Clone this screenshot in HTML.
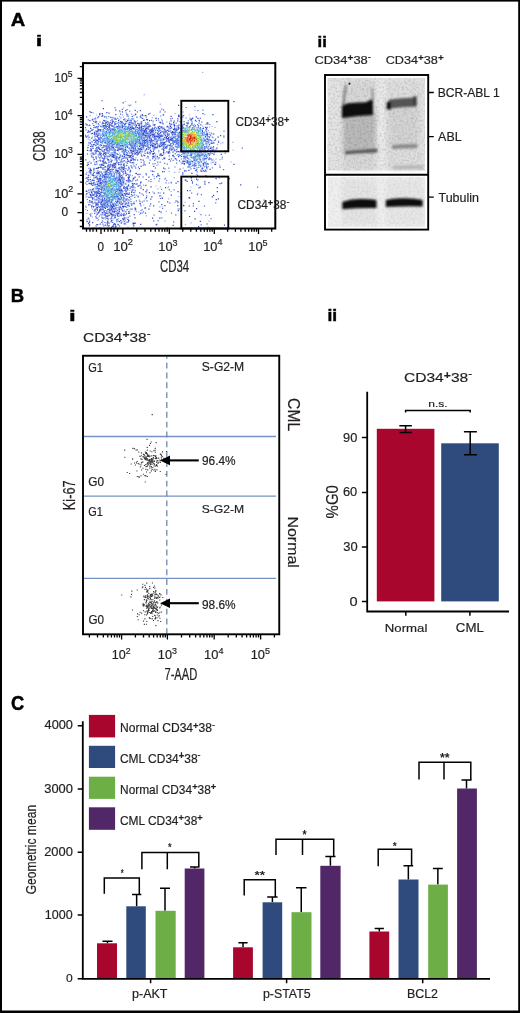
<!DOCTYPE html>
<html><head><meta charset="utf-8"><style>
html,body{margin:0;padding:0;background:#fff;overflow:hidden;}
svg{display:block;}
svg text{font-family:"Liberation Sans",sans-serif;}
</style></head><body>
<svg style="will-change:transform" width="520" height="1013" viewBox="0 0 520 1013">
<rect x="0" y="0" width="520" height="1.6" fill="#000" /><rect x="0" y="0" width="2" height="1013" fill="#000" /><rect x="518.2" y="0" width="1.8" height="1013" fill="#000" /><rect x="0" y="1010.5" width="520" height="2.5" fill="#000" /><g transform="translate(10.75,26.30) scale(0.10037,0.09130)" fill="#000" font-weight="bold" stroke="#000" stroke-width="4.70" ><text x="0.00" y="0.00" font-size="200">A</text></g><g transform="translate(35.85,46.30) scale(0.11786,0.07379)" fill="#000" font-weight="bold" stroke="#000" stroke-width="4.83" ><text x="0.00" y="0.00" font-size="200">i</text></g><g transform="translate(10.70,301.50) scale(0.09262,0.09130)" fill="#000" font-weight="bold" stroke="#000" stroke-width="4.89" ><text x="0.00" y="0.00" font-size="200">B</text></g><g transform="translate(69.10,320.50) scale(0.12143,0.07448)" fill="#000" font-weight="bold" stroke="#000" stroke-width="4.73" ><text x="0.00" y="0.00" font-size="200">i</text></g><g transform="translate(327.48,320.90) scale(0.08690,0.08000)" fill="#000" font-weight="bold" stroke="#000" stroke-width="5.40" ><text x="0.00" y="0.00" font-size="200">ii</text></g><g transform="translate(317.53,46.70) scale(0.08333,0.07724)" fill="#000" font-weight="bold" stroke="#000" stroke-width="5.61" ><text x="0.00" y="0.00" font-size="200">ii</text></g><g transform="translate(11.07,709.61) scale(0.09160,0.09718)" fill="#000" font-weight="bold" stroke="#000" stroke-width="4.77" ><text x="0.00" y="0.00" font-size="200">C</text></g><path d="M77.5 78.3H83M79.8 66.7H83M77.5 115.7H83M79.8 104.1H83M79.8 97.3H83M79.8 92.5H83M79.8 88.8H83M79.8 85.7H83M79.8 83.2H83M79.8 80.9H83M79.8 79.0H83M77.5 154.3H83M79.8 142.7H83M79.8 135.9H83M79.8 131.1H83M79.8 127.4H83M79.8 124.3H83M79.8 121.8H83M79.8 119.5H83M79.8 117.6H83M77.5 193.8H83M79.8 182.2H83M79.8 175.4H83M79.8 170.6H83M79.8 166.9H83M79.8 163.8H83M79.8 161.3H83M79.8 159.0H83M79.8 157.1H83M77.5 212.6H83M79.8 202.5H83M79.8 220.5H83M79.8 226.5H83M122.8 228.5V234.0M136.8 228.5V231.8M145.0 228.5V231.8M150.8 228.5V231.8M155.3 228.5V231.8M159.0 228.5V231.8M162.1 228.5V231.8M164.8 228.5V231.8M167.2 228.5V231.8M169.3 228.5V234.0M182.8 228.5V231.8M190.8 228.5V231.8M196.4 228.5V231.8M200.8 228.5V231.8M204.3 228.5V231.8M207.3 228.5V231.8M209.9 228.5V231.8M212.2 228.5V231.8M214.3 228.5V234.0M227.6 228.5V231.8M235.4 228.5V231.8M240.9 228.5V231.8M245.2 228.5V231.8M248.7 228.5V231.8M251.7 228.5V231.8M254.2 228.5V231.8M256.5 228.5V231.8M258.5 228.5V234.0M271.7 228.5V231.8M101 228.5V234.0M86.5 228.5V231.8M90 228.5V231.8M93 228.5V231.8M96.5 228.5V231.8M104.5 228.5V231.8M108 228.5V231.8M111 228.5V231.8M114 228.5V231.8M117.5 228.5V231.8" stroke="#000" stroke-width="1.3" fill="none" /><defs><filter id="bl" x="-10%" y="-10%" width="120%" height="120%"><feGaussianBlur stdDeviation="0.8"/></filter></defs><g><path fill="#98acf0" d="M202.1 71.7h1.2v1.2h-1.2zM143.6 94.1h1.2v1.2h-1.2zM124.6 101.0h1.2v1.2h-1.2zM159.6 103.5h1.2v1.2h-1.2zM127.7 104.6h1.2v1.2h-1.2zM130.3 104.2h1.2v1.2h-1.2zM122.7 107.5h1.2v1.2h-1.2zM194.4 109.9h1.2v1.2h-1.2zM119.4 111.1h1.2v1.2h-1.2zM159.5 111.7h1.2v1.2h-1.2zM92.6 112.6h1.2v1.2h-1.2zM125.6 112.2h1.2v1.2h-1.2zM149.6 112.6h1.2v1.2h-1.2zM130.8 113.6h1.2v1.2h-1.2zM149.0 112.9h1.2v1.2h-1.2zM174.4 113.1h1.2v1.2h-1.2zM95.9 114.4h1.2v1.2h-1.2zM122.0 114.3h1.2v1.2h-1.2zM132.5 114.4h1.2v1.2h-1.2zM153.2 114.7h1.2v1.2h-1.2zM163.0 114.3h1.2v1.2h-1.2zM182.7 114.7h1.2v1.2h-1.2zM189.0 114.4h1.2v1.2h-1.2zM204.2 114.0h1.2v1.2h-1.2zM89.5 115.1h1.2v1.2h-1.2zM126.3 115.3h1.2v1.2h-1.2zM133.5 115.1h1.2v1.2h-1.2zM119.0 115.9h1.2v1.2h-1.2zM122.8 116.6h1.2v1.2h-1.2zM97.0 117.3h1.2v1.2h-1.2zM145.8 117.1h1.2v1.2h-1.2zM151.7 117.0h1.2v1.2h-1.2zM155.7 117.0h1.2v1.2h-1.2zM189.2 117.2h1.2v1.2h-1.2zM106.2 117.9h1.2v1.2h-1.2zM111.2 118.5h1.2v1.2h-1.2zM112.7 118.0h1.2v1.2h-1.2zM133.1 118.3h1.2v1.2h-1.2zM161.0 118.5h1.2v1.2h-1.2zM190.0 118.6h1.2v1.2h-1.2zM118.5 119.0h1.2v1.2h-1.2zM126.5 119.2h1.2v1.2h-1.2zM129.6 119.3h1.2v1.2h-1.2zM130.7 119.7h1.2v1.2h-1.2zM190.0 119.5h1.2v1.2h-1.2zM109.8 120.4h1.2v1.2h-1.2zM110.1 120.0h1.2v1.2h-1.2zM135.2 120.7h1.2v1.2h-1.2zM137.0 120.0h1.2v1.2h-1.2zM158.2 120.1h1.2v1.2h-1.2zM187.7 119.9h1.2v1.2h-1.2zM133.5 121.3h1.2v1.2h-1.2zM141.3 121.5h1.2v1.2h-1.2zM160.0 121.5h1.2v1.2h-1.2zM166.3 121.3h1.2v1.2h-1.2zM169.0 121.5h1.2v1.2h-1.2zM187.4 121.6h1.2v1.2h-1.2zM105.9 122.5h1.2v1.2h-1.2zM137.4 122.6h1.2v1.2h-1.2zM139.5 122.4h1.2v1.2h-1.2zM152.4 122.6h1.2v1.2h-1.2zM95.7 123.0h1.2v1.2h-1.2zM111.3 122.9h1.2v1.2h-1.2zM120.3 123.0h1.2v1.2h-1.2zM148.3 123.5h1.2v1.2h-1.2zM180.5 123.8h1.2v1.2h-1.2zM194.0 123.8h1.2v1.2h-1.2zM205.1 123.8h1.2v1.2h-1.2zM207.2 123.8h1.2v1.2h-1.2zM85.8 124.5h1.2v1.2h-1.2zM108.7 124.0h1.2v1.2h-1.2zM120.5 124.2h1.2v1.2h-1.2zM133.5 124.5h1.2v1.2h-1.2zM139.2 124.4h1.2v1.2h-1.2zM183.3 124.0h1.2v1.2h-1.2zM87.6 125.1h1.2v1.2h-1.2zM100.1 125.2h1.2v1.2h-1.2zM107.8 125.1h1.2v1.2h-1.2zM113.7 125.6h1.2v1.2h-1.2zM120.6 125.7h1.2v1.2h-1.2zM125.3 125.8h1.2v1.2h-1.2zM129.2 125.2h1.2v1.2h-1.2zM135.4 125.7h1.2v1.2h-1.2zM140.3 125.6h1.2v1.2h-1.2zM143.5 125.0h1.2v1.2h-1.2zM150.1 125.2h1.2v1.2h-1.2zM154.5 125.4h1.2v1.2h-1.2zM174.5 125.0h1.2v1.2h-1.2zM202.2 125.7h1.2v1.2h-1.2zM108.0 126.6h1.2v1.2h-1.2zM121.4 126.5h1.2v1.2h-1.2zM160.6 126.3h1.2v1.2h-1.2zM209.0 126.4h1.2v1.2h-1.2zM211.5 125.9h1.2v1.2h-1.2zM214.5 126.7h1.2v1.2h-1.2zM134.7 127.0h1.2v1.2h-1.2zM168.3 127.6h1.2v1.2h-1.2zM171.3 127.5h1.2v1.2h-1.2zM176.0 127.5h1.2v1.2h-1.2zM191.7 127.2h1.2v1.2h-1.2zM96.9 128.7h1.2v1.2h-1.2zM103.6 127.9h1.2v1.2h-1.2zM126.9 128.7h1.2v1.2h-1.2zM128.5 128.1h1.2v1.2h-1.2zM147.6 128.3h1.2v1.2h-1.2zM150.6 128.4h1.2v1.2h-1.2zM160.4 128.3h1.2v1.2h-1.2zM168.3 128.3h1.2v1.2h-1.2zM172.6 128.4h1.2v1.2h-1.2zM116.4 129.7h1.2v1.2h-1.2zM121.1 129.6h1.2v1.2h-1.2zM134.7 129.6h1.2v1.2h-1.2zM157.2 129.5h1.2v1.2h-1.2zM164.3 129.2h1.2v1.2h-1.2zM166.4 129.5h1.2v1.2h-1.2zM167.7 129.0h1.2v1.2h-1.2zM175.7 129.6h1.2v1.2h-1.2zM91.7 129.9h1.2v1.2h-1.2zM98.0 130.5h1.2v1.2h-1.2zM111.6 130.6h1.2v1.2h-1.2zM123.5 130.7h1.2v1.2h-1.2zM134.7 130.3h1.2v1.2h-1.2zM137.2 130.5h1.2v1.2h-1.2zM153.6 130.3h1.2v1.2h-1.2zM166.3 130.2h1.2v1.2h-1.2zM176.3 130.0h1.2v1.2h-1.2zM205.3 130.0h1.2v1.2h-1.2zM207.8 130.1h1.2v1.2h-1.2zM101.2 130.9h1.2v1.2h-1.2zM102.5 131.3h1.2v1.2h-1.2zM104.7 131.1h1.2v1.2h-1.2zM139.0 131.8h1.2v1.2h-1.2zM150.2 131.2h1.2v1.2h-1.2zM161.5 131.7h1.2v1.2h-1.2zM204.1 131.3h1.2v1.2h-1.2zM99.3 132.5h1.2v1.2h-1.2zM146.7 132.5h1.2v1.2h-1.2zM154.7 132.2h1.2v1.2h-1.2zM166.8 132.0h1.2v1.2h-1.2zM167.4 132.7h1.2v1.2h-1.2zM174.4 132.2h1.2v1.2h-1.2zM202.0 132.2h1.2v1.2h-1.2zM208.7 132.1h1.2v1.2h-1.2zM95.8 133.1h1.2v1.2h-1.2zM99.0 133.4h1.2v1.2h-1.2zM101.5 133.0h1.2v1.2h-1.2zM103.5 133.6h1.2v1.2h-1.2zM156.5 133.6h1.2v1.2h-1.2zM160.9 133.7h1.2v1.2h-1.2zM165.0 133.3h1.2v1.2h-1.2zM167.1 133.7h1.2v1.2h-1.2zM84.9 134.6h1.2v1.2h-1.2zM87.8 134.5h1.2v1.2h-1.2zM94.4 134.3h1.2v1.2h-1.2zM149.6 134.1h1.2v1.2h-1.2zM151.4 134.8h1.2v1.2h-1.2zM154.0 134.7h1.2v1.2h-1.2zM160.3 134.7h1.2v1.2h-1.2zM161.5 134.7h1.2v1.2h-1.2zM174.3 134.2h1.2v1.2h-1.2zM105.7 135.0h1.2v1.2h-1.2zM141.7 135.2h1.2v1.2h-1.2zM142.7 135.0h1.2v1.2h-1.2zM163.6 135.4h1.2v1.2h-1.2zM171.7 135.4h1.2v1.2h-1.2zM174.5 135.6h1.2v1.2h-1.2zM176.4 135.0h1.2v1.2h-1.2zM92.0 136.5h1.2v1.2h-1.2zM152.5 136.7h1.2v1.2h-1.2zM152.9 136.6h1.2v1.2h-1.2zM154.8 136.6h1.2v1.2h-1.2zM166.0 136.0h1.2v1.2h-1.2zM169.1 136.2h1.2v1.2h-1.2zM170.7 136.0h1.2v1.2h-1.2zM172.6 136.5h1.2v1.2h-1.2zM90.7 137.4h1.2v1.2h-1.2zM97.0 137.1h1.2v1.2h-1.2zM145.1 137.2h1.2v1.2h-1.2zM149.2 137.2h1.2v1.2h-1.2zM155.2 137.6h1.2v1.2h-1.2zM165.3 137.7h1.2v1.2h-1.2zM169.8 137.2h1.2v1.2h-1.2zM212.6 137.0h1.2v1.2h-1.2zM223.3 137.0h1.2v1.2h-1.2zM87.7 138.2h1.2v1.2h-1.2zM100.3 138.2h1.2v1.2h-1.2zM105.3 138.1h1.2v1.2h-1.2zM143.2 138.1h1.2v1.2h-1.2zM149.2 138.5h1.2v1.2h-1.2zM153.8 138.3h1.2v1.2h-1.2zM154.2 138.6h1.2v1.2h-1.2zM92.7 139.5h1.2v1.2h-1.2zM141.9 139.4h1.2v1.2h-1.2zM148.0 139.7h1.2v1.2h-1.2zM156.3 139.3h1.2v1.2h-1.2zM157.2 139.3h1.2v1.2h-1.2zM162.8 139.3h1.2v1.2h-1.2zM171.6 139.2h1.2v1.2h-1.2zM173.3 139.7h1.2v1.2h-1.2zM210.2 139.6h1.2v1.2h-1.2zM105.4 140.0h1.2v1.2h-1.2zM153.5 140.8h1.2v1.2h-1.2zM212.6 140.4h1.2v1.2h-1.2zM218.0 140.6h1.2v1.2h-1.2zM90.9 141.1h1.2v1.2h-1.2zM105.1 141.6h1.2v1.2h-1.2zM164.7 141.0h1.2v1.2h-1.2zM211.3 141.6h1.2v1.2h-1.2zM232.5 141.7h1.2v1.2h-1.2zM90.0 142.8h1.2v1.2h-1.2zM95.4 142.2h1.2v1.2h-1.2zM102.0 142.7h1.2v1.2h-1.2zM134.7 142.4h1.2v1.2h-1.2zM141.8 142.1h1.2v1.2h-1.2zM145.3 142.5h1.2v1.2h-1.2zM156.6 142.0h1.2v1.2h-1.2zM159.9 142.5h1.2v1.2h-1.2zM171.6 142.4h1.2v1.2h-1.2zM202.3 142.6h1.2v1.2h-1.2zM222.3 142.1h1.2v1.2h-1.2zM101.7 143.0h1.2v1.2h-1.2zM111.6 142.9h1.2v1.2h-1.2zM113.7 143.5h1.2v1.2h-1.2zM127.0 142.9h1.2v1.2h-1.2zM134.4 143.1h1.2v1.2h-1.2zM142.5 143.2h1.2v1.2h-1.2zM147.6 143.6h1.2v1.2h-1.2zM148.5 143.7h1.2v1.2h-1.2zM149.6 143.6h1.2v1.2h-1.2zM150.1 143.5h1.2v1.2h-1.2zM152.5 143.4h1.2v1.2h-1.2zM157.4 143.5h1.2v1.2h-1.2zM160.2 143.2h1.2v1.2h-1.2zM161.2 143.5h1.2v1.2h-1.2zM176.7 143.3h1.2v1.2h-1.2zM179.3 142.9h1.2v1.2h-1.2zM210.6 142.9h1.2v1.2h-1.2zM216.9 143.7h1.2v1.2h-1.2zM220.5 143.0h1.2v1.2h-1.2zM99.2 144.2h1.2v1.2h-1.2zM106.5 144.8h1.2v1.2h-1.2zM107.0 144.8h1.2v1.2h-1.2zM108.5 144.5h1.2v1.2h-1.2zM121.6 144.8h1.2v1.2h-1.2zM125.1 144.0h1.2v1.2h-1.2zM126.3 144.3h1.2v1.2h-1.2zM145.6 144.3h1.2v1.2h-1.2zM146.8 144.3h1.2v1.2h-1.2zM147.4 144.5h1.2v1.2h-1.2zM153.7 144.1h1.2v1.2h-1.2zM157.0 144.0h1.2v1.2h-1.2zM164.4 144.1h1.2v1.2h-1.2zM167.0 144.4h1.2v1.2h-1.2zM172.1 144.6h1.2v1.2h-1.2zM176.5 144.1h1.2v1.2h-1.2zM97.7 145.7h1.2v1.2h-1.2zM103.3 145.2h1.2v1.2h-1.2zM106.1 145.4h1.2v1.2h-1.2zM111.2 145.6h1.2v1.2h-1.2zM136.7 145.7h1.2v1.2h-1.2zM142.2 145.1h1.2v1.2h-1.2zM146.6 145.6h1.2v1.2h-1.2zM167.0 145.6h1.2v1.2h-1.2zM171.2 145.5h1.2v1.2h-1.2zM91.6 146.2h1.2v1.2h-1.2zM102.8 145.9h1.2v1.2h-1.2zM108.9 146.6h1.2v1.2h-1.2zM113.7 146.0h1.2v1.2h-1.2zM121.2 146.3h1.2v1.2h-1.2zM130.5 146.0h1.2v1.2h-1.2zM133.5 145.9h1.2v1.2h-1.2zM146.1 145.9h1.2v1.2h-1.2zM162.6 146.0h1.2v1.2h-1.2zM162.9 146.2h1.2v1.2h-1.2zM176.3 146.1h1.2v1.2h-1.2zM178.2 146.7h1.2v1.2h-1.2zM178.9 146.2h1.2v1.2h-1.2zM118.4 147.2h1.2v1.2h-1.2zM135.1 147.1h1.2v1.2h-1.2zM141.5 146.9h1.2v1.2h-1.2zM165.8 147.4h1.2v1.2h-1.2zM202.2 147.1h1.2v1.2h-1.2zM207.9 147.2h1.2v1.2h-1.2zM106.2 148.3h1.2v1.2h-1.2zM143.3 148.6h1.2v1.2h-1.2zM152.2 147.9h1.2v1.2h-1.2zM154.2 148.4h1.2v1.2h-1.2zM207.6 148.7h1.2v1.2h-1.2zM105.4 149.4h1.2v1.2h-1.2zM124.4 149.4h1.2v1.2h-1.2zM127.2 149.7h1.2v1.2h-1.2zM132.8 149.1h1.2v1.2h-1.2zM137.5 149.6h1.2v1.2h-1.2zM202.5 149.5h1.2v1.2h-1.2zM214.4 149.0h1.2v1.2h-1.2zM232.5 149.4h1.2v1.2h-1.2zM88.6 150.0h1.2v1.2h-1.2zM117.7 150.2h1.2v1.2h-1.2zM121.6 150.4h1.2v1.2h-1.2zM124.8 150.4h1.2v1.2h-1.2zM134.3 150.4h1.2v1.2h-1.2zM138.5 150.5h1.2v1.2h-1.2zM144.9 150.0h1.2v1.2h-1.2zM158.3 150.0h1.2v1.2h-1.2zM173.2 150.3h1.2v1.2h-1.2zM174.7 150.2h1.2v1.2h-1.2zM200.6 150.5h1.2v1.2h-1.2zM203.0 149.9h1.2v1.2h-1.2zM100.2 151.3h1.2v1.2h-1.2zM143.5 151.2h1.2v1.2h-1.2zM148.8 151.8h1.2v1.2h-1.2zM158.1 151.3h1.2v1.2h-1.2zM189.5 151.6h1.2v1.2h-1.2zM99.4 152.2h1.2v1.2h-1.2zM110.6 152.3h1.2v1.2h-1.2zM119.1 152.4h1.2v1.2h-1.2zM128.6 152.5h1.2v1.2h-1.2zM129.1 152.0h1.2v1.2h-1.2zM141.2 151.9h1.2v1.2h-1.2zM150.0 152.3h1.2v1.2h-1.2zM164.4 152.3h1.2v1.2h-1.2zM183.6 152.5h1.2v1.2h-1.2zM89.9 153.4h1.2v1.2h-1.2zM113.6 153.5h1.2v1.2h-1.2zM114.7 153.6h1.2v1.2h-1.2zM118.0 153.5h1.2v1.2h-1.2zM129.4 153.0h1.2v1.2h-1.2zM132.5 153.1h1.2v1.2h-1.2zM140.2 152.9h1.2v1.2h-1.2zM155.2 153.5h1.2v1.2h-1.2zM185.1 153.4h1.2v1.2h-1.2zM91.2 154.6h1.2v1.2h-1.2zM92.3 154.0h1.2v1.2h-1.2zM93.7 153.9h1.2v1.2h-1.2zM99.0 154.3h1.2v1.2h-1.2zM120.2 154.4h1.2v1.2h-1.2zM137.1 154.1h1.2v1.2h-1.2zM176.4 154.7h1.2v1.2h-1.2zM183.5 154.4h1.2v1.2h-1.2zM213.1 154.0h1.2v1.2h-1.2zM106.0 155.3h1.2v1.2h-1.2zM207.5 155.4h1.2v1.2h-1.2zM90.7 156.2h1.2v1.2h-1.2zM100.4 156.6h1.2v1.2h-1.2zM107.0 155.9h1.2v1.2h-1.2zM111.3 156.4h1.2v1.2h-1.2zM115.2 156.5h1.2v1.2h-1.2zM116.2 156.6h1.2v1.2h-1.2zM120.4 156.0h1.2v1.2h-1.2zM196.4 156.7h1.2v1.2h-1.2zM198.2 156.5h1.2v1.2h-1.2zM101.2 157.3h1.2v1.2h-1.2zM105.4 157.4h1.2v1.2h-1.2zM107.1 157.1h1.2v1.2h-1.2zM135.4 157.0h1.2v1.2h-1.2zM145.7 157.3h1.2v1.2h-1.2zM155.1 157.5h1.2v1.2h-1.2zM157.0 157.1h1.2v1.2h-1.2zM208.1 157.8h1.2v1.2h-1.2zM118.0 158.0h1.2v1.2h-1.2zM131.3 158.5h1.2v1.2h-1.2zM135.1 158.8h1.2v1.2h-1.2zM157.7 158.5h1.2v1.2h-1.2zM162.0 158.7h1.2v1.2h-1.2zM184.4 158.5h1.2v1.2h-1.2zM185.2 158.7h1.2v1.2h-1.2zM215.4 158.5h1.2v1.2h-1.2zM99.5 158.9h1.2v1.2h-1.2zM114.1 159.3h1.2v1.2h-1.2zM118.4 159.0h1.2v1.2h-1.2zM119.2 159.4h1.2v1.2h-1.2zM121.4 159.3h1.2v1.2h-1.2zM203.1 159.3h1.2v1.2h-1.2zM212.4 159.1h1.2v1.2h-1.2zM219.3 159.1h1.2v1.2h-1.2zM93.1 160.3h1.2v1.2h-1.2zM97.5 160.1h1.2v1.2h-1.2zM99.1 160.0h1.2v1.2h-1.2zM107.2 160.3h1.2v1.2h-1.2zM132.9 160.3h1.2v1.2h-1.2zM184.9 160.5h1.2v1.2h-1.2zM188.0 160.4h1.2v1.2h-1.2zM205.8 160.7h1.2v1.2h-1.2zM213.6 160.4h1.2v1.2h-1.2zM88.6 161.1h1.2v1.2h-1.2zM109.5 161.2h1.2v1.2h-1.2zM120.2 161.3h1.2v1.2h-1.2zM180.2 161.7h1.2v1.2h-1.2zM184.7 161.3h1.2v1.2h-1.2zM204.3 161.5h1.2v1.2h-1.2zM230.5 161.4h1.2v1.2h-1.2zM114.7 162.7h1.2v1.2h-1.2zM118.0 162.5h1.2v1.2h-1.2zM121.4 162.0h1.2v1.2h-1.2zM143.3 162.2h1.2v1.2h-1.2zM181.8 162.6h1.2v1.2h-1.2zM199.3 162.3h1.2v1.2h-1.2zM210.6 162.3h1.2v1.2h-1.2zM108.0 163.6h1.2v1.2h-1.2zM110.3 163.5h1.2v1.2h-1.2zM112.5 163.6h1.2v1.2h-1.2zM115.6 163.5h1.2v1.2h-1.2zM157.5 163.5h1.2v1.2h-1.2zM180.8 163.3h1.2v1.2h-1.2zM189.7 163.3h1.2v1.2h-1.2zM196.0 163.2h1.2v1.2h-1.2zM107.5 164.6h1.2v1.2h-1.2zM132.7 164.2h1.2v1.2h-1.2zM156.3 164.7h1.2v1.2h-1.2zM219.0 164.6h1.2v1.2h-1.2zM124.0 165.8h1.2v1.2h-1.2zM125.7 165.2h1.2v1.2h-1.2zM191.1 165.8h1.2v1.2h-1.2zM200.5 165.0h1.2v1.2h-1.2zM111.5 166.4h1.2v1.2h-1.2zM113.3 166.7h1.2v1.2h-1.2zM119.3 166.5h1.2v1.2h-1.2zM134.6 166.2h1.2v1.2h-1.2zM193.4 166.1h1.2v1.2h-1.2zM201.7 166.8h1.2v1.2h-1.2zM204.6 165.9h1.2v1.2h-1.2zM207.8 166.1h1.2v1.2h-1.2zM88.0 167.7h1.2v1.2h-1.2zM89.6 167.5h1.2v1.2h-1.2zM102.4 167.6h1.2v1.2h-1.2zM106.9 166.9h1.2v1.2h-1.2zM117.5 167.8h1.2v1.2h-1.2zM182.7 167.5h1.2v1.2h-1.2zM118.7 168.1h1.2v1.2h-1.2zM194.3 168.0h1.2v1.2h-1.2zM206.6 168.5h1.2v1.2h-1.2zM120.3 169.5h1.2v1.2h-1.2zM196.4 169.0h1.2v1.2h-1.2zM93.2 170.6h1.2v1.2h-1.2zM110.9 170.7h1.2v1.2h-1.2zM117.2 170.5h1.2v1.2h-1.2zM168.6 170.7h1.2v1.2h-1.2zM86.4 171.7h1.2v1.2h-1.2zM99.6 171.3h1.2v1.2h-1.2zM101.1 171.7h1.2v1.2h-1.2zM174.1 171.8h1.2v1.2h-1.2zM178.6 171.5h1.2v1.2h-1.2zM205.7 171.1h1.2v1.2h-1.2zM105.9 172.5h1.2v1.2h-1.2zM99.2 173.5h1.2v1.2h-1.2zM102.1 173.4h1.2v1.2h-1.2zM137.6 173.4h1.2v1.2h-1.2zM196.1 173.7h1.2v1.2h-1.2zM90.5 174.2h1.2v1.2h-1.2zM107.6 174.0h1.2v1.2h-1.2zM96.6 175.0h1.2v1.2h-1.2zM97.2 175.0h1.2v1.2h-1.2zM101.7 175.3h1.2v1.2h-1.2zM106.0 175.7h1.2v1.2h-1.2zM109.7 175.4h1.2v1.2h-1.2zM117.7 175.4h1.2v1.2h-1.2zM125.4 175.1h1.2v1.2h-1.2zM131.8 175.0h1.2v1.2h-1.2zM153.4 175.7h1.2v1.2h-1.2zM89.8 176.6h1.2v1.2h-1.2zM98.9 176.0h1.2v1.2h-1.2zM100.2 176.2h1.2v1.2h-1.2zM114.1 176.6h1.2v1.2h-1.2zM120.4 176.5h1.2v1.2h-1.2zM127.1 176.7h1.2v1.2h-1.2zM186.2 176.6h1.2v1.2h-1.2zM210.3 176.3h1.2v1.2h-1.2zM98.3 177.8h1.2v1.2h-1.2zM112.8 177.4h1.2v1.2h-1.2zM123.7 177.5h1.2v1.2h-1.2zM164.9 177.7h1.2v1.2h-1.2zM173.6 177.1h1.2v1.2h-1.2zM196.0 177.5h1.2v1.2h-1.2zM96.3 178.7h1.2v1.2h-1.2zM121.3 178.0h1.2v1.2h-1.2zM123.6 178.0h1.2v1.2h-1.2zM190.5 178.1h1.2v1.2h-1.2zM123.8 179.2h1.2v1.2h-1.2zM197.7 179.1h1.2v1.2h-1.2zM91.3 180.1h1.2v1.2h-1.2zM97.8 180.7h1.2v1.2h-1.2zM104.5 180.7h1.2v1.2h-1.2zM107.4 180.3h1.2v1.2h-1.2zM131.7 180.8h1.2v1.2h-1.2zM197.1 180.1h1.2v1.2h-1.2zM97.2 181.2h1.2v1.2h-1.2zM91.5 182.6h1.2v1.2h-1.2zM122.0 182.0h1.2v1.2h-1.2zM125.2 182.5h1.2v1.2h-1.2zM168.2 182.6h1.2v1.2h-1.2zM90.0 182.9h1.2v1.2h-1.2zM123.7 183.2h1.2v1.2h-1.2zM132.5 183.2h1.2v1.2h-1.2zM99.1 184.4h1.2v1.2h-1.2zM133.2 184.4h1.2v1.2h-1.2zM197.3 184.7h1.2v1.2h-1.2zM121.0 185.4h1.2v1.2h-1.2zM140.7 185.8h1.2v1.2h-1.2zM155.5 185.4h1.2v1.2h-1.2zM102.2 186.4h1.2v1.2h-1.2zM126.0 186.4h1.2v1.2h-1.2zM159.7 186.2h1.2v1.2h-1.2zM168.2 186.3h1.2v1.2h-1.2zM190.3 186.4h1.2v1.2h-1.2zM94.3 187.6h1.2v1.2h-1.2zM131.9 187.0h1.2v1.2h-1.2zM133.5 187.3h1.2v1.2h-1.2zM134.7 187.0h1.2v1.2h-1.2zM167.4 187.0h1.2v1.2h-1.2zM95.6 188.0h1.2v1.2h-1.2zM102.3 188.5h1.2v1.2h-1.2zM103.7 188.5h1.2v1.2h-1.2zM113.9 188.1h1.2v1.2h-1.2zM120.5 188.4h1.2v1.2h-1.2zM124.6 188.5h1.2v1.2h-1.2zM157.3 188.3h1.2v1.2h-1.2zM95.5 189.0h1.2v1.2h-1.2zM129.1 189.8h1.2v1.2h-1.2zM91.7 190.5h1.2v1.2h-1.2zM114.4 190.5h1.2v1.2h-1.2zM87.0 191.2h1.2v1.2h-1.2zM98.1 191.4h1.2v1.2h-1.2zM102.0 191.8h1.2v1.2h-1.2zM111.3 191.3h1.2v1.2h-1.2zM121.2 191.3h1.2v1.2h-1.2zM134.6 191.2h1.2v1.2h-1.2zM152.2 191.2h1.2v1.2h-1.2zM170.4 190.9h1.2v1.2h-1.2zM96.2 192.0h1.2v1.2h-1.2zM99.3 192.5h1.2v1.2h-1.2zM101.3 192.1h1.2v1.2h-1.2zM112.0 192.6h1.2v1.2h-1.2zM146.0 192.4h1.2v1.2h-1.2zM180.0 192.3h1.2v1.2h-1.2zM197.3 192.7h1.2v1.2h-1.2zM97.1 193.0h1.2v1.2h-1.2zM120.2 193.4h1.2v1.2h-1.2zM123.3 193.1h1.2v1.2h-1.2zM126.9 193.0h1.2v1.2h-1.2zM180.3 193.5h1.2v1.2h-1.2zM136.0 194.7h1.2v1.2h-1.2zM94.3 195.5h1.2v1.2h-1.2zM118.6 195.0h1.2v1.2h-1.2zM120.1 195.2h1.2v1.2h-1.2zM124.7 195.4h1.2v1.2h-1.2zM137.6 195.6h1.2v1.2h-1.2zM160.4 195.1h1.2v1.2h-1.2zM87.2 195.9h1.2v1.2h-1.2zM89.7 196.4h1.2v1.2h-1.2zM129.7 196.0h1.2v1.2h-1.2zM178.1 195.9h1.2v1.2h-1.2zM117.0 197.3h1.2v1.2h-1.2zM119.1 197.4h1.2v1.2h-1.2zM123.9 197.4h1.2v1.2h-1.2zM128.4 197.0h1.2v1.2h-1.2zM160.7 197.5h1.2v1.2h-1.2zM95.6 198.5h1.2v1.2h-1.2zM96.6 198.6h1.2v1.2h-1.2zM99.3 198.0h1.2v1.2h-1.2zM121.3 198.4h1.2v1.2h-1.2zM144.7 198.3h1.2v1.2h-1.2zM168.1 198.2h1.2v1.2h-1.2zM97.1 199.2h1.2v1.2h-1.2zM98.1 199.7h1.2v1.2h-1.2zM105.7 199.3h1.2v1.2h-1.2zM108.0 199.3h1.2v1.2h-1.2zM122.3 199.0h1.2v1.2h-1.2zM138.7 199.6h1.2v1.2h-1.2zM97.6 200.2h1.2v1.2h-1.2zM116.6 200.0h1.2v1.2h-1.2zM119.7 200.6h1.2v1.2h-1.2zM122.4 199.9h1.2v1.2h-1.2zM127.5 200.4h1.2v1.2h-1.2zM129.3 200.3h1.2v1.2h-1.2zM87.4 201.5h1.2v1.2h-1.2zM94.5 201.3h1.2v1.2h-1.2zM127.3 201.1h1.2v1.2h-1.2zM174.5 201.7h1.2v1.2h-1.2zM184.5 201.7h1.2v1.2h-1.2zM99.7 202.7h1.2v1.2h-1.2zM114.2 202.5h1.2v1.2h-1.2zM125.4 203.7h1.2v1.2h-1.2zM126.3 203.0h1.2v1.2h-1.2zM129.6 203.2h1.2v1.2h-1.2zM117.7 204.6h1.2v1.2h-1.2zM121.9 204.0h1.2v1.2h-1.2zM143.2 204.4h1.2v1.2h-1.2zM85.0 205.5h1.2v1.2h-1.2zM92.1 205.6h1.2v1.2h-1.2zM100.4 205.2h1.2v1.2h-1.2zM105.2 205.3h1.2v1.2h-1.2zM117.4 205.1h1.2v1.2h-1.2zM127.1 206.4h1.2v1.2h-1.2zM159.3 206.3h1.2v1.2h-1.2zM162.0 206.4h1.2v1.2h-1.2zM91.0 207.4h1.2v1.2h-1.2zM111.2 207.0h1.2v1.2h-1.2zM115.0 207.2h1.2v1.2h-1.2zM116.7 206.9h1.2v1.2h-1.2zM120.3 207.5h1.2v1.2h-1.2zM92.0 208.7h1.2v1.2h-1.2zM95.4 207.9h1.2v1.2h-1.2zM108.9 208.5h1.2v1.2h-1.2zM113.7 208.2h1.2v1.2h-1.2zM128.4 208.5h1.2v1.2h-1.2zM135.5 208.5h1.2v1.2h-1.2zM177.3 208.3h1.2v1.2h-1.2zM85.1 208.9h1.2v1.2h-1.2zM124.0 209.5h1.2v1.2h-1.2zM100.4 210.5h1.2v1.2h-1.2zM115.0 210.8h1.2v1.2h-1.2zM116.4 210.4h1.2v1.2h-1.2zM129.3 210.4h1.2v1.2h-1.2zM136.0 210.8h1.2v1.2h-1.2zM165.6 210.7h1.2v1.2h-1.2zM109.2 211.8h1.2v1.2h-1.2zM112.1 211.6h1.2v1.2h-1.2zM138.2 211.6h1.2v1.2h-1.2zM86.3 212.7h1.2v1.2h-1.2zM119.4 212.1h1.2v1.2h-1.2zM160.7 212.2h1.2v1.2h-1.2zM91.4 213.1h1.2v1.2h-1.2zM100.1 213.8h1.2v1.2h-1.2zM105.2 213.3h1.2v1.2h-1.2zM107.8 213.0h1.2v1.2h-1.2zM139.2 213.7h1.2v1.2h-1.2zM117.3 214.0h1.2v1.2h-1.2zM119.5 214.5h1.2v1.2h-1.2zM205.0 214.7h1.2v1.2h-1.2zM98.7 215.7h1.2v1.2h-1.2zM99.1 215.1h1.2v1.2h-1.2zM108.4 215.0h1.2v1.2h-1.2zM113.5 215.0h1.2v1.2h-1.2zM121.1 215.0h1.2v1.2h-1.2zM145.8 215.3h1.2v1.2h-1.2zM91.8 216.5h1.2v1.2h-1.2zM106.5 216.6h1.2v1.2h-1.2zM107.3 216.1h1.2v1.2h-1.2zM117.2 215.9h1.2v1.2h-1.2zM95.4 217.3h1.2v1.2h-1.2zM104.8 218.6h1.2v1.2h-1.2zM108.2 218.3h1.2v1.2h-1.2zM112.5 217.9h1.2v1.2h-1.2zM118.1 218.1h1.2v1.2h-1.2zM98.0 219.1h1.2v1.2h-1.2zM110.3 218.9h1.2v1.2h-1.2zM112.2 219.6h1.2v1.2h-1.2zM97.2 219.9h1.2v1.2h-1.2zM101.8 220.1h1.2v1.2h-1.2zM102.3 220.7h1.2v1.2h-1.2zM164.5 220.5h1.2v1.2h-1.2zM208.4 220.5h1.2v1.2h-1.2zM127.7 221.7h1.2v1.2h-1.2zM113.2 222.5h1.2v1.2h-1.2zM190.5 222.3h1.2v1.2h-1.2zM125.2 223.8h1.2v1.2h-1.2zM117.7 224.6h1.2v1.2h-1.2zM184.9 224.1h1.2v1.2h-1.2zM106.5 226.4h1.2v1.2h-1.2zM127.4 226.4h1.2v1.2h-1.2zM132.5 226.7h1.2v1.2h-1.2zM207.5 226.3h1.2v1.2h-1.2zM93.5 227.5h1.2v1.2h-1.2zM109.1 227.1h1.2v1.2h-1.2z"/><path fill="#5672de" d="M101.4 100.1h1.2v1.2h-1.2zM129.2 105.0h1.2v1.2h-1.2zM194.3 106.0h1.2v1.2h-1.2zM114.4 107.0h1.2v1.2h-1.2zM185.5 106.9h1.2v1.2h-1.2zM161.3 108.6h1.2v1.2h-1.2zM126.5 109.1h1.2v1.2h-1.2zM202.3 109.5h1.2v1.2h-1.2zM119.1 110.3h1.2v1.2h-1.2zM159.7 110.4h1.2v1.2h-1.2zM89.2 111.0h1.2v1.2h-1.2zM136.8 111.3h1.2v1.2h-1.2zM164.4 111.2h1.2v1.2h-1.2zM182.5 111.4h1.2v1.2h-1.2zM91.1 111.9h1.2v1.2h-1.2zM120.0 113.6h1.2v1.2h-1.2zM126.0 113.6h1.2v1.2h-1.2zM127.1 114.3h1.2v1.2h-1.2zM134.8 114.1h1.2v1.2h-1.2zM127.5 115.8h1.2v1.2h-1.2zM140.3 114.9h1.2v1.2h-1.2zM145.7 115.2h1.2v1.2h-1.2zM160.1 115.4h1.2v1.2h-1.2zM183.1 114.9h1.2v1.2h-1.2zM268.3 115.1h1.2v1.2h-1.2zM97.3 116.7h1.2v1.2h-1.2zM98.0 116.0h1.2v1.2h-1.2zM105.9 116.4h1.2v1.2h-1.2zM108.2 116.0h1.2v1.2h-1.2zM95.0 117.6h1.2v1.2h-1.2zM114.5 117.6h1.2v1.2h-1.2zM117.2 117.7h1.2v1.2h-1.2zM120.2 117.4h1.2v1.2h-1.2zM141.3 117.4h1.2v1.2h-1.2zM171.8 117.7h1.2v1.2h-1.2zM180.4 117.2h1.2v1.2h-1.2zM185.4 117.4h1.2v1.2h-1.2zM199.7 117.8h1.2v1.2h-1.2zM92.1 118.8h1.2v1.2h-1.2zM115.6 118.8h1.2v1.2h-1.2zM131.3 118.3h1.2v1.2h-1.2zM157.8 118.3h1.2v1.2h-1.2zM170.1 118.3h1.2v1.2h-1.2zM87.7 119.3h1.2v1.2h-1.2zM95.2 119.4h1.2v1.2h-1.2zM103.4 119.7h1.2v1.2h-1.2zM143.9 119.6h1.2v1.2h-1.2zM150.9 119.7h1.2v1.2h-1.2zM155.8 119.7h1.2v1.2h-1.2zM93.0 120.7h1.2v1.2h-1.2zM104.0 120.6h1.2v1.2h-1.2zM105.3 120.3h1.2v1.2h-1.2zM112.7 120.8h1.2v1.2h-1.2zM120.0 120.8h1.2v1.2h-1.2zM129.3 120.2h1.2v1.2h-1.2zM130.7 119.9h1.2v1.2h-1.2zM152.5 120.5h1.2v1.2h-1.2zM161.7 120.3h1.2v1.2h-1.2zM195.6 120.8h1.2v1.2h-1.2zM96.1 121.0h1.2v1.2h-1.2zM99.4 121.6h1.2v1.2h-1.2zM102.3 121.4h1.2v1.2h-1.2zM113.4 121.4h1.2v1.2h-1.2zM135.1 121.3h1.2v1.2h-1.2zM140.7 121.1h1.2v1.2h-1.2zM159.2 121.7h1.2v1.2h-1.2zM183.5 121.1h1.2v1.2h-1.2zM191.5 121.6h1.2v1.2h-1.2zM201.2 121.6h1.2v1.2h-1.2zM105.1 122.3h1.2v1.2h-1.2zM107.5 122.3h1.2v1.2h-1.2zM108.7 122.8h1.2v1.2h-1.2zM114.0 122.5h1.2v1.2h-1.2zM117.5 122.2h1.2v1.2h-1.2zM119.4 122.5h1.2v1.2h-1.2zM123.0 122.7h1.2v1.2h-1.2zM127.7 122.4h1.2v1.2h-1.2zM134.6 122.6h1.2v1.2h-1.2zM144.9 122.3h1.2v1.2h-1.2zM147.3 122.0h1.2v1.2h-1.2zM161.3 122.5h1.2v1.2h-1.2zM162.1 122.6h1.2v1.2h-1.2zM85.2 123.3h1.2v1.2h-1.2zM101.7 123.2h1.2v1.2h-1.2zM104.6 123.0h1.2v1.2h-1.2zM105.2 123.1h1.2v1.2h-1.2zM106.8 123.7h1.2v1.2h-1.2zM108.5 123.5h1.2v1.2h-1.2zM125.0 123.3h1.2v1.2h-1.2zM131.7 123.1h1.2v1.2h-1.2zM138.3 123.3h1.2v1.2h-1.2zM139.4 123.6h1.2v1.2h-1.2zM141.1 123.1h1.2v1.2h-1.2zM162.7 123.4h1.2v1.2h-1.2zM171.0 123.5h1.2v1.2h-1.2zM206.3 123.2h1.2v1.2h-1.2zM98.5 124.4h1.2v1.2h-1.2zM117.9 124.3h1.2v1.2h-1.2zM138.1 124.7h1.2v1.2h-1.2zM141.1 124.4h1.2v1.2h-1.2zM145.2 124.2h1.2v1.2h-1.2zM148.4 124.6h1.2v1.2h-1.2zM192.5 124.7h1.2v1.2h-1.2zM197.0 124.0h1.2v1.2h-1.2zM209.2 123.9h1.2v1.2h-1.2zM105.8 125.6h1.2v1.2h-1.2zM109.1 124.9h1.2v1.2h-1.2zM118.3 125.5h1.2v1.2h-1.2zM128.2 125.3h1.2v1.2h-1.2zM130.3 125.3h1.2v1.2h-1.2zM148.5 125.1h1.2v1.2h-1.2zM176.4 125.3h1.2v1.2h-1.2zM186.9 125.4h1.2v1.2h-1.2zM197.9 125.1h1.2v1.2h-1.2zM94.2 126.4h1.2v1.2h-1.2zM97.8 126.1h1.2v1.2h-1.2zM102.5 126.5h1.2v1.2h-1.2zM115.4 126.5h1.2v1.2h-1.2zM127.2 126.6h1.2v1.2h-1.2zM142.7 125.9h1.2v1.2h-1.2zM144.5 126.2h1.2v1.2h-1.2zM157.5 126.6h1.2v1.2h-1.2zM168.3 126.6h1.2v1.2h-1.2zM194.4 126.0h1.2v1.2h-1.2zM198.0 126.5h1.2v1.2h-1.2zM206.7 126.7h1.2v1.2h-1.2zM84.9 127.0h1.2v1.2h-1.2zM93.3 127.0h1.2v1.2h-1.2zM104.5 127.6h1.2v1.2h-1.2zM105.7 126.9h1.2v1.2h-1.2zM109.1 127.1h1.2v1.2h-1.2zM121.9 127.4h1.2v1.2h-1.2zM127.4 127.3h1.2v1.2h-1.2zM131.3 127.3h1.2v1.2h-1.2zM132.4 126.9h1.2v1.2h-1.2zM137.6 127.6h1.2v1.2h-1.2zM147.1 127.3h1.2v1.2h-1.2zM157.9 127.3h1.2v1.2h-1.2zM162.3 127.5h1.2v1.2h-1.2zM163.5 127.5h1.2v1.2h-1.2zM170.8 126.9h1.2v1.2h-1.2zM178.2 127.2h1.2v1.2h-1.2zM191.9 127.3h1.2v1.2h-1.2zM97.9 128.7h1.2v1.2h-1.2zM105.3 128.5h1.2v1.2h-1.2zM112.6 128.5h1.2v1.2h-1.2zM124.7 128.6h1.2v1.2h-1.2zM126.4 128.6h1.2v1.2h-1.2zM129.0 128.1h1.2v1.2h-1.2zM138.6 128.3h1.2v1.2h-1.2zM140.4 128.7h1.2v1.2h-1.2zM141.0 128.3h1.2v1.2h-1.2zM146.7 128.1h1.2v1.2h-1.2zM148.1 128.5h1.2v1.2h-1.2zM154.0 128.3h1.2v1.2h-1.2zM169.6 128.1h1.2v1.2h-1.2zM170.2 127.9h1.2v1.2h-1.2zM173.2 128.8h1.2v1.2h-1.2zM175.3 128.4h1.2v1.2h-1.2zM176.2 128.6h1.2v1.2h-1.2zM180.5 128.1h1.2v1.2h-1.2zM92.3 129.0h1.2v1.2h-1.2zM100.2 129.0h1.2v1.2h-1.2zM102.7 129.0h1.2v1.2h-1.2zM106.6 129.2h1.2v1.2h-1.2zM130.1 129.0h1.2v1.2h-1.2zM141.4 129.2h1.2v1.2h-1.2zM143.0 129.4h1.2v1.2h-1.2zM152.2 129.2h1.2v1.2h-1.2zM180.1 129.5h1.2v1.2h-1.2zM89.8 130.8h1.2v1.2h-1.2zM94.7 130.4h1.2v1.2h-1.2zM97.8 129.9h1.2v1.2h-1.2zM105.8 130.7h1.2v1.2h-1.2zM107.6 130.1h1.2v1.2h-1.2zM109.7 130.0h1.2v1.2h-1.2zM125.5 130.7h1.2v1.2h-1.2zM135.0 130.5h1.2v1.2h-1.2zM139.6 130.1h1.2v1.2h-1.2zM140.4 130.4h1.2v1.2h-1.2zM140.9 130.1h1.2v1.2h-1.2zM142.0 130.2h1.2v1.2h-1.2zM146.0 130.1h1.2v1.2h-1.2zM169.2 130.4h1.2v1.2h-1.2zM174.6 130.3h1.2v1.2h-1.2zM223.4 130.6h1.2v1.2h-1.2zM89.1 131.2h1.2v1.2h-1.2zM132.0 131.5h1.2v1.2h-1.2zM134.4 131.3h1.2v1.2h-1.2zM138.6 131.6h1.2v1.2h-1.2zM140.7 131.0h1.2v1.2h-1.2zM143.4 131.6h1.2v1.2h-1.2zM146.4 131.7h1.2v1.2h-1.2zM148.5 131.1h1.2v1.2h-1.2zM155.1 131.7h1.2v1.2h-1.2zM157.5 131.6h1.2v1.2h-1.2zM158.2 130.9h1.2v1.2h-1.2zM164.3 131.6h1.2v1.2h-1.2zM165.3 131.7h1.2v1.2h-1.2zM179.1 131.2h1.2v1.2h-1.2zM181.3 131.6h1.2v1.2h-1.2zM206.0 131.2h1.2v1.2h-1.2zM87.0 131.9h1.2v1.2h-1.2zM93.8 132.3h1.2v1.2h-1.2zM111.6 132.1h1.2v1.2h-1.2zM139.4 132.5h1.2v1.2h-1.2zM141.7 132.4h1.2v1.2h-1.2zM142.5 132.7h1.2v1.2h-1.2zM143.0 132.0h1.2v1.2h-1.2zM144.5 132.2h1.2v1.2h-1.2zM210.7 132.6h1.2v1.2h-1.2zM90.7 133.1h1.2v1.2h-1.2zM94.5 133.6h1.2v1.2h-1.2zM97.2 133.4h1.2v1.2h-1.2zM135.0 132.9h1.2v1.2h-1.2zM137.8 133.2h1.2v1.2h-1.2zM139.5 133.7h1.2v1.2h-1.2zM141.6 133.5h1.2v1.2h-1.2zM146.3 133.0h1.2v1.2h-1.2zM149.6 133.1h1.2v1.2h-1.2zM152.2 133.6h1.2v1.2h-1.2zM154.1 133.2h1.2v1.2h-1.2zM158.2 133.5h1.2v1.2h-1.2zM159.3 133.2h1.2v1.2h-1.2zM164.1 133.6h1.2v1.2h-1.2zM168.5 133.6h1.2v1.2h-1.2zM173.4 133.5h1.2v1.2h-1.2zM175.0 133.5h1.2v1.2h-1.2zM93.7 134.0h1.2v1.2h-1.2zM97.8 134.6h1.2v1.2h-1.2zM105.3 134.6h1.2v1.2h-1.2zM138.5 134.7h1.2v1.2h-1.2zM142.3 134.6h1.2v1.2h-1.2zM146.0 134.7h1.2v1.2h-1.2zM158.7 134.8h1.2v1.2h-1.2zM206.5 134.6h1.2v1.2h-1.2zM210.1 134.5h1.2v1.2h-1.2zM95.2 135.5h1.2v1.2h-1.2zM106.1 135.5h1.2v1.2h-1.2zM109.3 135.5h1.2v1.2h-1.2zM145.0 135.3h1.2v1.2h-1.2zM147.7 135.1h1.2v1.2h-1.2zM152.6 135.0h1.2v1.2h-1.2zM153.3 135.4h1.2v1.2h-1.2zM157.3 135.6h1.2v1.2h-1.2zM158.2 135.7h1.2v1.2h-1.2zM160.0 135.6h1.2v1.2h-1.2zM161.2 135.0h1.2v1.2h-1.2zM162.4 135.4h1.2v1.2h-1.2zM167.1 135.3h1.2v1.2h-1.2zM177.8 135.4h1.2v1.2h-1.2zM94.0 136.4h1.2v1.2h-1.2zM97.4 136.7h1.2v1.2h-1.2zM137.9 136.6h1.2v1.2h-1.2zM142.9 136.7h1.2v1.2h-1.2zM145.5 136.4h1.2v1.2h-1.2zM147.2 136.2h1.2v1.2h-1.2zM148.5 136.3h1.2v1.2h-1.2zM151.7 136.3h1.2v1.2h-1.2zM159.9 136.0h1.2v1.2h-1.2zM174.7 136.2h1.2v1.2h-1.2zM175.3 136.2h1.2v1.2h-1.2zM177.4 136.1h1.2v1.2h-1.2zM207.4 136.0h1.2v1.2h-1.2zM208.7 136.4h1.2v1.2h-1.2zM211.7 136.6h1.2v1.2h-1.2zM91.2 137.6h1.2v1.2h-1.2zM98.6 137.5h1.2v1.2h-1.2zM100.3 137.2h1.2v1.2h-1.2zM101.1 137.6h1.2v1.2h-1.2zM139.2 137.6h1.2v1.2h-1.2zM144.0 137.2h1.2v1.2h-1.2zM153.6 137.1h1.2v1.2h-1.2zM154.2 137.7h1.2v1.2h-1.2zM166.0 137.7h1.2v1.2h-1.2zM136.9 138.7h1.2v1.2h-1.2zM155.6 138.3h1.2v1.2h-1.2zM158.2 138.0h1.2v1.2h-1.2zM159.8 138.4h1.2v1.2h-1.2zM160.5 138.5h1.2v1.2h-1.2zM163.3 138.7h1.2v1.2h-1.2zM165.5 138.5h1.2v1.2h-1.2zM171.4 138.3h1.2v1.2h-1.2zM206.9 138.6h1.2v1.2h-1.2zM215.0 138.6h1.2v1.2h-1.2zM89.4 139.4h1.2v1.2h-1.2zM94.0 139.6h1.2v1.2h-1.2zM102.7 139.6h1.2v1.2h-1.2zM141.6 139.5h1.2v1.2h-1.2zM145.8 139.0h1.2v1.2h-1.2zM146.2 139.6h1.2v1.2h-1.2zM147.2 139.2h1.2v1.2h-1.2zM150.5 138.9h1.2v1.2h-1.2zM152.7 139.8h1.2v1.2h-1.2zM155.3 139.1h1.2v1.2h-1.2zM172.7 139.6h1.2v1.2h-1.2zM97.4 140.3h1.2v1.2h-1.2zM109.7 140.3h1.2v1.2h-1.2zM138.6 140.2h1.2v1.2h-1.2zM143.7 140.6h1.2v1.2h-1.2zM149.8 140.6h1.2v1.2h-1.2zM150.6 140.1h1.2v1.2h-1.2zM157.0 140.3h1.2v1.2h-1.2zM166.1 140.0h1.2v1.2h-1.2zM168.2 140.1h1.2v1.2h-1.2zM170.4 139.9h1.2v1.2h-1.2zM171.5 140.0h1.2v1.2h-1.2zM173.8 140.7h1.2v1.2h-1.2zM204.9 140.1h1.2v1.2h-1.2zM208.1 139.9h1.2v1.2h-1.2zM210.9 140.0h1.2v1.2h-1.2zM91.9 141.4h1.2v1.2h-1.2zM101.5 141.2h1.2v1.2h-1.2zM124.9 141.7h1.2v1.2h-1.2zM134.7 141.0h1.2v1.2h-1.2zM137.4 141.0h1.2v1.2h-1.2zM139.9 141.6h1.2v1.2h-1.2zM141.6 141.4h1.2v1.2h-1.2zM146.6 141.3h1.2v1.2h-1.2zM149.4 141.7h1.2v1.2h-1.2zM150.0 141.7h1.2v1.2h-1.2zM151.3 141.3h1.2v1.2h-1.2zM155.4 141.2h1.2v1.2h-1.2zM159.9 141.5h1.2v1.2h-1.2zM163.4 141.8h1.2v1.2h-1.2zM165.5 141.0h1.2v1.2h-1.2zM167.6 140.9h1.2v1.2h-1.2zM168.5 141.5h1.2v1.2h-1.2zM172.3 141.0h1.2v1.2h-1.2zM205.3 141.4h1.2v1.2h-1.2zM208.2 141.3h1.2v1.2h-1.2zM88.2 142.3h1.2v1.2h-1.2zM94.1 142.1h1.2v1.2h-1.2zM97.6 142.3h1.2v1.2h-1.2zM100.3 142.0h1.2v1.2h-1.2zM131.6 142.2h1.2v1.2h-1.2zM137.6 142.4h1.2v1.2h-1.2zM147.2 142.1h1.2v1.2h-1.2zM149.5 142.0h1.2v1.2h-1.2zM150.2 142.5h1.2v1.2h-1.2zM152.2 142.7h1.2v1.2h-1.2zM162.7 141.9h1.2v1.2h-1.2zM176.0 142.7h1.2v1.2h-1.2zM177.2 142.2h1.2v1.2h-1.2zM208.2 142.4h1.2v1.2h-1.2zM212.8 142.0h1.2v1.2h-1.2zM213.4 142.5h1.2v1.2h-1.2zM96.0 143.3h1.2v1.2h-1.2zM97.0 143.6h1.2v1.2h-1.2zM114.4 143.1h1.2v1.2h-1.2zM115.6 143.4h1.2v1.2h-1.2zM117.2 142.9h1.2v1.2h-1.2zM140.5 143.1h1.2v1.2h-1.2zM146.7 143.3h1.2v1.2h-1.2zM155.0 143.5h1.2v1.2h-1.2zM165.1 143.8h1.2v1.2h-1.2zM177.6 142.9h1.2v1.2h-1.2zM205.2 143.3h1.2v1.2h-1.2zM206.4 143.3h1.2v1.2h-1.2zM94.2 144.0h1.2v1.2h-1.2zM97.4 143.9h1.2v1.2h-1.2zM100.2 144.0h1.2v1.2h-1.2zM132.1 144.6h1.2v1.2h-1.2zM139.3 144.2h1.2v1.2h-1.2zM140.7 144.4h1.2v1.2h-1.2zM144.2 144.5h1.2v1.2h-1.2zM154.4 144.1h1.2v1.2h-1.2zM161.7 144.1h1.2v1.2h-1.2zM162.7 144.3h1.2v1.2h-1.2zM163.8 144.4h1.2v1.2h-1.2zM169.2 144.7h1.2v1.2h-1.2zM90.4 145.7h1.2v1.2h-1.2zM110.5 145.7h1.2v1.2h-1.2zM119.6 145.6h1.2v1.2h-1.2zM120.7 145.0h1.2v1.2h-1.2zM126.0 145.5h1.2v1.2h-1.2zM130.4 145.0h1.2v1.2h-1.2zM132.1 145.5h1.2v1.2h-1.2zM135.4 145.7h1.2v1.2h-1.2zM143.3 145.3h1.2v1.2h-1.2zM153.1 145.2h1.2v1.2h-1.2zM163.4 145.8h1.2v1.2h-1.2zM165.6 145.5h1.2v1.2h-1.2zM166.6 145.5h1.2v1.2h-1.2zM170.5 145.1h1.2v1.2h-1.2zM174.6 145.6h1.2v1.2h-1.2zM206.2 145.3h1.2v1.2h-1.2zM103.3 146.4h1.2v1.2h-1.2zM104.6 146.3h1.2v1.2h-1.2zM105.3 146.4h1.2v1.2h-1.2zM106.5 146.0h1.2v1.2h-1.2zM119.3 146.3h1.2v1.2h-1.2zM126.8 146.7h1.2v1.2h-1.2zM143.0 146.3h1.2v1.2h-1.2zM152.5 146.2h1.2v1.2h-1.2zM156.3 146.6h1.2v1.2h-1.2zM158.7 146.0h1.2v1.2h-1.2zM166.3 146.6h1.2v1.2h-1.2zM171.5 146.2h1.2v1.2h-1.2zM175.5 146.2h1.2v1.2h-1.2zM203.8 146.0h1.2v1.2h-1.2zM213.0 146.1h1.2v1.2h-1.2zM96.0 147.1h1.2v1.2h-1.2zM106.4 147.3h1.2v1.2h-1.2zM120.6 147.7h1.2v1.2h-1.2zM124.9 146.9h1.2v1.2h-1.2zM128.3 147.5h1.2v1.2h-1.2zM128.9 147.6h1.2v1.2h-1.2zM131.7 147.0h1.2v1.2h-1.2zM132.6 147.0h1.2v1.2h-1.2zM148.7 147.2h1.2v1.2h-1.2zM154.5 147.3h1.2v1.2h-1.2zM157.0 147.1h1.2v1.2h-1.2zM162.8 147.1h1.2v1.2h-1.2zM163.5 147.5h1.2v1.2h-1.2zM164.5 147.7h1.2v1.2h-1.2zM166.0 147.5h1.2v1.2h-1.2zM169.1 147.7h1.2v1.2h-1.2zM176.6 147.2h1.2v1.2h-1.2zM180.6 147.5h1.2v1.2h-1.2zM210.4 147.7h1.2v1.2h-1.2zM241.7 147.6h1.2v1.2h-1.2zM95.2 148.2h1.2v1.2h-1.2zM97.9 147.9h1.2v1.2h-1.2zM105.5 148.1h1.2v1.2h-1.2zM107.1 147.9h1.2v1.2h-1.2zM108.6 148.6h1.2v1.2h-1.2zM109.0 148.2h1.2v1.2h-1.2zM110.6 148.3h1.2v1.2h-1.2zM121.2 148.6h1.2v1.2h-1.2zM125.1 148.5h1.2v1.2h-1.2zM132.5 148.3h1.2v1.2h-1.2zM137.7 148.3h1.2v1.2h-1.2zM142.1 148.4h1.2v1.2h-1.2zM145.8 148.4h1.2v1.2h-1.2zM149.6 148.5h1.2v1.2h-1.2zM170.6 148.2h1.2v1.2h-1.2zM173.4 148.4h1.2v1.2h-1.2zM184.3 148.3h1.2v1.2h-1.2zM209.7 147.9h1.2v1.2h-1.2zM95.7 149.7h1.2v1.2h-1.2zM100.3 149.0h1.2v1.2h-1.2zM109.5 149.6h1.2v1.2h-1.2zM111.4 149.6h1.2v1.2h-1.2zM112.3 149.4h1.2v1.2h-1.2zM115.0 149.6h1.2v1.2h-1.2zM117.2 149.5h1.2v1.2h-1.2zM122.4 149.1h1.2v1.2h-1.2zM125.3 149.7h1.2v1.2h-1.2zM133.5 149.4h1.2v1.2h-1.2zM134.5 149.4h1.2v1.2h-1.2zM145.3 149.4h1.2v1.2h-1.2zM168.7 149.1h1.2v1.2h-1.2zM176.1 149.0h1.2v1.2h-1.2zM188.0 149.5h1.2v1.2h-1.2zM194.1 149.8h1.2v1.2h-1.2zM211.3 149.4h1.2v1.2h-1.2zM89.6 150.0h1.2v1.2h-1.2zM90.9 150.1h1.2v1.2h-1.2zM101.8 150.3h1.2v1.2h-1.2zM102.5 150.8h1.2v1.2h-1.2zM107.6 150.2h1.2v1.2h-1.2zM113.6 150.3h1.2v1.2h-1.2zM131.6 150.6h1.2v1.2h-1.2zM132.3 150.8h1.2v1.2h-1.2zM133.2 150.0h1.2v1.2h-1.2zM139.7 150.8h1.2v1.2h-1.2zM144.4 150.4h1.2v1.2h-1.2zM177.3 150.8h1.2v1.2h-1.2zM182.6 150.5h1.2v1.2h-1.2zM202.3 150.7h1.2v1.2h-1.2zM204.7 150.8h1.2v1.2h-1.2zM94.6 151.4h1.2v1.2h-1.2zM95.7 151.0h1.2v1.2h-1.2zM103.7 151.3h1.2v1.2h-1.2zM108.6 151.3h1.2v1.2h-1.2zM121.5 151.2h1.2v1.2h-1.2zM122.7 151.2h1.2v1.2h-1.2zM126.1 151.8h1.2v1.2h-1.2zM128.0 151.0h1.2v1.2h-1.2zM147.1 151.5h1.2v1.2h-1.2zM167.9 151.6h1.2v1.2h-1.2zM198.4 151.5h1.2v1.2h-1.2zM199.6 151.5h1.2v1.2h-1.2zM206.5 151.4h1.2v1.2h-1.2zM91.3 152.5h1.2v1.2h-1.2zM95.4 152.4h1.2v1.2h-1.2zM103.2 152.5h1.2v1.2h-1.2zM105.0 152.1h1.2v1.2h-1.2zM106.2 152.5h1.2v1.2h-1.2zM113.7 152.1h1.2v1.2h-1.2zM114.5 152.4h1.2v1.2h-1.2zM123.7 152.2h1.2v1.2h-1.2zM144.5 152.7h1.2v1.2h-1.2zM146.5 152.4h1.2v1.2h-1.2zM186.7 152.3h1.2v1.2h-1.2zM193.2 152.4h1.2v1.2h-1.2zM224.6 152.6h1.2v1.2h-1.2zM95.3 153.2h1.2v1.2h-1.2zM98.7 153.1h1.2v1.2h-1.2zM100.2 153.6h1.2v1.2h-1.2zM112.2 153.8h1.2v1.2h-1.2zM123.2 153.1h1.2v1.2h-1.2zM124.3 153.5h1.2v1.2h-1.2zM126.0 153.8h1.2v1.2h-1.2zM126.9 153.3h1.2v1.2h-1.2zM131.4 153.3h1.2v1.2h-1.2zM135.0 153.3h1.2v1.2h-1.2zM159.6 153.6h1.2v1.2h-1.2zM163.1 153.2h1.2v1.2h-1.2zM174.7 153.1h1.2v1.2h-1.2zM183.2 153.0h1.2v1.2h-1.2zM184.1 153.1h1.2v1.2h-1.2zM202.2 153.4h1.2v1.2h-1.2zM208.0 153.1h1.2v1.2h-1.2zM109.3 154.0h1.2v1.2h-1.2zM113.2 154.2h1.2v1.2h-1.2zM119.7 154.6h1.2v1.2h-1.2zM124.4 154.8h1.2v1.2h-1.2zM131.6 154.0h1.2v1.2h-1.2zM136.6 154.5h1.2v1.2h-1.2zM140.9 154.3h1.2v1.2h-1.2zM143.1 154.5h1.2v1.2h-1.2zM152.7 154.0h1.2v1.2h-1.2zM159.3 154.7h1.2v1.2h-1.2zM172.5 154.6h1.2v1.2h-1.2zM178.5 154.0h1.2v1.2h-1.2zM187.1 154.5h1.2v1.2h-1.2zM201.6 154.6h1.2v1.2h-1.2zM203.8 154.8h1.2v1.2h-1.2zM208.9 154.7h1.2v1.2h-1.2zM91.0 155.5h1.2v1.2h-1.2zM103.4 155.0h1.2v1.2h-1.2zM107.5 155.4h1.2v1.2h-1.2zM109.5 155.2h1.2v1.2h-1.2zM110.5 155.3h1.2v1.2h-1.2zM114.4 155.5h1.2v1.2h-1.2zM115.7 155.7h1.2v1.2h-1.2zM119.3 155.5h1.2v1.2h-1.2zM132.5 155.3h1.2v1.2h-1.2zM154.6 155.5h1.2v1.2h-1.2zM172.9 155.4h1.2v1.2h-1.2zM183.5 155.7h1.2v1.2h-1.2zM199.4 155.0h1.2v1.2h-1.2zM97.9 156.4h1.2v1.2h-1.2zM108.6 156.0h1.2v1.2h-1.2zM121.9 156.0h1.2v1.2h-1.2zM173.7 156.2h1.2v1.2h-1.2zM186.6 156.7h1.2v1.2h-1.2zM92.7 157.1h1.2v1.2h-1.2zM95.6 157.6h1.2v1.2h-1.2zM101.9 157.5h1.2v1.2h-1.2zM114.7 157.7h1.2v1.2h-1.2zM123.2 157.5h1.2v1.2h-1.2zM126.4 157.2h1.2v1.2h-1.2zM147.6 157.3h1.2v1.2h-1.2zM164.3 157.5h1.2v1.2h-1.2zM186.7 157.5h1.2v1.2h-1.2zM190.9 157.1h1.2v1.2h-1.2zM192.6 157.7h1.2v1.2h-1.2zM95.7 158.3h1.2v1.2h-1.2zM102.7 158.0h1.2v1.2h-1.2zM104.0 158.1h1.2v1.2h-1.2zM106.6 158.2h1.2v1.2h-1.2zM115.5 158.3h1.2v1.2h-1.2zM120.9 158.5h1.2v1.2h-1.2zM122.3 157.9h1.2v1.2h-1.2zM126.8 158.4h1.2v1.2h-1.2zM130.4 158.2h1.2v1.2h-1.2zM133.0 158.6h1.2v1.2h-1.2zM152.1 158.0h1.2v1.2h-1.2zM155.2 158.3h1.2v1.2h-1.2zM168.8 158.7h1.2v1.2h-1.2zM170.7 158.3h1.2v1.2h-1.2zM180.7 158.4h1.2v1.2h-1.2zM188.1 158.4h1.2v1.2h-1.2zM197.1 158.5h1.2v1.2h-1.2zM199.3 158.0h1.2v1.2h-1.2zM202.3 158.1h1.2v1.2h-1.2zM221.5 158.4h1.2v1.2h-1.2zM107.1 159.1h1.2v1.2h-1.2zM111.5 159.8h1.2v1.2h-1.2zM115.6 159.4h1.2v1.2h-1.2zM134.6 159.6h1.2v1.2h-1.2zM137.0 159.5h1.2v1.2h-1.2zM149.6 159.5h1.2v1.2h-1.2zM154.0 159.7h1.2v1.2h-1.2zM168.3 158.9h1.2v1.2h-1.2zM172.5 159.8h1.2v1.2h-1.2zM176.1 159.5h1.2v1.2h-1.2zM195.8 159.2h1.2v1.2h-1.2zM199.6 159.6h1.2v1.2h-1.2zM208.2 159.1h1.2v1.2h-1.2zM211.3 159.5h1.2v1.2h-1.2zM101.7 160.3h1.2v1.2h-1.2zM102.1 160.7h1.2v1.2h-1.2zM103.0 160.3h1.2v1.2h-1.2zM108.3 160.2h1.2v1.2h-1.2zM129.8 160.3h1.2v1.2h-1.2zM184.0 160.7h1.2v1.2h-1.2zM96.2 161.1h1.2v1.2h-1.2zM116.1 161.7h1.2v1.2h-1.2zM119.4 161.7h1.2v1.2h-1.2zM122.3 161.0h1.2v1.2h-1.2zM125.3 161.3h1.2v1.2h-1.2zM143.5 161.3h1.2v1.2h-1.2zM157.2 161.5h1.2v1.2h-1.2zM159.6 161.5h1.2v1.2h-1.2zM186.6 161.3h1.2v1.2h-1.2zM198.6 161.5h1.2v1.2h-1.2zM212.4 161.8h1.2v1.2h-1.2zM215.2 161.8h1.2v1.2h-1.2zM87.3 162.1h1.2v1.2h-1.2zM105.5 162.2h1.2v1.2h-1.2zM113.2 162.7h1.2v1.2h-1.2zM131.3 162.2h1.2v1.2h-1.2zM133.4 162.4h1.2v1.2h-1.2zM164.1 162.7h1.2v1.2h-1.2zM176.1 162.6h1.2v1.2h-1.2zM187.7 162.8h1.2v1.2h-1.2zM194.1 162.2h1.2v1.2h-1.2zM204.6 162.3h1.2v1.2h-1.2zM212.3 161.9h1.2v1.2h-1.2zM96.2 163.6h1.2v1.2h-1.2zM106.0 162.9h1.2v1.2h-1.2zM118.3 163.7h1.2v1.2h-1.2zM120.3 163.6h1.2v1.2h-1.2zM143.5 163.5h1.2v1.2h-1.2zM154.4 163.1h1.2v1.2h-1.2zM166.7 163.5h1.2v1.2h-1.2zM214.1 163.8h1.2v1.2h-1.2zM103.3 164.5h1.2v1.2h-1.2zM108.6 164.3h1.2v1.2h-1.2zM115.1 164.4h1.2v1.2h-1.2zM122.8 163.9h1.2v1.2h-1.2zM123.4 164.6h1.2v1.2h-1.2zM126.2 164.8h1.2v1.2h-1.2zM142.5 164.7h1.2v1.2h-1.2zM183.6 163.9h1.2v1.2h-1.2zM189.0 164.0h1.2v1.2h-1.2zM108.0 165.2h1.2v1.2h-1.2zM109.8 165.5h1.2v1.2h-1.2zM112.7 165.7h1.2v1.2h-1.2zM113.7 165.1h1.2v1.2h-1.2zM130.4 165.2h1.2v1.2h-1.2zM133.5 165.6h1.2v1.2h-1.2zM188.4 165.5h1.2v1.2h-1.2zM194.2 165.6h1.2v1.2h-1.2zM104.5 166.1h1.2v1.2h-1.2zM112.0 166.5h1.2v1.2h-1.2zM114.4 166.3h1.2v1.2h-1.2zM121.6 166.6h1.2v1.2h-1.2zM123.7 166.6h1.2v1.2h-1.2zM128.0 166.6h1.2v1.2h-1.2zM131.0 166.5h1.2v1.2h-1.2zM137.9 166.5h1.2v1.2h-1.2zM174.4 166.4h1.2v1.2h-1.2zM187.3 166.5h1.2v1.2h-1.2zM189.5 166.6h1.2v1.2h-1.2zM203.6 166.3h1.2v1.2h-1.2zM93.3 167.7h1.2v1.2h-1.2zM103.4 167.1h1.2v1.2h-1.2zM119.1 167.3h1.2v1.2h-1.2zM121.7 167.6h1.2v1.2h-1.2zM128.6 167.5h1.2v1.2h-1.2zM131.7 167.4h1.2v1.2h-1.2zM168.2 167.6h1.2v1.2h-1.2zM196.3 167.3h1.2v1.2h-1.2zM211.7 167.3h1.2v1.2h-1.2zM89.3 168.4h1.2v1.2h-1.2zM93.5 168.4h1.2v1.2h-1.2zM106.8 168.8h1.2v1.2h-1.2zM111.2 168.6h1.2v1.2h-1.2zM112.4 168.8h1.2v1.2h-1.2zM113.0 168.7h1.2v1.2h-1.2zM119.4 168.7h1.2v1.2h-1.2zM120.8 168.4h1.2v1.2h-1.2zM125.4 168.1h1.2v1.2h-1.2zM128.3 168.3h1.2v1.2h-1.2zM164.4 168.2h1.2v1.2h-1.2zM190.3 168.2h1.2v1.2h-1.2zM201.4 168.1h1.2v1.2h-1.2zM90.5 169.7h1.2v1.2h-1.2zM104.7 169.2h1.2v1.2h-1.2zM109.3 169.6h1.2v1.2h-1.2zM110.1 169.1h1.2v1.2h-1.2zM117.0 169.7h1.2v1.2h-1.2zM122.0 169.4h1.2v1.2h-1.2zM123.1 169.1h1.2v1.2h-1.2zM127.2 169.6h1.2v1.2h-1.2zM129.7 169.7h1.2v1.2h-1.2zM200.4 169.5h1.2v1.2h-1.2zM204.7 169.5h1.2v1.2h-1.2zM223.0 169.1h1.2v1.2h-1.2zM89.1 170.6h1.2v1.2h-1.2zM97.1 170.2h1.2v1.2h-1.2zM106.7 170.3h1.2v1.2h-1.2zM109.1 170.3h1.2v1.2h-1.2zM111.9 170.4h1.2v1.2h-1.2zM130.1 170.2h1.2v1.2h-1.2zM150.3 170.4h1.2v1.2h-1.2zM195.2 170.0h1.2v1.2h-1.2zM200.5 170.7h1.2v1.2h-1.2zM201.2 170.7h1.2v1.2h-1.2zM202.7 170.1h1.2v1.2h-1.2zM203.7 170.7h1.2v1.2h-1.2zM88.5 171.4h1.2v1.2h-1.2zM96.3 171.7h1.2v1.2h-1.2zM103.4 171.4h1.2v1.2h-1.2zM105.7 171.6h1.2v1.2h-1.2zM109.5 171.7h1.2v1.2h-1.2zM110.1 171.0h1.2v1.2h-1.2zM113.2 171.5h1.2v1.2h-1.2zM119.2 171.6h1.2v1.2h-1.2zM121.8 171.4h1.2v1.2h-1.2zM125.0 171.2h1.2v1.2h-1.2zM153.3 171.0h1.2v1.2h-1.2zM163.7 171.0h1.2v1.2h-1.2zM196.6 171.3h1.2v1.2h-1.2zM89.7 172.5h1.2v1.2h-1.2zM90.6 172.4h1.2v1.2h-1.2zM93.0 172.6h1.2v1.2h-1.2zM96.3 172.4h1.2v1.2h-1.2zM104.7 172.5h1.2v1.2h-1.2zM107.7 172.1h1.2v1.2h-1.2zM125.4 172.7h1.2v1.2h-1.2zM96.1 173.0h1.2v1.2h-1.2zM97.6 173.3h1.2v1.2h-1.2zM108.6 173.7h1.2v1.2h-1.2zM110.2 173.1h1.2v1.2h-1.2zM117.6 173.1h1.2v1.2h-1.2zM127.0 173.7h1.2v1.2h-1.2zM135.4 173.0h1.2v1.2h-1.2zM145.5 173.1h1.2v1.2h-1.2zM182.1 173.7h1.2v1.2h-1.2zM88.2 174.6h1.2v1.2h-1.2zM122.2 174.4h1.2v1.2h-1.2zM128.0 174.2h1.2v1.2h-1.2zM145.7 174.2h1.2v1.2h-1.2zM157.1 174.7h1.2v1.2h-1.2zM197.0 174.7h1.2v1.2h-1.2zM87.8 175.1h1.2v1.2h-1.2zM94.7 175.4h1.2v1.2h-1.2zM99.2 175.6h1.2v1.2h-1.2zM103.4 175.4h1.2v1.2h-1.2zM113.4 175.1h1.2v1.2h-1.2zM128.4 175.7h1.2v1.2h-1.2zM158.9 175.4h1.2v1.2h-1.2zM182.2 175.7h1.2v1.2h-1.2zM103.6 176.4h1.2v1.2h-1.2zM116.2 176.3h1.2v1.2h-1.2zM138.7 176.2h1.2v1.2h-1.2zM183.2 175.9h1.2v1.2h-1.2zM190.0 176.1h1.2v1.2h-1.2zM85.5 177.5h1.2v1.2h-1.2zM93.2 177.2h1.2v1.2h-1.2zM100.4 177.7h1.2v1.2h-1.2zM102.1 176.9h1.2v1.2h-1.2zM104.5 177.2h1.2v1.2h-1.2zM115.4 177.8h1.2v1.2h-1.2zM120.8 177.0h1.2v1.2h-1.2zM122.7 177.6h1.2v1.2h-1.2zM133.5 177.6h1.2v1.2h-1.2zM87.4 178.7h1.2v1.2h-1.2zM99.5 178.3h1.2v1.2h-1.2zM108.1 178.4h1.2v1.2h-1.2zM115.7 178.3h1.2v1.2h-1.2zM120.5 178.4h1.2v1.2h-1.2zM127.7 178.7h1.2v1.2h-1.2zM159.0 178.1h1.2v1.2h-1.2zM164.4 178.3h1.2v1.2h-1.2zM88.2 179.0h1.2v1.2h-1.2zM98.8 179.2h1.2v1.2h-1.2zM104.1 179.3h1.2v1.2h-1.2zM119.0 179.6h1.2v1.2h-1.2zM132.1 179.6h1.2v1.2h-1.2zM136.8 179.2h1.2v1.2h-1.2zM150.5 178.9h1.2v1.2h-1.2zM185.3 179.6h1.2v1.2h-1.2zM88.0 180.4h1.2v1.2h-1.2zM93.4 180.0h1.2v1.2h-1.2zM99.3 180.7h1.2v1.2h-1.2zM101.7 179.9h1.2v1.2h-1.2zM115.4 180.3h1.2v1.2h-1.2zM127.5 180.1h1.2v1.2h-1.2zM129.7 180.1h1.2v1.2h-1.2zM135.2 180.0h1.2v1.2h-1.2zM148.2 180.2h1.2v1.2h-1.2zM166.1 179.9h1.2v1.2h-1.2zM204.3 180.7h1.2v1.2h-1.2zM90.3 181.3h1.2v1.2h-1.2zM96.2 181.3h1.2v1.2h-1.2zM99.7 181.7h1.2v1.2h-1.2zM121.1 181.2h1.2v1.2h-1.2zM123.2 181.1h1.2v1.2h-1.2zM127.5 181.3h1.2v1.2h-1.2zM128.6 181.2h1.2v1.2h-1.2zM130.4 181.0h1.2v1.2h-1.2zM150.3 181.1h1.2v1.2h-1.2zM170.5 181.7h1.2v1.2h-1.2zM191.9 181.2h1.2v1.2h-1.2zM85.2 182.5h1.2v1.2h-1.2zM94.1 182.4h1.2v1.2h-1.2zM100.5 182.7h1.2v1.2h-1.2zM103.2 182.3h1.2v1.2h-1.2zM119.4 182.1h1.2v1.2h-1.2zM165.4 182.3h1.2v1.2h-1.2zM170.9 182.4h1.2v1.2h-1.2zM191.9 182.5h1.2v1.2h-1.2zM88.7 183.1h1.2v1.2h-1.2zM89.5 183.0h1.2v1.2h-1.2zM91.2 182.9h1.2v1.2h-1.2zM92.7 183.1h1.2v1.2h-1.2zM95.2 183.7h1.2v1.2h-1.2zM118.5 183.4h1.2v1.2h-1.2zM119.4 183.4h1.2v1.2h-1.2zM120.4 183.0h1.2v1.2h-1.2zM125.1 183.6h1.2v1.2h-1.2zM136.6 183.2h1.2v1.2h-1.2zM195.9 183.7h1.2v1.2h-1.2zM204.4 183.7h1.2v1.2h-1.2zM86.3 183.9h1.2v1.2h-1.2zM90.8 184.1h1.2v1.2h-1.2zM93.6 184.2h1.2v1.2h-1.2zM94.6 184.2h1.2v1.2h-1.2zM98.7 184.7h1.2v1.2h-1.2zM103.1 184.3h1.2v1.2h-1.2zM120.4 184.4h1.2v1.2h-1.2zM122.3 184.5h1.2v1.2h-1.2zM139.6 184.6h1.2v1.2h-1.2zM98.8 185.6h1.2v1.2h-1.2zM101.5 185.4h1.2v1.2h-1.2zM119.8 185.8h1.2v1.2h-1.2zM126.7 185.7h1.2v1.2h-1.2zM131.4 185.8h1.2v1.2h-1.2zM138.4 185.2h1.2v1.2h-1.2zM116.0 185.9h1.2v1.2h-1.2zM125.3 186.7h1.2v1.2h-1.2zM129.7 186.6h1.2v1.2h-1.2zM133.0 186.2h1.2v1.2h-1.2zM257.0 186.5h1.2v1.2h-1.2zM95.6 187.5h1.2v1.2h-1.2zM103.3 187.6h1.2v1.2h-1.2zM124.8 187.2h1.2v1.2h-1.2zM97.6 188.3h1.2v1.2h-1.2zM98.5 188.1h1.2v1.2h-1.2zM119.3 187.9h1.2v1.2h-1.2zM121.0 188.7h1.2v1.2h-1.2zM129.6 187.9h1.2v1.2h-1.2zM161.0 188.7h1.2v1.2h-1.2zM119.1 189.5h1.2v1.2h-1.2zM124.9 189.2h1.2v1.2h-1.2zM127.0 189.6h1.2v1.2h-1.2zM131.6 189.6h1.2v1.2h-1.2zM134.5 189.7h1.2v1.2h-1.2zM168.7 189.0h1.2v1.2h-1.2zM173.5 189.2h1.2v1.2h-1.2zM86.1 190.4h1.2v1.2h-1.2zM95.5 190.8h1.2v1.2h-1.2zM97.8 190.5h1.2v1.2h-1.2zM99.0 190.7h1.2v1.2h-1.2zM118.6 190.0h1.2v1.2h-1.2zM120.5 190.3h1.2v1.2h-1.2zM122.2 190.4h1.2v1.2h-1.2zM131.3 190.7h1.2v1.2h-1.2zM189.5 190.1h1.2v1.2h-1.2zM88.4 191.7h1.2v1.2h-1.2zM125.2 191.2h1.2v1.2h-1.2zM91.4 192.5h1.2v1.2h-1.2zM94.3 192.0h1.2v1.2h-1.2zM95.6 192.3h1.2v1.2h-1.2zM98.5 192.7h1.2v1.2h-1.2zM103.4 192.6h1.2v1.2h-1.2zM128.7 192.2h1.2v1.2h-1.2zM157.6 192.2h1.2v1.2h-1.2zM159.5 192.4h1.2v1.2h-1.2zM191.1 192.6h1.2v1.2h-1.2zM89.1 193.4h1.2v1.2h-1.2zM91.5 193.6h1.2v1.2h-1.2zM93.8 193.5h1.2v1.2h-1.2zM95.4 193.3h1.2v1.2h-1.2zM96.3 193.7h1.2v1.2h-1.2zM124.9 193.6h1.2v1.2h-1.2zM128.4 193.3h1.2v1.2h-1.2zM130.8 193.7h1.2v1.2h-1.2zM141.5 193.3h1.2v1.2h-1.2zM85.6 194.1h1.2v1.2h-1.2zM96.1 194.6h1.2v1.2h-1.2zM106.5 194.6h1.2v1.2h-1.2zM117.4 194.0h1.2v1.2h-1.2zM118.4 194.2h1.2v1.2h-1.2zM132.3 194.7h1.2v1.2h-1.2zM142.9 194.5h1.2v1.2h-1.2zM196.7 194.0h1.2v1.2h-1.2zM200.8 194.1h1.2v1.2h-1.2zM90.0 195.0h1.2v1.2h-1.2zM98.7 195.5h1.2v1.2h-1.2zM100.5 195.1h1.2v1.2h-1.2zM119.5 194.9h1.2v1.2h-1.2zM121.3 195.0h1.2v1.2h-1.2zM123.0 195.3h1.2v1.2h-1.2zM131.3 195.5h1.2v1.2h-1.2zM85.4 196.4h1.2v1.2h-1.2zM96.0 196.4h1.2v1.2h-1.2zM97.3 196.8h1.2v1.2h-1.2zM99.6 196.4h1.2v1.2h-1.2zM111.0 195.9h1.2v1.2h-1.2zM116.4 196.5h1.2v1.2h-1.2zM123.0 196.7h1.2v1.2h-1.2zM134.2 196.7h1.2v1.2h-1.2zM91.7 197.6h1.2v1.2h-1.2zM93.6 197.4h1.2v1.2h-1.2zM97.5 197.0h1.2v1.2h-1.2zM101.8 197.2h1.2v1.2h-1.2zM108.2 197.7h1.2v1.2h-1.2zM112.2 197.3h1.2v1.2h-1.2zM113.1 197.3h1.2v1.2h-1.2zM123.3 197.1h1.2v1.2h-1.2zM101.5 198.4h1.2v1.2h-1.2zM123.3 198.3h1.2v1.2h-1.2zM125.3 198.4h1.2v1.2h-1.2zM159.8 197.9h1.2v1.2h-1.2zM94.2 199.2h1.2v1.2h-1.2zM99.5 199.3h1.2v1.2h-1.2zM100.1 199.2h1.2v1.2h-1.2zM104.3 199.5h1.2v1.2h-1.2zM109.3 199.2h1.2v1.2h-1.2zM111.0 199.0h1.2v1.2h-1.2zM112.1 199.0h1.2v1.2h-1.2zM117.4 199.3h1.2v1.2h-1.2zM118.7 199.2h1.2v1.2h-1.2zM119.6 199.1h1.2v1.2h-1.2zM126.1 199.6h1.2v1.2h-1.2zM128.2 199.3h1.2v1.2h-1.2zM263.5 199.6h1.2v1.2h-1.2zM91.2 200.5h1.2v1.2h-1.2zM98.1 200.8h1.2v1.2h-1.2zM108.9 200.3h1.2v1.2h-1.2zM115.0 200.7h1.2v1.2h-1.2zM124.9 200.4h1.2v1.2h-1.2zM135.8 200.3h1.2v1.2h-1.2zM139.3 200.7h1.2v1.2h-1.2zM143.5 200.2h1.2v1.2h-1.2zM146.3 200.2h1.2v1.2h-1.2zM175.4 200.3h1.2v1.2h-1.2zM176.8 200.7h1.2v1.2h-1.2zM180.8 200.2h1.2v1.2h-1.2zM97.9 201.8h1.2v1.2h-1.2zM99.2 201.6h1.2v1.2h-1.2zM106.1 201.7h1.2v1.2h-1.2zM117.5 201.0h1.2v1.2h-1.2zM124.1 201.4h1.2v1.2h-1.2zM130.5 201.1h1.2v1.2h-1.2zM133.4 201.4h1.2v1.2h-1.2zM158.4 201.2h1.2v1.2h-1.2zM177.1 200.9h1.2v1.2h-1.2zM90.8 201.9h1.2v1.2h-1.2zM92.3 202.4h1.2v1.2h-1.2zM97.3 202.4h1.2v1.2h-1.2zM102.7 202.4h1.2v1.2h-1.2zM108.4 202.5h1.2v1.2h-1.2zM116.1 202.3h1.2v1.2h-1.2zM119.1 202.7h1.2v1.2h-1.2zM122.7 202.4h1.2v1.2h-1.2zM169.2 202.5h1.2v1.2h-1.2zM177.5 202.1h1.2v1.2h-1.2zM215.1 202.2h1.2v1.2h-1.2zM92.4 203.0h1.2v1.2h-1.2zM95.4 203.3h1.2v1.2h-1.2zM96.3 203.7h1.2v1.2h-1.2zM101.6 203.8h1.2v1.2h-1.2zM102.3 203.5h1.2v1.2h-1.2zM109.9 203.2h1.2v1.2h-1.2zM113.0 203.7h1.2v1.2h-1.2zM114.7 203.5h1.2v1.2h-1.2zM117.4 203.4h1.2v1.2h-1.2zM119.8 203.4h1.2v1.2h-1.2zM131.0 203.3h1.2v1.2h-1.2zM132.5 203.0h1.2v1.2h-1.2zM133.8 203.1h1.2v1.2h-1.2zM139.7 203.6h1.2v1.2h-1.2zM192.8 203.1h1.2v1.2h-1.2zM89.3 204.1h1.2v1.2h-1.2zM96.7 204.2h1.2v1.2h-1.2zM100.8 204.3h1.2v1.2h-1.2zM103.0 204.1h1.2v1.2h-1.2zM112.3 204.4h1.2v1.2h-1.2zM114.5 204.5h1.2v1.2h-1.2zM115.7 204.7h1.2v1.2h-1.2zM120.6 204.1h1.2v1.2h-1.2zM131.1 204.7h1.2v1.2h-1.2zM180.6 204.1h1.2v1.2h-1.2zM91.2 204.9h1.2v1.2h-1.2zM106.4 205.3h1.2v1.2h-1.2zM108.2 205.1h1.2v1.2h-1.2zM111.1 205.5h1.2v1.2h-1.2zM119.5 205.7h1.2v1.2h-1.2zM127.1 204.9h1.2v1.2h-1.2zM140.4 205.3h1.2v1.2h-1.2zM149.3 205.5h1.2v1.2h-1.2zM183.1 205.4h1.2v1.2h-1.2zM203.9 205.5h1.2v1.2h-1.2zM264.3 205.5h1.2v1.2h-1.2zM85.5 206.5h1.2v1.2h-1.2zM91.0 206.1h1.2v1.2h-1.2zM96.6 206.7h1.2v1.2h-1.2zM100.2 205.9h1.2v1.2h-1.2zM101.2 206.4h1.2v1.2h-1.2zM102.5 206.0h1.2v1.2h-1.2zM105.8 206.2h1.2v1.2h-1.2zM106.5 206.1h1.2v1.2h-1.2zM107.0 206.7h1.2v1.2h-1.2zM113.7 206.1h1.2v1.2h-1.2zM115.4 206.5h1.2v1.2h-1.2zM96.0 206.9h1.2v1.2h-1.2zM100.3 207.5h1.2v1.2h-1.2zM102.4 207.5h1.2v1.2h-1.2zM109.4 207.0h1.2v1.2h-1.2zM110.8 207.6h1.2v1.2h-1.2zM113.1 207.8h1.2v1.2h-1.2zM118.5 207.6h1.2v1.2h-1.2zM122.9 207.0h1.2v1.2h-1.2zM102.4 208.5h1.2v1.2h-1.2zM107.5 208.7h1.2v1.2h-1.2zM108.5 208.4h1.2v1.2h-1.2zM110.2 208.7h1.2v1.2h-1.2zM116.0 208.4h1.2v1.2h-1.2zM118.7 208.6h1.2v1.2h-1.2zM130.3 208.5h1.2v1.2h-1.2zM131.6 208.5h1.2v1.2h-1.2zM134.7 208.0h1.2v1.2h-1.2zM162.0 207.9h1.2v1.2h-1.2zM101.1 209.1h1.2v1.2h-1.2zM110.5 209.3h1.2v1.2h-1.2zM113.6 209.4h1.2v1.2h-1.2zM116.8 209.7h1.2v1.2h-1.2zM122.0 209.6h1.2v1.2h-1.2zM141.6 209.2h1.2v1.2h-1.2zM86.8 209.9h1.2v1.2h-1.2zM93.6 210.2h1.2v1.2h-1.2zM94.3 210.0h1.2v1.2h-1.2zM103.5 210.5h1.2v1.2h-1.2zM104.4 210.0h1.2v1.2h-1.2zM108.8 210.4h1.2v1.2h-1.2zM109.6 210.3h1.2v1.2h-1.2zM122.1 210.5h1.2v1.2h-1.2zM123.5 210.4h1.2v1.2h-1.2zM184.3 210.3h1.2v1.2h-1.2zM95.5 211.3h1.2v1.2h-1.2zM113.3 211.5h1.2v1.2h-1.2zM116.1 211.2h1.2v1.2h-1.2zM142.9 211.3h1.2v1.2h-1.2zM160.3 211.3h1.2v1.2h-1.2zM94.0 212.7h1.2v1.2h-1.2zM98.2 212.5h1.2v1.2h-1.2zM102.2 212.6h1.2v1.2h-1.2zM105.3 212.2h1.2v1.2h-1.2zM109.4 212.3h1.2v1.2h-1.2zM118.3 212.6h1.2v1.2h-1.2zM123.4 212.7h1.2v1.2h-1.2zM129.0 212.6h1.2v1.2h-1.2zM141.7 212.4h1.2v1.2h-1.2zM106.6 213.1h1.2v1.2h-1.2zM113.3 213.8h1.2v1.2h-1.2zM115.2 213.2h1.2v1.2h-1.2zM121.0 213.2h1.2v1.2h-1.2zM95.8 214.4h1.2v1.2h-1.2zM111.3 214.3h1.2v1.2h-1.2zM122.5 214.1h1.2v1.2h-1.2zM123.3 214.3h1.2v1.2h-1.2zM200.3 214.0h1.2v1.2h-1.2zM208.7 214.5h1.2v1.2h-1.2zM107.3 215.4h1.2v1.2h-1.2zM111.7 215.6h1.2v1.2h-1.2zM117.4 215.5h1.2v1.2h-1.2zM120.7 215.0h1.2v1.2h-1.2zM129.3 215.5h1.2v1.2h-1.2zM111.0 216.6h1.2v1.2h-1.2zM114.0 216.4h1.2v1.2h-1.2zM114.9 216.6h1.2v1.2h-1.2zM127.6 216.7h1.2v1.2h-1.2zM87.6 217.6h1.2v1.2h-1.2zM96.1 217.5h1.2v1.2h-1.2zM97.1 217.4h1.2v1.2h-1.2zM102.4 217.7h1.2v1.2h-1.2zM103.5 217.4h1.2v1.2h-1.2zM123.7 217.0h1.2v1.2h-1.2zM161.2 217.2h1.2v1.2h-1.2zM107.4 218.6h1.2v1.2h-1.2zM210.5 218.1h1.2v1.2h-1.2zM86.3 219.3h1.2v1.2h-1.2zM124.5 219.5h1.2v1.2h-1.2zM89.1 220.6h1.2v1.2h-1.2zM107.1 220.2h1.2v1.2h-1.2zM111.3 220.0h1.2v1.2h-1.2zM157.5 220.0h1.2v1.2h-1.2zM110.5 221.4h1.2v1.2h-1.2zM116.2 221.0h1.2v1.2h-1.2zM121.2 221.6h1.2v1.2h-1.2zM123.7 221.1h1.2v1.2h-1.2zM173.1 221.2h1.2v1.2h-1.2zM88.7 222.0h1.2v1.2h-1.2zM104.3 221.9h1.2v1.2h-1.2zM111.9 221.9h1.2v1.2h-1.2zM124.6 222.5h1.2v1.2h-1.2zM133.3 222.7h1.2v1.2h-1.2zM102.3 223.6h1.2v1.2h-1.2zM106.8 223.2h1.2v1.2h-1.2zM156.3 223.7h1.2v1.2h-1.2zM104.6 224.4h1.2v1.2h-1.2zM105.0 224.7h1.2v1.2h-1.2zM107.0 224.3h1.2v1.2h-1.2zM133.0 224.6h1.2v1.2h-1.2zM200.5 224.3h1.2v1.2h-1.2zM88.8 225.3h1.2v1.2h-1.2zM95.5 225.5h1.2v1.2h-1.2zM103.2 225.2h1.2v1.2h-1.2zM107.7 225.6h1.2v1.2h-1.2zM108.6 225.0h1.2v1.2h-1.2zM112.6 225.0h1.2v1.2h-1.2zM133.3 225.3h1.2v1.2h-1.2zM113.2 226.2h1.2v1.2h-1.2zM92.2 227.7h1.2v1.2h-1.2zM99.2 227.3h1.2v1.2h-1.2zM166.4 227.2h1.2v1.2h-1.2z"/><path fill="#3246c8" d="M135.1 101.4h1.2v1.2h-1.2zM233.4 101.0h1.2v1.2h-1.2zM122.6 102.3h1.2v1.2h-1.2zM178.0 104.7h1.2v1.2h-1.2zM102.8 108.0h1.2v1.2h-1.2zM115.2 109.5h1.2v1.2h-1.2zM121.6 108.9h1.2v1.2h-1.2zM134.6 109.8h1.2v1.2h-1.2zM163.0 109.4h1.2v1.2h-1.2zM125.1 110.0h1.2v1.2h-1.2zM139.7 110.0h1.2v1.2h-1.2zM90.4 111.8h1.2v1.2h-1.2zM121.8 111.3h1.2v1.2h-1.2zM106.2 112.1h1.2v1.2h-1.2zM108.4 112.5h1.2v1.2h-1.2zM99.0 113.2h1.2v1.2h-1.2zM101.8 113.0h1.2v1.2h-1.2zM135.1 113.6h1.2v1.2h-1.2zM148.1 113.6h1.2v1.2h-1.2zM202.3 113.1h1.2v1.2h-1.2zM99.2 114.4h1.2v1.2h-1.2zM102.1 114.7h1.2v1.2h-1.2zM115.2 114.0h1.2v1.2h-1.2zM141.7 113.9h1.2v1.2h-1.2zM162.7 114.3h1.2v1.2h-1.2zM178.3 114.6h1.2v1.2h-1.2zM212.3 114.1h1.2v1.2h-1.2zM101.4 115.7h1.2v1.2h-1.2zM142.2 115.1h1.2v1.2h-1.2zM144.6 115.0h1.2v1.2h-1.2zM170.5 115.7h1.2v1.2h-1.2zM178.0 115.5h1.2v1.2h-1.2zM86.0 116.2h1.2v1.2h-1.2zM104.3 116.3h1.2v1.2h-1.2zM110.3 116.7h1.2v1.2h-1.2zM131.7 115.9h1.2v1.2h-1.2zM136.4 116.6h1.2v1.2h-1.2zM139.8 116.2h1.2v1.2h-1.2zM178.4 116.0h1.2v1.2h-1.2zM182.3 116.2h1.2v1.2h-1.2zM195.7 116.3h1.2v1.2h-1.2zM192.1 117.6h1.2v1.2h-1.2zM197.3 117.7h1.2v1.2h-1.2zM114.4 118.6h1.2v1.2h-1.2zM124.3 118.4h1.2v1.2h-1.2zM142.1 117.9h1.2v1.2h-1.2zM155.3 117.9h1.2v1.2h-1.2zM177.3 118.3h1.2v1.2h-1.2zM191.3 118.3h1.2v1.2h-1.2zM91.7 119.3h1.2v1.2h-1.2zM111.6 119.6h1.2v1.2h-1.2zM123.2 119.0h1.2v1.2h-1.2zM142.9 119.7h1.2v1.2h-1.2zM146.1 119.1h1.2v1.2h-1.2zM147.0 119.2h1.2v1.2h-1.2zM190.9 119.6h1.2v1.2h-1.2zM194.9 119.7h1.2v1.2h-1.2zM198.6 119.7h1.2v1.2h-1.2zM89.3 120.1h1.2v1.2h-1.2zM103.3 119.9h1.2v1.2h-1.2zM118.0 120.0h1.2v1.2h-1.2zM124.6 120.4h1.2v1.2h-1.2zM127.0 120.0h1.2v1.2h-1.2zM149.0 120.0h1.2v1.2h-1.2zM170.5 120.2h1.2v1.2h-1.2zM173.7 120.4h1.2v1.2h-1.2zM177.1 120.2h1.2v1.2h-1.2zM198.7 120.3h1.2v1.2h-1.2zM94.5 121.2h1.2v1.2h-1.2zM95.2 121.7h1.2v1.2h-1.2zM105.6 121.7h1.2v1.2h-1.2zM107.2 121.0h1.2v1.2h-1.2zM111.8 121.3h1.2v1.2h-1.2zM120.4 121.2h1.2v1.2h-1.2zM121.7 121.5h1.2v1.2h-1.2zM126.2 120.9h1.2v1.2h-1.2zM130.7 121.6h1.2v1.2h-1.2zM173.1 121.7h1.2v1.2h-1.2zM179.5 121.0h1.2v1.2h-1.2zM216.3 121.0h1.2v1.2h-1.2zM102.2 122.2h1.2v1.2h-1.2zM109.5 121.9h1.2v1.2h-1.2zM111.5 122.5h1.2v1.2h-1.2zM121.2 122.4h1.2v1.2h-1.2zM125.4 122.5h1.2v1.2h-1.2zM129.2 122.0h1.2v1.2h-1.2zM132.2 122.5h1.2v1.2h-1.2zM140.7 122.4h1.2v1.2h-1.2zM159.8 122.0h1.2v1.2h-1.2zM175.6 122.4h1.2v1.2h-1.2zM186.1 122.4h1.2v1.2h-1.2zM187.6 122.4h1.2v1.2h-1.2zM198.5 122.4h1.2v1.2h-1.2zM206.7 122.3h1.2v1.2h-1.2zM207.3 122.6h1.2v1.2h-1.2zM97.7 123.2h1.2v1.2h-1.2zM103.2 122.9h1.2v1.2h-1.2zM115.3 123.3h1.2v1.2h-1.2zM124.3 123.6h1.2v1.2h-1.2zM128.3 123.7h1.2v1.2h-1.2zM129.4 123.7h1.2v1.2h-1.2zM133.2 123.4h1.2v1.2h-1.2zM137.2 123.1h1.2v1.2h-1.2zM146.1 123.4h1.2v1.2h-1.2zM147.0 123.6h1.2v1.2h-1.2zM169.2 123.0h1.2v1.2h-1.2zM173.3 123.6h1.2v1.2h-1.2zM183.7 123.5h1.2v1.2h-1.2zM187.2 123.3h1.2v1.2h-1.2zM191.4 123.0h1.2v1.2h-1.2zM86.5 124.1h1.2v1.2h-1.2zM89.2 124.7h1.2v1.2h-1.2zM105.0 124.6h1.2v1.2h-1.2zM109.4 124.1h1.2v1.2h-1.2zM111.1 124.5h1.2v1.2h-1.2zM114.3 124.0h1.2v1.2h-1.2zM124.0 124.3h1.2v1.2h-1.2zM135.5 124.2h1.2v1.2h-1.2zM152.7 124.4h1.2v1.2h-1.2zM153.7 124.6h1.2v1.2h-1.2zM154.3 123.9h1.2v1.2h-1.2zM169.6 124.6h1.2v1.2h-1.2zM173.7 124.3h1.2v1.2h-1.2zM178.3 124.6h1.2v1.2h-1.2zM181.2 124.6h1.2v1.2h-1.2zM200.2 124.3h1.2v1.2h-1.2zM93.2 124.9h1.2v1.2h-1.2zM102.4 125.3h1.2v1.2h-1.2zM102.9 125.1h1.2v1.2h-1.2zM104.2 125.0h1.2v1.2h-1.2zM106.6 125.7h1.2v1.2h-1.2zM108.7 125.8h1.2v1.2h-1.2zM111.4 125.6h1.2v1.2h-1.2zM112.4 125.6h1.2v1.2h-1.2zM119.2 125.7h1.2v1.2h-1.2zM121.6 125.0h1.2v1.2h-1.2zM131.6 125.6h1.2v1.2h-1.2zM136.0 125.0h1.2v1.2h-1.2zM138.7 125.0h1.2v1.2h-1.2zM141.4 125.8h1.2v1.2h-1.2zM149.4 125.5h1.2v1.2h-1.2zM159.2 125.7h1.2v1.2h-1.2zM167.0 125.7h1.2v1.2h-1.2zM173.8 125.6h1.2v1.2h-1.2zM95.0 126.7h1.2v1.2h-1.2zM96.2 126.0h1.2v1.2h-1.2zM100.5 126.0h1.2v1.2h-1.2zM116.2 126.2h1.2v1.2h-1.2zM117.3 126.0h1.2v1.2h-1.2zM119.2 126.4h1.2v1.2h-1.2zM122.1 126.0h1.2v1.2h-1.2zM124.6 126.6h1.2v1.2h-1.2zM138.8 126.8h1.2v1.2h-1.2zM141.0 126.3h1.2v1.2h-1.2zM143.3 126.1h1.2v1.2h-1.2zM147.4 126.2h1.2v1.2h-1.2zM148.3 126.3h1.2v1.2h-1.2zM154.4 126.7h1.2v1.2h-1.2zM157.9 126.5h1.2v1.2h-1.2zM161.3 126.2h1.2v1.2h-1.2zM166.5 126.2h1.2v1.2h-1.2zM170.0 126.0h1.2v1.2h-1.2zM177.7 126.3h1.2v1.2h-1.2zM182.0 126.3h1.2v1.2h-1.2zM189.2 126.1h1.2v1.2h-1.2zM193.1 126.4h1.2v1.2h-1.2zM204.9 126.8h1.2v1.2h-1.2zM90.1 127.7h1.2v1.2h-1.2zM96.9 127.4h1.2v1.2h-1.2zM103.8 127.5h1.2v1.2h-1.2zM108.3 126.9h1.2v1.2h-1.2zM118.3 127.5h1.2v1.2h-1.2zM121.8 126.9h1.2v1.2h-1.2zM127.9 127.4h1.2v1.2h-1.2zM129.8 127.0h1.2v1.2h-1.2zM133.2 127.5h1.2v1.2h-1.2zM136.7 126.9h1.2v1.2h-1.2zM138.7 127.5h1.2v1.2h-1.2zM140.9 127.3h1.2v1.2h-1.2zM145.5 127.4h1.2v1.2h-1.2zM146.1 127.6h1.2v1.2h-1.2zM152.0 127.4h1.2v1.2h-1.2zM160.5 127.1h1.2v1.2h-1.2zM174.1 127.5h1.2v1.2h-1.2zM177.7 127.2h1.2v1.2h-1.2zM183.0 127.4h1.2v1.2h-1.2zM196.4 127.3h1.2v1.2h-1.2zM199.9 127.3h1.2v1.2h-1.2zM202.9 127.8h1.2v1.2h-1.2zM205.7 127.4h1.2v1.2h-1.2zM107.1 128.1h1.2v1.2h-1.2zM111.5 128.3h1.2v1.2h-1.2zM113.3 128.7h1.2v1.2h-1.2zM123.7 128.2h1.2v1.2h-1.2zM130.6 128.7h1.2v1.2h-1.2zM131.6 127.9h1.2v1.2h-1.2zM132.5 127.9h1.2v1.2h-1.2zM133.0 128.3h1.2v1.2h-1.2zM142.6 127.9h1.2v1.2h-1.2zM144.7 128.4h1.2v1.2h-1.2zM145.7 128.2h1.2v1.2h-1.2zM152.3 128.2h1.2v1.2h-1.2zM158.6 128.1h1.2v1.2h-1.2zM159.0 128.4h1.2v1.2h-1.2zM162.4 128.4h1.2v1.2h-1.2zM164.2 128.7h1.2v1.2h-1.2zM174.2 128.2h1.2v1.2h-1.2zM177.6 128.7h1.2v1.2h-1.2zM206.1 128.5h1.2v1.2h-1.2zM91.1 129.6h1.2v1.2h-1.2zM98.3 129.2h1.2v1.2h-1.2zM99.6 129.0h1.2v1.2h-1.2zM111.4 129.5h1.2v1.2h-1.2zM113.8 129.2h1.2v1.2h-1.2zM114.9 129.2h1.2v1.2h-1.2zM125.2 129.0h1.2v1.2h-1.2zM129.0 129.5h1.2v1.2h-1.2zM136.5 129.1h1.2v1.2h-1.2zM144.1 129.8h1.2v1.2h-1.2zM145.0 129.0h1.2v1.2h-1.2zM149.2 129.5h1.2v1.2h-1.2zM150.2 129.2h1.2v1.2h-1.2zM151.3 129.2h1.2v1.2h-1.2zM155.1 129.6h1.2v1.2h-1.2zM173.0 129.1h1.2v1.2h-1.2zM174.4 129.0h1.2v1.2h-1.2zM176.1 129.5h1.2v1.2h-1.2zM197.4 129.5h1.2v1.2h-1.2zM87.7 130.3h1.2v1.2h-1.2zM96.6 130.3h1.2v1.2h-1.2zM99.7 130.3h1.2v1.2h-1.2zM113.4 130.2h1.2v1.2h-1.2zM121.4 130.1h1.2v1.2h-1.2zM143.4 129.9h1.2v1.2h-1.2zM144.2 130.2h1.2v1.2h-1.2zM145.5 130.8h1.2v1.2h-1.2zM149.3 130.2h1.2v1.2h-1.2zM151.1 130.6h1.2v1.2h-1.2zM152.6 130.0h1.2v1.2h-1.2zM157.1 129.9h1.2v1.2h-1.2zM159.4 130.1h1.2v1.2h-1.2zM161.4 130.8h1.2v1.2h-1.2zM164.5 130.4h1.2v1.2h-1.2zM165.5 130.6h1.2v1.2h-1.2zM167.1 129.9h1.2v1.2h-1.2zM168.2 130.7h1.2v1.2h-1.2zM170.3 130.4h1.2v1.2h-1.2zM181.6 130.3h1.2v1.2h-1.2zM185.6 130.2h1.2v1.2h-1.2zM201.6 130.0h1.2v1.2h-1.2zM201.9 130.8h1.2v1.2h-1.2zM88.3 131.4h1.2v1.2h-1.2zM94.1 131.8h1.2v1.2h-1.2zM96.0 131.2h1.2v1.2h-1.2zM97.4 131.4h1.2v1.2h-1.2zM108.8 131.5h1.2v1.2h-1.2zM136.8 131.1h1.2v1.2h-1.2zM144.0 131.3h1.2v1.2h-1.2zM149.7 131.8h1.2v1.2h-1.2zM151.0 131.5h1.2v1.2h-1.2zM152.3 131.2h1.2v1.2h-1.2zM163.2 131.5h1.2v1.2h-1.2zM172.0 131.0h1.2v1.2h-1.2zM173.0 131.7h1.2v1.2h-1.2zM174.4 131.8h1.2v1.2h-1.2zM91.9 132.7h1.2v1.2h-1.2zM94.0 132.5h1.2v1.2h-1.2zM109.4 132.7h1.2v1.2h-1.2zM145.5 132.4h1.2v1.2h-1.2zM147.4 132.6h1.2v1.2h-1.2zM157.1 132.7h1.2v1.2h-1.2zM160.0 132.0h1.2v1.2h-1.2zM170.6 132.0h1.2v1.2h-1.2zM171.4 132.6h1.2v1.2h-1.2zM172.0 132.1h1.2v1.2h-1.2zM178.7 131.9h1.2v1.2h-1.2zM179.3 132.1h1.2v1.2h-1.2zM203.5 132.3h1.2v1.2h-1.2zM206.4 132.7h1.2v1.2h-1.2zM96.1 133.6h1.2v1.2h-1.2zM133.0 133.1h1.2v1.2h-1.2zM142.8 133.1h1.2v1.2h-1.2zM143.1 133.8h1.2v1.2h-1.2zM148.7 133.4h1.2v1.2h-1.2zM151.6 133.7h1.2v1.2h-1.2zM166.7 133.5h1.2v1.2h-1.2zM174.4 133.5h1.2v1.2h-1.2zM178.3 133.0h1.2v1.2h-1.2zM202.0 133.6h1.2v1.2h-1.2zM206.6 133.6h1.2v1.2h-1.2zM207.1 133.7h1.2v1.2h-1.2zM212.6 133.4h1.2v1.2h-1.2zM213.1 133.4h1.2v1.2h-1.2zM100.3 134.6h1.2v1.2h-1.2zM102.3 134.3h1.2v1.2h-1.2zM103.1 134.8h1.2v1.2h-1.2zM135.9 134.6h1.2v1.2h-1.2zM139.4 134.4h1.2v1.2h-1.2zM144.1 134.5h1.2v1.2h-1.2zM145.1 134.7h1.2v1.2h-1.2zM152.5 134.3h1.2v1.2h-1.2zM153.4 134.1h1.2v1.2h-1.2zM157.6 134.0h1.2v1.2h-1.2zM168.2 134.5h1.2v1.2h-1.2zM171.7 134.2h1.2v1.2h-1.2zM205.4 134.3h1.2v1.2h-1.2zM85.0 135.4h1.2v1.2h-1.2zM96.4 135.7h1.2v1.2h-1.2zM97.0 135.3h1.2v1.2h-1.2zM140.7 135.8h1.2v1.2h-1.2zM149.3 135.3h1.2v1.2h-1.2zM150.0 134.9h1.2v1.2h-1.2zM154.0 135.8h1.2v1.2h-1.2zM155.2 135.5h1.2v1.2h-1.2zM156.1 135.4h1.2v1.2h-1.2zM159.6 135.2h1.2v1.2h-1.2zM164.9 135.1h1.2v1.2h-1.2zM166.6 135.8h1.2v1.2h-1.2zM178.4 135.5h1.2v1.2h-1.2zM220.0 135.1h1.2v1.2h-1.2zM223.3 135.5h1.2v1.2h-1.2zM88.4 136.6h1.2v1.2h-1.2zM99.7 136.5h1.2v1.2h-1.2zM149.1 136.5h1.2v1.2h-1.2zM156.3 136.1h1.2v1.2h-1.2zM157.2 136.6h1.2v1.2h-1.2zM158.2 136.3h1.2v1.2h-1.2zM161.3 136.0h1.2v1.2h-1.2zM165.8 136.7h1.2v1.2h-1.2zM173.3 136.5h1.2v1.2h-1.2zM204.7 136.4h1.2v1.2h-1.2zM205.1 136.0h1.2v1.2h-1.2zM209.0 136.4h1.2v1.2h-1.2zM217.5 136.6h1.2v1.2h-1.2zM107.2 137.6h1.2v1.2h-1.2zM146.8 137.6h1.2v1.2h-1.2zM148.6 137.4h1.2v1.2h-1.2zM150.4 137.7h1.2v1.2h-1.2zM159.0 137.1h1.2v1.2h-1.2zM164.1 137.0h1.2v1.2h-1.2zM168.1 137.0h1.2v1.2h-1.2zM170.5 137.5h1.2v1.2h-1.2zM172.3 137.4h1.2v1.2h-1.2zM94.9 138.4h1.2v1.2h-1.2zM98.0 138.2h1.2v1.2h-1.2zM104.3 138.1h1.2v1.2h-1.2zM162.5 138.3h1.2v1.2h-1.2zM166.7 138.0h1.2v1.2h-1.2zM167.9 138.3h1.2v1.2h-1.2zM170.7 138.4h1.2v1.2h-1.2zM172.0 138.1h1.2v1.2h-1.2zM175.4 138.5h1.2v1.2h-1.2zM206.7 138.6h1.2v1.2h-1.2zM93.4 139.7h1.2v1.2h-1.2zM96.0 139.6h1.2v1.2h-1.2zM97.0 139.8h1.2v1.2h-1.2zM98.5 139.1h1.2v1.2h-1.2zM139.0 139.5h1.2v1.2h-1.2zM143.6 139.1h1.2v1.2h-1.2zM144.8 139.8h1.2v1.2h-1.2zM149.1 139.8h1.2v1.2h-1.2zM151.0 139.2h1.2v1.2h-1.2zM163.0 139.0h1.2v1.2h-1.2zM167.6 139.3h1.2v1.2h-1.2zM169.5 139.0h1.2v1.2h-1.2zM170.4 139.3h1.2v1.2h-1.2zM201.3 139.7h1.2v1.2h-1.2zM209.5 139.2h1.2v1.2h-1.2zM214.3 139.7h1.2v1.2h-1.2zM95.1 140.6h1.2v1.2h-1.2zM107.4 139.9h1.2v1.2h-1.2zM111.6 140.6h1.2v1.2h-1.2zM142.5 140.1h1.2v1.2h-1.2zM144.0 140.4h1.2v1.2h-1.2zM145.0 140.1h1.2v1.2h-1.2zM146.3 140.6h1.2v1.2h-1.2zM151.6 140.2h1.2v1.2h-1.2zM174.5 140.0h1.2v1.2h-1.2zM177.7 140.1h1.2v1.2h-1.2zM206.4 140.8h1.2v1.2h-1.2zM95.4 141.3h1.2v1.2h-1.2zM97.8 141.3h1.2v1.2h-1.2zM102.3 141.1h1.2v1.2h-1.2zM107.5 141.6h1.2v1.2h-1.2zM111.4 141.6h1.2v1.2h-1.2zM112.7 141.1h1.2v1.2h-1.2zM124.8 141.2h1.2v1.2h-1.2zM143.5 141.6h1.2v1.2h-1.2zM156.0 141.1h1.2v1.2h-1.2zM161.5 141.4h1.2v1.2h-1.2zM168.9 141.5h1.2v1.2h-1.2zM175.1 141.5h1.2v1.2h-1.2zM176.3 141.3h1.2v1.2h-1.2zM201.1 141.6h1.2v1.2h-1.2zM218.0 141.5h1.2v1.2h-1.2zM89.6 142.3h1.2v1.2h-1.2zM104.1 142.0h1.2v1.2h-1.2zM105.3 142.6h1.2v1.2h-1.2zM108.6 142.5h1.2v1.2h-1.2zM128.6 141.9h1.2v1.2h-1.2zM129.0 142.5h1.2v1.2h-1.2zM132.7 142.3h1.2v1.2h-1.2zM139.2 142.3h1.2v1.2h-1.2zM144.5 142.0h1.2v1.2h-1.2zM153.4 142.7h1.2v1.2h-1.2zM161.2 142.6h1.2v1.2h-1.2zM163.2 142.5h1.2v1.2h-1.2zM164.1 142.0h1.2v1.2h-1.2zM172.3 142.4h1.2v1.2h-1.2zM210.6 142.4h1.2v1.2h-1.2zM106.6 143.5h1.2v1.2h-1.2zM110.6 143.2h1.2v1.2h-1.2zM130.3 143.4h1.2v1.2h-1.2zM135.0 143.0h1.2v1.2h-1.2zM139.6 143.0h1.2v1.2h-1.2zM141.7 143.1h1.2v1.2h-1.2zM144.1 143.1h1.2v1.2h-1.2zM156.3 143.0h1.2v1.2h-1.2zM159.5 143.6h1.2v1.2h-1.2zM162.5 143.6h1.2v1.2h-1.2zM163.4 143.3h1.2v1.2h-1.2zM170.3 142.9h1.2v1.2h-1.2zM173.0 143.5h1.2v1.2h-1.2zM211.5 142.9h1.2v1.2h-1.2zM91.2 144.3h1.2v1.2h-1.2zM93.0 144.1h1.2v1.2h-1.2zM112.0 144.3h1.2v1.2h-1.2zM113.3 144.1h1.2v1.2h-1.2zM129.7 144.7h1.2v1.2h-1.2zM141.4 144.5h1.2v1.2h-1.2zM142.7 144.6h1.2v1.2h-1.2zM143.3 144.5h1.2v1.2h-1.2zM151.2 144.3h1.2v1.2h-1.2zM152.1 144.7h1.2v1.2h-1.2zM154.9 144.1h1.2v1.2h-1.2zM168.4 144.7h1.2v1.2h-1.2zM208.9 144.0h1.2v1.2h-1.2zM92.3 145.7h1.2v1.2h-1.2zM95.3 145.1h1.2v1.2h-1.2zM101.1 144.9h1.2v1.2h-1.2zM121.7 145.1h1.2v1.2h-1.2zM134.0 145.3h1.2v1.2h-1.2zM145.1 145.5h1.2v1.2h-1.2zM147.2 145.4h1.2v1.2h-1.2zM149.9 145.0h1.2v1.2h-1.2zM151.8 145.7h1.2v1.2h-1.2zM152.5 145.2h1.2v1.2h-1.2zM157.1 145.6h1.2v1.2h-1.2zM158.6 144.9h1.2v1.2h-1.2zM160.3 145.5h1.2v1.2h-1.2zM161.3 145.0h1.2v1.2h-1.2zM90.0 145.9h1.2v1.2h-1.2zM108.1 146.5h1.2v1.2h-1.2zM111.2 146.3h1.2v1.2h-1.2zM126.9 146.2h1.2v1.2h-1.2zM139.1 145.9h1.2v1.2h-1.2zM142.3 146.4h1.2v1.2h-1.2zM147.6 146.8h1.2v1.2h-1.2zM149.6 146.8h1.2v1.2h-1.2zM154.4 146.3h1.2v1.2h-1.2zM155.2 146.8h1.2v1.2h-1.2zM159.2 146.0h1.2v1.2h-1.2zM165.1 146.8h1.2v1.2h-1.2zM169.6 146.4h1.2v1.2h-1.2zM205.3 146.3h1.2v1.2h-1.2zM210.4 146.5h1.2v1.2h-1.2zM87.3 147.1h1.2v1.2h-1.2zM92.4 147.8h1.2v1.2h-1.2zM97.3 147.1h1.2v1.2h-1.2zM98.6 147.2h1.2v1.2h-1.2zM102.3 147.0h1.2v1.2h-1.2zM111.8 147.3h1.2v1.2h-1.2zM112.7 147.1h1.2v1.2h-1.2zM113.1 147.5h1.2v1.2h-1.2zM130.7 147.6h1.2v1.2h-1.2zM133.1 147.6h1.2v1.2h-1.2zM137.3 147.4h1.2v1.2h-1.2zM140.3 147.2h1.2v1.2h-1.2zM153.7 147.5h1.2v1.2h-1.2zM155.6 147.3h1.2v1.2h-1.2zM172.6 147.3h1.2v1.2h-1.2zM212.4 147.3h1.2v1.2h-1.2zM216.3 147.6h1.2v1.2h-1.2zM90.3 148.2h1.2v1.2h-1.2zM99.0 148.7h1.2v1.2h-1.2zM117.6 148.4h1.2v1.2h-1.2zM118.7 148.6h1.2v1.2h-1.2zM119.9 148.6h1.2v1.2h-1.2zM122.1 147.9h1.2v1.2h-1.2zM124.6 148.8h1.2v1.2h-1.2zM134.6 147.9h1.2v1.2h-1.2zM138.5 148.6h1.2v1.2h-1.2zM140.0 148.2h1.2v1.2h-1.2zM140.9 148.7h1.2v1.2h-1.2zM146.0 148.2h1.2v1.2h-1.2zM147.6 148.6h1.2v1.2h-1.2zM161.6 148.5h1.2v1.2h-1.2zM163.0 148.8h1.2v1.2h-1.2zM171.6 148.7h1.2v1.2h-1.2zM199.3 148.4h1.2v1.2h-1.2zM201.2 148.0h1.2v1.2h-1.2zM210.0 147.9h1.2v1.2h-1.2zM86.9 149.7h1.2v1.2h-1.2zM90.6 148.9h1.2v1.2h-1.2zM97.0 149.5h1.2v1.2h-1.2zM99.6 148.9h1.2v1.2h-1.2zM103.7 149.5h1.2v1.2h-1.2zM104.3 149.1h1.2v1.2h-1.2zM106.3 149.1h1.2v1.2h-1.2zM114.3 149.3h1.2v1.2h-1.2zM116.8 149.7h1.2v1.2h-1.2zM119.7 148.9h1.2v1.2h-1.2zM131.0 149.8h1.2v1.2h-1.2zM135.2 149.2h1.2v1.2h-1.2zM139.6 149.3h1.2v1.2h-1.2zM153.2 149.2h1.2v1.2h-1.2zM163.2 149.8h1.2v1.2h-1.2zM170.6 149.5h1.2v1.2h-1.2zM174.1 149.6h1.2v1.2h-1.2zM179.9 149.8h1.2v1.2h-1.2zM212.6 149.3h1.2v1.2h-1.2zM90.6 150.2h1.2v1.2h-1.2zM94.5 150.0h1.2v1.2h-1.2zM106.5 150.3h1.2v1.2h-1.2zM123.2 149.9h1.2v1.2h-1.2zM129.9 150.0h1.2v1.2h-1.2zM137.1 150.4h1.2v1.2h-1.2zM141.4 150.6h1.2v1.2h-1.2zM150.1 150.0h1.2v1.2h-1.2zM152.7 150.8h1.2v1.2h-1.2zM168.9 150.7h1.2v1.2h-1.2zM205.0 150.6h1.2v1.2h-1.2zM211.7 150.2h1.2v1.2h-1.2zM224.0 150.5h1.2v1.2h-1.2zM96.5 150.9h1.2v1.2h-1.2zM98.1 151.1h1.2v1.2h-1.2zM114.7 151.6h1.2v1.2h-1.2zM124.4 151.1h1.2v1.2h-1.2zM130.7 151.5h1.2v1.2h-1.2zM132.6 151.0h1.2v1.2h-1.2zM134.3 151.5h1.2v1.2h-1.2zM136.4 151.4h1.2v1.2h-1.2zM139.4 151.4h1.2v1.2h-1.2zM150.7 151.1h1.2v1.2h-1.2zM162.9 151.7h1.2v1.2h-1.2zM166.3 151.3h1.2v1.2h-1.2zM172.4 151.5h1.2v1.2h-1.2zM176.0 151.2h1.2v1.2h-1.2zM177.8 151.1h1.2v1.2h-1.2zM179.3 151.2h1.2v1.2h-1.2zM180.1 150.9h1.2v1.2h-1.2zM185.1 151.5h1.2v1.2h-1.2zM187.8 151.4h1.2v1.2h-1.2zM214.1 151.4h1.2v1.2h-1.2zM92.4 152.4h1.2v1.2h-1.2zM100.4 152.7h1.2v1.2h-1.2zM104.6 152.5h1.2v1.2h-1.2zM107.6 152.5h1.2v1.2h-1.2zM131.6 152.5h1.2v1.2h-1.2zM136.0 151.9h1.2v1.2h-1.2zM137.3 152.4h1.2v1.2h-1.2zM138.7 152.0h1.2v1.2h-1.2zM147.2 152.7h1.2v1.2h-1.2zM153.8 152.6h1.2v1.2h-1.2zM167.7 152.6h1.2v1.2h-1.2zM168.3 152.0h1.2v1.2h-1.2zM181.4 151.9h1.2v1.2h-1.2zM86.9 153.4h1.2v1.2h-1.2zM93.2 153.6h1.2v1.2h-1.2zM99.7 153.8h1.2v1.2h-1.2zM102.7 153.7h1.2v1.2h-1.2zM103.6 153.0h1.2v1.2h-1.2zM116.8 153.6h1.2v1.2h-1.2zM134.5 153.0h1.2v1.2h-1.2zM136.4 153.4h1.2v1.2h-1.2zM137.9 153.4h1.2v1.2h-1.2zM149.5 153.3h1.2v1.2h-1.2zM152.0 153.2h1.2v1.2h-1.2zM153.0 152.9h1.2v1.2h-1.2zM160.5 153.3h1.2v1.2h-1.2zM201.1 153.4h1.2v1.2h-1.2zM207.4 153.2h1.2v1.2h-1.2zM209.3 153.6h1.2v1.2h-1.2zM211.5 152.9h1.2v1.2h-1.2zM213.4 153.5h1.2v1.2h-1.2zM220.7 153.7h1.2v1.2h-1.2zM97.7 154.4h1.2v1.2h-1.2zM105.1 154.1h1.2v1.2h-1.2zM111.5 154.0h1.2v1.2h-1.2zM112.7 154.6h1.2v1.2h-1.2zM123.5 153.9h1.2v1.2h-1.2zM127.6 154.8h1.2v1.2h-1.2zM160.5 154.0h1.2v1.2h-1.2zM162.0 154.8h1.2v1.2h-1.2zM191.0 154.0h1.2v1.2h-1.2zM198.1 154.5h1.2v1.2h-1.2zM199.4 154.6h1.2v1.2h-1.2zM205.2 154.4h1.2v1.2h-1.2zM100.4 155.3h1.2v1.2h-1.2zM104.2 155.8h1.2v1.2h-1.2zM111.7 155.8h1.2v1.2h-1.2zM112.8 155.2h1.2v1.2h-1.2zM122.1 155.6h1.2v1.2h-1.2zM126.3 155.1h1.2v1.2h-1.2zM128.6 155.2h1.2v1.2h-1.2zM129.6 155.3h1.2v1.2h-1.2zM130.5 155.1h1.2v1.2h-1.2zM141.3 155.5h1.2v1.2h-1.2zM144.1 155.0h1.2v1.2h-1.2zM147.3 155.7h1.2v1.2h-1.2zM153.0 155.8h1.2v1.2h-1.2zM156.7 155.8h1.2v1.2h-1.2zM160.6 155.1h1.2v1.2h-1.2zM168.7 155.4h1.2v1.2h-1.2zM172.2 155.0h1.2v1.2h-1.2zM179.5 155.1h1.2v1.2h-1.2zM186.3 155.4h1.2v1.2h-1.2zM190.5 155.2h1.2v1.2h-1.2zM194.8 155.8h1.2v1.2h-1.2zM196.7 155.6h1.2v1.2h-1.2zM95.4 156.2h1.2v1.2h-1.2zM112.5 156.2h1.2v1.2h-1.2zM113.6 156.7h1.2v1.2h-1.2zM123.8 156.1h1.2v1.2h-1.2zM128.5 156.7h1.2v1.2h-1.2zM129.8 156.3h1.2v1.2h-1.2zM132.3 156.0h1.2v1.2h-1.2zM152.1 156.2h1.2v1.2h-1.2zM153.5 156.5h1.2v1.2h-1.2zM178.0 156.0h1.2v1.2h-1.2zM181.1 155.9h1.2v1.2h-1.2zM183.2 156.0h1.2v1.2h-1.2zM185.1 156.5h1.2v1.2h-1.2zM199.3 156.3h1.2v1.2h-1.2zM99.2 157.2h1.2v1.2h-1.2zM103.7 157.3h1.2v1.2h-1.2zM112.7 156.9h1.2v1.2h-1.2zM116.0 157.5h1.2v1.2h-1.2zM118.3 157.6h1.2v1.2h-1.2zM119.1 156.9h1.2v1.2h-1.2zM124.6 157.4h1.2v1.2h-1.2zM132.4 157.7h1.2v1.2h-1.2zM158.5 157.2h1.2v1.2h-1.2zM163.3 157.6h1.2v1.2h-1.2zM184.3 157.2h1.2v1.2h-1.2zM204.2 157.8h1.2v1.2h-1.2zM206.4 157.3h1.2v1.2h-1.2zM93.4 158.8h1.2v1.2h-1.2zM163.8 158.0h1.2v1.2h-1.2zM174.7 158.1h1.2v1.2h-1.2zM175.4 158.4h1.2v1.2h-1.2zM205.3 158.3h1.2v1.2h-1.2zM210.4 158.3h1.2v1.2h-1.2zM85.2 159.3h1.2v1.2h-1.2zM103.3 159.3h1.2v1.2h-1.2zM108.0 159.1h1.2v1.2h-1.2zM116.3 159.6h1.2v1.2h-1.2zM127.0 159.0h1.2v1.2h-1.2zM130.4 159.5h1.2v1.2h-1.2zM130.9 159.7h1.2v1.2h-1.2zM133.4 159.0h1.2v1.2h-1.2zM140.3 159.0h1.2v1.2h-1.2zM142.6 159.5h1.2v1.2h-1.2zM99.9 160.2h1.2v1.2h-1.2zM110.6 160.6h1.2v1.2h-1.2zM120.7 160.6h1.2v1.2h-1.2zM123.6 160.1h1.2v1.2h-1.2zM127.3 160.7h1.2v1.2h-1.2zM128.1 160.6h1.2v1.2h-1.2zM169.9 160.4h1.2v1.2h-1.2zM178.9 160.2h1.2v1.2h-1.2zM182.2 160.6h1.2v1.2h-1.2zM183.3 160.7h1.2v1.2h-1.2zM186.6 160.0h1.2v1.2h-1.2zM191.2 160.7h1.2v1.2h-1.2zM95.6 161.3h1.2v1.2h-1.2zM102.5 161.3h1.2v1.2h-1.2zM104.7 161.5h1.2v1.2h-1.2zM110.7 161.4h1.2v1.2h-1.2zM129.6 161.8h1.2v1.2h-1.2zM187.3 161.2h1.2v1.2h-1.2zM191.9 161.0h1.2v1.2h-1.2zM197.5 161.3h1.2v1.2h-1.2zM90.4 162.5h1.2v1.2h-1.2zM103.2 162.6h1.2v1.2h-1.2zM104.4 162.3h1.2v1.2h-1.2zM114.9 162.7h1.2v1.2h-1.2zM117.6 162.3h1.2v1.2h-1.2zM126.6 162.5h1.2v1.2h-1.2zM132.2 162.1h1.2v1.2h-1.2zM148.8 162.4h1.2v1.2h-1.2zM182.4 162.6h1.2v1.2h-1.2zM186.4 162.2h1.2v1.2h-1.2zM203.5 162.2h1.2v1.2h-1.2zM87.7 163.7h1.2v1.2h-1.2zM101.6 163.4h1.2v1.2h-1.2zM114.3 163.1h1.2v1.2h-1.2zM123.4 163.3h1.2v1.2h-1.2zM183.9 163.1h1.2v1.2h-1.2zM190.0 163.5h1.2v1.2h-1.2zM202.6 163.0h1.2v1.2h-1.2zM205.4 163.5h1.2v1.2h-1.2zM206.8 163.3h1.2v1.2h-1.2zM207.8 163.4h1.2v1.2h-1.2zM215.0 163.7h1.2v1.2h-1.2zM233.4 163.7h1.2v1.2h-1.2zM86.7 164.7h1.2v1.2h-1.2zM94.4 164.1h1.2v1.2h-1.2zM99.3 164.3h1.2v1.2h-1.2zM100.8 163.9h1.2v1.2h-1.2zM101.4 164.7h1.2v1.2h-1.2zM102.8 164.7h1.2v1.2h-1.2zM110.2 164.3h1.2v1.2h-1.2zM111.8 164.6h1.2v1.2h-1.2zM112.8 164.2h1.2v1.2h-1.2zM114.3 164.3h1.2v1.2h-1.2zM118.1 164.0h1.2v1.2h-1.2zM120.5 164.2h1.2v1.2h-1.2zM144.6 164.2h1.2v1.2h-1.2zM188.5 164.0h1.2v1.2h-1.2zM192.2 164.7h1.2v1.2h-1.2zM193.6 164.3h1.2v1.2h-1.2zM194.0 164.0h1.2v1.2h-1.2zM199.3 164.5h1.2v1.2h-1.2zM202.7 164.2h1.2v1.2h-1.2zM203.0 164.5h1.2v1.2h-1.2zM107.1 165.6h1.2v1.2h-1.2zM111.7 165.4h1.2v1.2h-1.2zM123.2 165.0h1.2v1.2h-1.2zM140.5 165.8h1.2v1.2h-1.2zM153.1 165.7h1.2v1.2h-1.2zM195.3 165.1h1.2v1.2h-1.2zM99.6 166.7h1.2v1.2h-1.2zM105.1 166.2h1.2v1.2h-1.2zM109.1 166.5h1.2v1.2h-1.2zM115.1 166.6h1.2v1.2h-1.2zM120.7 166.5h1.2v1.2h-1.2zM206.3 166.5h1.2v1.2h-1.2zM219.4 166.6h1.2v1.2h-1.2zM96.6 167.5h1.2v1.2h-1.2zM97.7 167.6h1.2v1.2h-1.2zM98.1 166.9h1.2v1.2h-1.2zM101.2 167.1h1.2v1.2h-1.2zM108.2 167.6h1.2v1.2h-1.2zM109.1 166.9h1.2v1.2h-1.2zM113.8 167.1h1.2v1.2h-1.2zM118.2 167.4h1.2v1.2h-1.2zM122.6 167.0h1.2v1.2h-1.2zM123.4 167.8h1.2v1.2h-1.2zM135.1 167.4h1.2v1.2h-1.2zM154.8 167.4h1.2v1.2h-1.2zM163.0 167.5h1.2v1.2h-1.2zM193.4 167.8h1.2v1.2h-1.2zM206.1 167.4h1.2v1.2h-1.2zM90.0 168.7h1.2v1.2h-1.2zM95.6 167.9h1.2v1.2h-1.2zM102.1 168.4h1.2v1.2h-1.2zM107.2 168.3h1.2v1.2h-1.2zM108.4 168.6h1.2v1.2h-1.2zM115.4 168.5h1.2v1.2h-1.2zM123.1 168.7h1.2v1.2h-1.2zM138.8 168.0h1.2v1.2h-1.2zM179.5 168.5h1.2v1.2h-1.2zM202.0 168.1h1.2v1.2h-1.2zM209.5 168.7h1.2v1.2h-1.2zM89.8 169.7h1.2v1.2h-1.2zM93.3 169.2h1.2v1.2h-1.2zM107.2 169.6h1.2v1.2h-1.2zM108.1 169.4h1.2v1.2h-1.2zM188.3 169.7h1.2v1.2h-1.2zM195.7 169.5h1.2v1.2h-1.2zM90.7 170.0h1.2v1.2h-1.2zM105.7 170.5h1.2v1.2h-1.2zM115.1 170.2h1.2v1.2h-1.2zM116.3 170.0h1.2v1.2h-1.2zM118.0 170.3h1.2v1.2h-1.2zM124.4 170.2h1.2v1.2h-1.2zM151.9 170.6h1.2v1.2h-1.2zM183.9 170.3h1.2v1.2h-1.2zM185.4 170.3h1.2v1.2h-1.2zM205.2 170.3h1.2v1.2h-1.2zM89.7 171.5h1.2v1.2h-1.2zM98.6 171.3h1.2v1.2h-1.2zM104.6 171.4h1.2v1.2h-1.2zM106.5 171.4h1.2v1.2h-1.2zM116.7 171.2h1.2v1.2h-1.2zM117.0 171.1h1.2v1.2h-1.2zM122.7 171.2h1.2v1.2h-1.2zM129.6 171.2h1.2v1.2h-1.2zM162.0 171.1h1.2v1.2h-1.2zM97.1 172.5h1.2v1.2h-1.2zM98.0 172.0h1.2v1.2h-1.2zM115.3 172.3h1.2v1.2h-1.2zM118.5 172.2h1.2v1.2h-1.2zM124.7 172.5h1.2v1.2h-1.2zM135.7 172.7h1.2v1.2h-1.2zM182.2 172.2h1.2v1.2h-1.2zM191.3 172.8h1.2v1.2h-1.2zM85.6 173.5h1.2v1.2h-1.2zM92.6 173.4h1.2v1.2h-1.2zM98.4 172.9h1.2v1.2h-1.2zM101.5 173.2h1.2v1.2h-1.2zM104.7 173.7h1.2v1.2h-1.2zM105.3 173.6h1.2v1.2h-1.2zM113.6 173.3h1.2v1.2h-1.2zM119.4 173.2h1.2v1.2h-1.2zM139.4 173.7h1.2v1.2h-1.2zM157.4 173.2h1.2v1.2h-1.2zM92.0 174.5h1.2v1.2h-1.2zM100.0 174.5h1.2v1.2h-1.2zM102.6 174.7h1.2v1.2h-1.2zM106.3 174.0h1.2v1.2h-1.2zM118.8 174.5h1.2v1.2h-1.2zM125.7 174.5h1.2v1.2h-1.2zM129.4 174.5h1.2v1.2h-1.2zM137.3 174.0h1.2v1.2h-1.2zM152.1 174.0h1.2v1.2h-1.2zM93.1 175.1h1.2v1.2h-1.2zM104.1 175.4h1.2v1.2h-1.2zM107.7 175.4h1.2v1.2h-1.2zM112.5 175.7h1.2v1.2h-1.2zM119.5 175.8h1.2v1.2h-1.2zM120.6 175.0h1.2v1.2h-1.2zM158.2 175.1h1.2v1.2h-1.2zM205.4 175.1h1.2v1.2h-1.2zM87.7 176.7h1.2v1.2h-1.2zM96.0 176.2h1.2v1.2h-1.2zM102.0 175.9h1.2v1.2h-1.2zM104.3 176.6h1.2v1.2h-1.2zM104.9 176.4h1.2v1.2h-1.2zM118.5 176.6h1.2v1.2h-1.2zM122.0 176.4h1.2v1.2h-1.2zM128.8 176.5h1.2v1.2h-1.2zM134.5 176.6h1.2v1.2h-1.2zM142.5 176.4h1.2v1.2h-1.2zM148.3 176.5h1.2v1.2h-1.2zM156.1 176.1h1.2v1.2h-1.2zM206.7 176.1h1.2v1.2h-1.2zM86.4 177.6h1.2v1.2h-1.2zM94.7 177.0h1.2v1.2h-1.2zM96.6 177.6h1.2v1.2h-1.2zM98.9 177.7h1.2v1.2h-1.2zM107.1 177.0h1.2v1.2h-1.2zM118.5 177.8h1.2v1.2h-1.2zM121.3 177.5h1.2v1.2h-1.2zM128.0 176.9h1.2v1.2h-1.2zM132.8 177.7h1.2v1.2h-1.2zM190.9 177.0h1.2v1.2h-1.2zM97.2 178.5h1.2v1.2h-1.2zM100.0 178.0h1.2v1.2h-1.2zM103.5 178.4h1.2v1.2h-1.2zM105.4 178.6h1.2v1.2h-1.2zM118.3 178.5h1.2v1.2h-1.2zM119.3 178.8h1.2v1.2h-1.2zM128.1 178.0h1.2v1.2h-1.2zM132.9 178.4h1.2v1.2h-1.2zM196.1 178.7h1.2v1.2h-1.2zM215.5 178.0h1.2v1.2h-1.2zM228.7 178.1h1.2v1.2h-1.2zM89.8 179.1h1.2v1.2h-1.2zM91.9 179.6h1.2v1.2h-1.2zM93.3 179.7h1.2v1.2h-1.2zM97.7 179.5h1.2v1.2h-1.2zM99.7 179.4h1.2v1.2h-1.2zM100.1 179.6h1.2v1.2h-1.2zM118.4 179.6h1.2v1.2h-1.2zM120.0 179.5h1.2v1.2h-1.2zM128.6 179.8h1.2v1.2h-1.2zM145.6 178.9h1.2v1.2h-1.2zM184.7 179.5h1.2v1.2h-1.2zM191.0 179.7h1.2v1.2h-1.2zM86.4 180.7h1.2v1.2h-1.2zM102.5 180.7h1.2v1.2h-1.2zM105.1 180.7h1.2v1.2h-1.2zM108.9 180.2h1.2v1.2h-1.2zM117.3 180.2h1.2v1.2h-1.2zM119.8 180.7h1.2v1.2h-1.2zM120.0 180.2h1.2v1.2h-1.2zM122.3 180.3h1.2v1.2h-1.2zM126.1 180.0h1.2v1.2h-1.2zM158.4 180.4h1.2v1.2h-1.2zM186.5 180.8h1.2v1.2h-1.2zM97.9 181.1h1.2v1.2h-1.2zM100.3 181.7h1.2v1.2h-1.2zM101.2 181.8h1.2v1.2h-1.2zM104.7 180.9h1.2v1.2h-1.2zM105.2 181.6h1.2v1.2h-1.2zM118.6 181.7h1.2v1.2h-1.2zM140.4 181.5h1.2v1.2h-1.2zM177.4 181.1h1.2v1.2h-1.2zM88.6 182.7h1.2v1.2h-1.2zM90.7 182.7h1.2v1.2h-1.2zM93.2 182.0h1.2v1.2h-1.2zM99.4 182.6h1.2v1.2h-1.2zM115.6 182.1h1.2v1.2h-1.2zM120.3 182.3h1.2v1.2h-1.2zM122.9 182.3h1.2v1.2h-1.2zM140.0 182.3h1.2v1.2h-1.2zM175.5 182.6h1.2v1.2h-1.2zM204.3 182.4h1.2v1.2h-1.2zM208.3 182.1h1.2v1.2h-1.2zM221.1 182.5h1.2v1.2h-1.2zM97.1 183.3h1.2v1.2h-1.2zM99.7 183.0h1.2v1.2h-1.2zM101.2 183.4h1.2v1.2h-1.2zM105.0 183.5h1.2v1.2h-1.2zM115.6 183.5h1.2v1.2h-1.2zM121.2 183.6h1.2v1.2h-1.2zM131.8 183.0h1.2v1.2h-1.2zM133.6 183.0h1.2v1.2h-1.2zM135.5 183.5h1.2v1.2h-1.2zM219.4 183.1h1.2v1.2h-1.2zM92.1 184.8h1.2v1.2h-1.2zM96.6 184.0h1.2v1.2h-1.2zM97.7 184.8h1.2v1.2h-1.2zM121.2 184.4h1.2v1.2h-1.2zM128.0 184.6h1.2v1.2h-1.2zM132.1 184.8h1.2v1.2h-1.2zM145.2 184.7h1.2v1.2h-1.2zM240.1 184.2h1.2v1.2h-1.2zM103.7 185.3h1.2v1.2h-1.2zM108.2 185.8h1.2v1.2h-1.2zM114.1 185.7h1.2v1.2h-1.2zM118.2 185.0h1.2v1.2h-1.2zM128.0 185.4h1.2v1.2h-1.2zM137.4 185.5h1.2v1.2h-1.2zM101.6 186.5h1.2v1.2h-1.2zM105.5 186.0h1.2v1.2h-1.2zM118.4 186.6h1.2v1.2h-1.2zM120.1 186.4h1.2v1.2h-1.2zM123.6 186.1h1.2v1.2h-1.2zM131.4 186.5h1.2v1.2h-1.2zM150.4 186.2h1.2v1.2h-1.2zM199.7 186.5h1.2v1.2h-1.2zM97.0 187.5h1.2v1.2h-1.2zM123.0 187.3h1.2v1.2h-1.2zM126.7 187.3h1.2v1.2h-1.2zM140.4 187.6h1.2v1.2h-1.2zM165.0 187.0h1.2v1.2h-1.2zM198.4 187.2h1.2v1.2h-1.2zM216.7 187.1h1.2v1.2h-1.2zM92.7 188.2h1.2v1.2h-1.2zM99.2 188.2h1.2v1.2h-1.2zM104.0 188.6h1.2v1.2h-1.2zM123.6 187.9h1.2v1.2h-1.2zM126.2 188.1h1.2v1.2h-1.2zM127.2 188.5h1.2v1.2h-1.2zM88.3 189.6h1.2v1.2h-1.2zM90.2 189.3h1.2v1.2h-1.2zM92.0 189.0h1.2v1.2h-1.2zM97.6 189.7h1.2v1.2h-1.2zM100.5 188.9h1.2v1.2h-1.2zM101.1 189.5h1.2v1.2h-1.2zM116.9 189.3h1.2v1.2h-1.2zM118.8 189.8h1.2v1.2h-1.2zM120.2 189.6h1.2v1.2h-1.2zM121.3 189.7h1.2v1.2h-1.2zM132.5 189.3h1.2v1.2h-1.2zM142.6 189.0h1.2v1.2h-1.2zM146.3 189.5h1.2v1.2h-1.2zM85.7 190.7h1.2v1.2h-1.2zM93.3 190.6h1.2v1.2h-1.2zM119.5 190.5h1.2v1.2h-1.2zM125.7 190.5h1.2v1.2h-1.2zM187.0 190.1h1.2v1.2h-1.2zM90.6 191.2h1.2v1.2h-1.2zM91.0 191.8h1.2v1.2h-1.2zM94.4 191.5h1.2v1.2h-1.2zM96.3 191.3h1.2v1.2h-1.2zM97.3 191.7h1.2v1.2h-1.2zM100.4 191.7h1.2v1.2h-1.2zM101.2 191.5h1.2v1.2h-1.2zM106.7 191.1h1.2v1.2h-1.2zM114.7 191.8h1.2v1.2h-1.2zM145.4 191.1h1.2v1.2h-1.2zM177.5 191.0h1.2v1.2h-1.2zM216.7 191.1h1.2v1.2h-1.2zM97.3 192.8h1.2v1.2h-1.2zM114.6 192.5h1.2v1.2h-1.2zM117.4 192.6h1.2v1.2h-1.2zM118.7 192.4h1.2v1.2h-1.2zM119.5 192.6h1.2v1.2h-1.2zM126.3 192.6h1.2v1.2h-1.2zM131.1 191.9h1.2v1.2h-1.2zM133.3 192.1h1.2v1.2h-1.2zM139.1 192.2h1.2v1.2h-1.2zM148.8 192.1h1.2v1.2h-1.2zM153.6 192.6h1.2v1.2h-1.2zM163.1 192.6h1.2v1.2h-1.2zM86.3 193.0h1.2v1.2h-1.2zM98.7 193.0h1.2v1.2h-1.2zM103.6 193.2h1.2v1.2h-1.2zM104.4 193.2h1.2v1.2h-1.2zM121.7 193.8h1.2v1.2h-1.2zM124.1 193.1h1.2v1.2h-1.2zM126.4 193.7h1.2v1.2h-1.2zM90.0 194.1h1.2v1.2h-1.2zM92.7 194.3h1.2v1.2h-1.2zM93.1 194.5h1.2v1.2h-1.2zM99.7 193.9h1.2v1.2h-1.2zM121.5 194.5h1.2v1.2h-1.2zM122.2 194.6h1.2v1.2h-1.2zM124.8 194.6h1.2v1.2h-1.2zM128.1 193.9h1.2v1.2h-1.2zM170.7 194.6h1.2v1.2h-1.2zM213.0 194.7h1.2v1.2h-1.2zM91.4 195.1h1.2v1.2h-1.2zM95.6 195.6h1.2v1.2h-1.2zM96.5 194.9h1.2v1.2h-1.2zM99.2 195.1h1.2v1.2h-1.2zM103.2 195.3h1.2v1.2h-1.2zM116.9 195.8h1.2v1.2h-1.2zM146.1 195.4h1.2v1.2h-1.2zM159.2 195.2h1.2v1.2h-1.2zM88.4 196.7h1.2v1.2h-1.2zM90.6 196.5h1.2v1.2h-1.2zM95.2 195.9h1.2v1.2h-1.2zM113.3 196.2h1.2v1.2h-1.2zM114.4 196.0h1.2v1.2h-1.2zM120.2 196.3h1.2v1.2h-1.2zM126.3 195.9h1.2v1.2h-1.2zM128.8 196.7h1.2v1.2h-1.2zM137.5 196.2h1.2v1.2h-1.2zM151.3 196.2h1.2v1.2h-1.2zM180.5 196.2h1.2v1.2h-1.2zM211.7 196.3h1.2v1.2h-1.2zM92.2 197.3h1.2v1.2h-1.2zM118.1 197.5h1.2v1.2h-1.2zM120.8 197.5h1.2v1.2h-1.2zM145.9 197.0h1.2v1.2h-1.2zM161.9 197.5h1.2v1.2h-1.2zM188.5 197.1h1.2v1.2h-1.2zM189.1 197.6h1.2v1.2h-1.2zM92.1 198.6h1.2v1.2h-1.2zM98.3 198.0h1.2v1.2h-1.2zM103.9 198.0h1.2v1.2h-1.2zM118.5 198.3h1.2v1.2h-1.2zM126.5 198.3h1.2v1.2h-1.2zM130.2 198.4h1.2v1.2h-1.2zM150.2 198.5h1.2v1.2h-1.2zM217.7 198.3h1.2v1.2h-1.2zM95.7 199.4h1.2v1.2h-1.2zM101.6 199.4h1.2v1.2h-1.2zM101.9 199.3h1.2v1.2h-1.2zM103.3 199.4h1.2v1.2h-1.2zM215.7 199.1h1.2v1.2h-1.2zM89.2 200.1h1.2v1.2h-1.2zM101.7 200.5h1.2v1.2h-1.2zM102.1 200.5h1.2v1.2h-1.2zM106.3 200.2h1.2v1.2h-1.2zM107.4 200.1h1.2v1.2h-1.2zM110.9 200.5h1.2v1.2h-1.2zM116.9 200.8h1.2v1.2h-1.2zM123.2 200.6h1.2v1.2h-1.2zM198.4 200.8h1.2v1.2h-1.2zM89.4 201.5h1.2v1.2h-1.2zM91.7 201.2h1.2v1.2h-1.2zM100.7 201.2h1.2v1.2h-1.2zM101.0 201.8h1.2v1.2h-1.2zM108.5 201.0h1.2v1.2h-1.2zM116.3 201.8h1.2v1.2h-1.2zM118.7 201.5h1.2v1.2h-1.2zM120.7 201.5h1.2v1.2h-1.2zM141.7 201.4h1.2v1.2h-1.2zM167.1 201.3h1.2v1.2h-1.2zM94.5 202.2h1.2v1.2h-1.2zM96.2 202.6h1.2v1.2h-1.2zM100.5 202.1h1.2v1.2h-1.2zM104.7 202.5h1.2v1.2h-1.2zM106.5 201.9h1.2v1.2h-1.2zM110.7 201.9h1.2v1.2h-1.2zM125.6 202.6h1.2v1.2h-1.2zM128.0 202.2h1.2v1.2h-1.2zM139.5 202.7h1.2v1.2h-1.2zM97.4 203.7h1.2v1.2h-1.2zM100.4 203.5h1.2v1.2h-1.2zM104.2 203.2h1.2v1.2h-1.2zM106.5 203.3h1.2v1.2h-1.2zM111.8 203.2h1.2v1.2h-1.2zM112.4 203.5h1.2v1.2h-1.2zM122.0 203.2h1.2v1.2h-1.2zM124.6 203.6h1.2v1.2h-1.2zM150.1 203.2h1.2v1.2h-1.2zM88.1 204.3h1.2v1.2h-1.2zM95.7 204.0h1.2v1.2h-1.2zM104.4 204.6h1.2v1.2h-1.2zM107.2 204.0h1.2v1.2h-1.2zM127.4 204.5h1.2v1.2h-1.2zM161.2 204.0h1.2v1.2h-1.2zM183.1 204.8h1.2v1.2h-1.2zM95.2 205.3h1.2v1.2h-1.2zM97.7 205.6h1.2v1.2h-1.2zM101.6 205.4h1.2v1.2h-1.2zM102.1 205.2h1.2v1.2h-1.2zM104.3 205.3h1.2v1.2h-1.2zM109.5 205.5h1.2v1.2h-1.2zM110.6 205.0h1.2v1.2h-1.2zM112.5 205.8h1.2v1.2h-1.2zM113.1 205.1h1.2v1.2h-1.2zM122.0 205.7h1.2v1.2h-1.2zM123.1 205.8h1.2v1.2h-1.2zM124.5 205.7h1.2v1.2h-1.2zM128.6 205.6h1.2v1.2h-1.2zM153.1 205.2h1.2v1.2h-1.2zM164.3 205.1h1.2v1.2h-1.2zM177.2 205.0h1.2v1.2h-1.2zM188.7 205.4h1.2v1.2h-1.2zM192.7 205.4h1.2v1.2h-1.2zM92.8 206.2h1.2v1.2h-1.2zM93.2 206.1h1.2v1.2h-1.2zM99.0 206.5h1.2v1.2h-1.2zM111.4 206.0h1.2v1.2h-1.2zM119.6 206.7h1.2v1.2h-1.2zM125.6 206.6h1.2v1.2h-1.2zM97.0 207.0h1.2v1.2h-1.2zM103.6 206.9h1.2v1.2h-1.2zM104.1 207.0h1.2v1.2h-1.2zM104.9 207.7h1.2v1.2h-1.2zM111.9 207.0h1.2v1.2h-1.2zM121.3 207.5h1.2v1.2h-1.2zM134.5 207.5h1.2v1.2h-1.2zM144.4 207.6h1.2v1.2h-1.2zM144.9 207.3h1.2v1.2h-1.2zM94.5 208.7h1.2v1.2h-1.2zM96.3 208.6h1.2v1.2h-1.2zM99.6 208.4h1.2v1.2h-1.2zM110.9 208.5h1.2v1.2h-1.2zM112.5 208.5h1.2v1.2h-1.2zM114.7 208.2h1.2v1.2h-1.2zM148.4 208.5h1.2v1.2h-1.2zM178.6 208.4h1.2v1.2h-1.2zM196.0 208.1h1.2v1.2h-1.2zM94.4 209.1h1.2v1.2h-1.2zM97.0 209.6h1.2v1.2h-1.2zM99.2 209.5h1.2v1.2h-1.2zM100.0 209.3h1.2v1.2h-1.2zM102.5 209.2h1.2v1.2h-1.2zM107.3 209.0h1.2v1.2h-1.2zM109.0 209.5h1.2v1.2h-1.2zM118.5 209.2h1.2v1.2h-1.2zM126.5 209.0h1.2v1.2h-1.2zM134.8 209.3h1.2v1.2h-1.2zM99.0 210.6h1.2v1.2h-1.2zM106.2 210.5h1.2v1.2h-1.2zM111.5 210.3h1.2v1.2h-1.2zM112.4 210.7h1.2v1.2h-1.2zM114.2 210.6h1.2v1.2h-1.2zM118.7 210.7h1.2v1.2h-1.2zM158.7 210.8h1.2v1.2h-1.2zM177.7 210.1h1.2v1.2h-1.2zM194.0 210.7h1.2v1.2h-1.2zM98.4 211.3h1.2v1.2h-1.2zM103.5 211.6h1.2v1.2h-1.2zM108.2 211.4h1.2v1.2h-1.2zM113.9 211.6h1.2v1.2h-1.2zM125.3 211.3h1.2v1.2h-1.2zM128.3 211.0h1.2v1.2h-1.2zM97.6 212.0h1.2v1.2h-1.2zM101.7 212.0h1.2v1.2h-1.2zM104.6 212.6h1.2v1.2h-1.2zM106.3 212.6h1.2v1.2h-1.2zM111.1 212.4h1.2v1.2h-1.2zM128.0 212.7h1.2v1.2h-1.2zM140.1 212.5h1.2v1.2h-1.2zM144.9 212.5h1.2v1.2h-1.2zM89.6 213.5h1.2v1.2h-1.2zM96.7 213.6h1.2v1.2h-1.2zM109.9 213.1h1.2v1.2h-1.2zM111.3 213.8h1.2v1.2h-1.2zM116.6 213.0h1.2v1.2h-1.2zM118.0 213.0h1.2v1.2h-1.2zM126.0 213.2h1.2v1.2h-1.2zM101.4 214.2h1.2v1.2h-1.2zM103.6 214.2h1.2v1.2h-1.2zM104.7 214.3h1.2v1.2h-1.2zM108.5 214.7h1.2v1.2h-1.2zM110.6 214.1h1.2v1.2h-1.2zM112.6 214.6h1.2v1.2h-1.2zM116.8 214.6h1.2v1.2h-1.2zM120.1 214.4h1.2v1.2h-1.2zM124.4 214.3h1.2v1.2h-1.2zM133.6 214.0h1.2v1.2h-1.2zM175.2 214.4h1.2v1.2h-1.2zM90.1 215.3h1.2v1.2h-1.2zM105.5 215.6h1.2v1.2h-1.2zM106.7 215.5h1.2v1.2h-1.2zM114.6 215.0h1.2v1.2h-1.2zM123.0 215.0h1.2v1.2h-1.2zM189.0 215.9h1.2v1.2h-1.2zM101.5 217.4h1.2v1.2h-1.2zM106.5 217.7h1.2v1.2h-1.2zM110.5 217.8h1.2v1.2h-1.2zM114.3 217.3h1.2v1.2h-1.2zM125.4 217.4h1.2v1.2h-1.2zM134.4 217.3h1.2v1.2h-1.2zM152.0 217.5h1.2v1.2h-1.2zM159.2 217.6h1.2v1.2h-1.2zM88.3 218.4h1.2v1.2h-1.2zM116.5 218.8h1.2v1.2h-1.2zM122.2 218.0h1.2v1.2h-1.2zM123.7 218.3h1.2v1.2h-1.2zM127.3 218.7h1.2v1.2h-1.2zM194.5 218.3h1.2v1.2h-1.2zM122.7 219.3h1.2v1.2h-1.2zM128.2 219.8h1.2v1.2h-1.2zM110.7 220.2h1.2v1.2h-1.2zM117.5 220.4h1.2v1.2h-1.2zM120.2 219.9h1.2v1.2h-1.2zM128.0 220.5h1.2v1.2h-1.2zM153.0 220.4h1.2v1.2h-1.2zM199.7 220.7h1.2v1.2h-1.2zM86.5 221.0h1.2v1.2h-1.2zM88.8 221.5h1.2v1.2h-1.2zM101.2 221.7h1.2v1.2h-1.2zM107.2 221.3h1.2v1.2h-1.2zM119.1 221.1h1.2v1.2h-1.2zM126.4 221.6h1.2v1.2h-1.2zM92.1 222.1h1.2v1.2h-1.2zM106.6 222.2h1.2v1.2h-1.2zM108.4 222.5h1.2v1.2h-1.2zM120.7 222.6h1.2v1.2h-1.2zM132.7 222.4h1.2v1.2h-1.2zM134.7 222.6h1.2v1.2h-1.2zM87.9 223.0h1.2v1.2h-1.2zM99.6 223.5h1.2v1.2h-1.2zM114.2 223.1h1.2v1.2h-1.2zM117.5 223.7h1.2v1.2h-1.2zM123.6 223.3h1.2v1.2h-1.2zM132.4 223.3h1.2v1.2h-1.2zM133.6 222.9h1.2v1.2h-1.2zM140.1 223.8h1.2v1.2h-1.2zM206.5 223.4h1.2v1.2h-1.2zM89.1 224.2h1.2v1.2h-1.2zM96.4 224.0h1.2v1.2h-1.2zM97.0 224.1h1.2v1.2h-1.2zM113.2 224.1h1.2v1.2h-1.2zM114.8 224.2h1.2v1.2h-1.2zM155.6 224.2h1.2v1.2h-1.2zM172.6 224.8h1.2v1.2h-1.2zM223.9 224.6h1.2v1.2h-1.2zM115.3 225.7h1.2v1.2h-1.2zM119.0 225.4h1.2v1.2h-1.2zM111.0 226.7h1.2v1.2h-1.2zM111.9 225.9h1.2v1.2h-1.2zM198.0 226.0h1.2v1.2h-1.2zM115.0 227.0h1.2v1.2h-1.2z"/><path fill="#4f82e6" d="M129.1 110.5h1.2v1.2h-1.2zM197.3 110.1h1.2v1.2h-1.2zM103.8 116.1h1.2v1.2h-1.2zM112.3 116.7h1.2v1.2h-1.2zM140.4 116.7h1.2v1.2h-1.2zM93.7 118.2h1.2v1.2h-1.2zM132.1 118.3h1.2v1.2h-1.2zM189.6 118.7h1.2v1.2h-1.2zM127.9 119.5h1.2v1.2h-1.2zM133.7 120.0h1.2v1.2h-1.2zM115.2 121.1h1.2v1.2h-1.2zM134.1 121.0h1.2v1.2h-1.2zM92.2 123.0h1.2v1.2h-1.2zM110.7 123.0h1.2v1.2h-1.2zM114.8 123.2h1.2v1.2h-1.2zM122.0 123.5h1.2v1.2h-1.2zM130.7 123.1h1.2v1.2h-1.2zM134.5 124.4h1.2v1.2h-1.2zM171.0 124.1h1.2v1.2h-1.2zM182.5 124.6h1.2v1.2h-1.2zM191.1 124.1h1.2v1.2h-1.2zM110.6 125.1h1.2v1.2h-1.2zM122.3 125.6h1.2v1.2h-1.2zM123.4 125.7h1.2v1.2h-1.2zM144.1 125.1h1.2v1.2h-1.2zM145.7 125.5h1.2v1.2h-1.2zM185.7 125.1h1.2v1.2h-1.2zM186.0 125.3h1.2v1.2h-1.2zM190.1 125.1h1.2v1.2h-1.2zM194.7 125.0h1.2v1.2h-1.2zM103.1 126.0h1.2v1.2h-1.2zM105.0 126.0h1.2v1.2h-1.2zM113.5 126.8h1.2v1.2h-1.2zM128.3 126.3h1.2v1.2h-1.2zM131.1 126.5h1.2v1.2h-1.2zM135.0 126.1h1.2v1.2h-1.2zM139.6 126.8h1.2v1.2h-1.2zM188.6 126.8h1.2v1.2h-1.2zM95.1 127.0h1.2v1.2h-1.2zM126.7 127.5h1.2v1.2h-1.2zM135.5 127.3h1.2v1.2h-1.2zM156.0 127.7h1.2v1.2h-1.2zM179.5 127.7h1.2v1.2h-1.2zM182.4 127.3h1.2v1.2h-1.2zM109.0 128.3h1.2v1.2h-1.2zM110.1 128.2h1.2v1.2h-1.2zM117.0 128.0h1.2v1.2h-1.2zM120.4 128.5h1.2v1.2h-1.2zM133.9 128.3h1.2v1.2h-1.2zM139.7 128.4h1.2v1.2h-1.2zM151.4 128.2h1.2v1.2h-1.2zM153.4 128.0h1.2v1.2h-1.2zM157.8 128.3h1.2v1.2h-1.2zM181.7 128.1h1.2v1.2h-1.2zM184.6 128.1h1.2v1.2h-1.2zM191.1 128.7h1.2v1.2h-1.2zM192.6 128.5h1.2v1.2h-1.2zM193.5 128.7h1.2v1.2h-1.2zM200.2 128.4h1.2v1.2h-1.2zM202.0 128.2h1.2v1.2h-1.2zM85.5 129.3h1.2v1.2h-1.2zM109.3 129.1h1.2v1.2h-1.2zM118.2 129.5h1.2v1.2h-1.2zM119.0 129.5h1.2v1.2h-1.2zM127.1 129.0h1.2v1.2h-1.2zM135.0 129.5h1.2v1.2h-1.2zM138.7 129.1h1.2v1.2h-1.2zM142.0 129.5h1.2v1.2h-1.2zM184.6 129.7h1.2v1.2h-1.2zM185.3 129.4h1.2v1.2h-1.2zM196.4 129.3h1.2v1.2h-1.2zM199.7 129.6h1.2v1.2h-1.2zM205.3 129.3h1.2v1.2h-1.2zM103.3 130.3h1.2v1.2h-1.2zM110.1 130.7h1.2v1.2h-1.2zM117.6 130.7h1.2v1.2h-1.2zM124.1 130.5h1.2v1.2h-1.2zM132.3 130.8h1.2v1.2h-1.2zM138.1 130.0h1.2v1.2h-1.2zM163.4 130.4h1.2v1.2h-1.2zM175.2 130.7h1.2v1.2h-1.2zM183.0 130.1h1.2v1.2h-1.2zM184.5 130.4h1.2v1.2h-1.2zM105.6 131.1h1.2v1.2h-1.2zM110.4 131.2h1.2v1.2h-1.2zM115.1 131.4h1.2v1.2h-1.2zM117.2 131.4h1.2v1.2h-1.2zM118.9 131.0h1.2v1.2h-1.2zM135.1 131.3h1.2v1.2h-1.2zM137.1 131.0h1.2v1.2h-1.2zM142.6 131.3h1.2v1.2h-1.2zM176.4 131.8h1.2v1.2h-1.2zM196.1 131.7h1.2v1.2h-1.2zM105.7 132.0h1.2v1.2h-1.2zM107.0 132.2h1.2v1.2h-1.2zM130.1 132.5h1.2v1.2h-1.2zM132.2 132.2h1.2v1.2h-1.2zM136.8 132.3h1.2v1.2h-1.2zM138.4 132.6h1.2v1.2h-1.2zM140.8 132.2h1.2v1.2h-1.2zM152.6 132.2h1.2v1.2h-1.2zM163.0 132.2h1.2v1.2h-1.2zM173.1 132.6h1.2v1.2h-1.2zM201.4 132.1h1.2v1.2h-1.2zM98.3 133.3h1.2v1.2h-1.2zM102.3 133.2h1.2v1.2h-1.2zM105.0 133.0h1.2v1.2h-1.2zM109.0 133.2h1.2v1.2h-1.2zM113.4 133.6h1.2v1.2h-1.2zM114.2 133.1h1.2v1.2h-1.2zM124.6 132.9h1.2v1.2h-1.2zM130.3 132.9h1.2v1.2h-1.2zM136.3 132.9h1.2v1.2h-1.2zM138.0 133.0h1.2v1.2h-1.2zM145.2 133.3h1.2v1.2h-1.2zM147.5 133.8h1.2v1.2h-1.2zM150.7 133.2h1.2v1.2h-1.2zM163.3 133.6h1.2v1.2h-1.2zM201.8 133.3h1.2v1.2h-1.2zM204.5 133.7h1.2v1.2h-1.2zM106.1 133.9h1.2v1.2h-1.2zM111.9 134.3h1.2v1.2h-1.2zM113.6 134.2h1.2v1.2h-1.2zM135.2 134.7h1.2v1.2h-1.2zM137.8 134.1h1.2v1.2h-1.2zM141.1 134.5h1.2v1.2h-1.2zM147.4 134.7h1.2v1.2h-1.2zM172.2 134.1h1.2v1.2h-1.2zM176.8 134.2h1.2v1.2h-1.2zM178.0 134.5h1.2v1.2h-1.2zM180.4 134.4h1.2v1.2h-1.2zM201.3 134.8h1.2v1.2h-1.2zM209.4 134.0h1.2v1.2h-1.2zM86.7 135.6h1.2v1.2h-1.2zM98.2 134.9h1.2v1.2h-1.2zM103.5 135.2h1.2v1.2h-1.2zM111.7 135.0h1.2v1.2h-1.2zM123.0 135.8h1.2v1.2h-1.2zM128.4 135.3h1.2v1.2h-1.2zM135.3 135.0h1.2v1.2h-1.2zM138.4 135.7h1.2v1.2h-1.2zM143.6 135.0h1.2v1.2h-1.2zM146.1 135.6h1.2v1.2h-1.2zM206.8 135.1h1.2v1.2h-1.2zM85.6 136.7h1.2v1.2h-1.2zM86.2 136.1h1.2v1.2h-1.2zM102.0 136.1h1.2v1.2h-1.2zM106.8 136.7h1.2v1.2h-1.2zM109.6 136.0h1.2v1.2h-1.2zM137.7 136.2h1.2v1.2h-1.2zM139.4 136.2h1.2v1.2h-1.2zM140.4 136.5h1.2v1.2h-1.2zM141.1 136.3h1.2v1.2h-1.2zM144.7 136.2h1.2v1.2h-1.2zM178.8 136.0h1.2v1.2h-1.2zM179.5 136.7h1.2v1.2h-1.2zM180.6 136.4h1.2v1.2h-1.2zM106.5 137.0h1.2v1.2h-1.2zM138.0 137.0h1.2v1.2h-1.2zM141.0 137.5h1.2v1.2h-1.2zM142.3 137.6h1.2v1.2h-1.2zM173.7 137.1h1.2v1.2h-1.2zM174.6 137.5h1.2v1.2h-1.2zM176.9 137.7h1.2v1.2h-1.2zM178.0 137.0h1.2v1.2h-1.2zM202.6 137.5h1.2v1.2h-1.2zM203.0 137.5h1.2v1.2h-1.2zM206.8 137.5h1.2v1.2h-1.2zM99.3 138.0h1.2v1.2h-1.2zM102.2 138.7h1.2v1.2h-1.2zM106.1 138.4h1.2v1.2h-1.2zM107.5 138.1h1.2v1.2h-1.2zM111.2 138.0h1.2v1.2h-1.2zM127.9 138.4h1.2v1.2h-1.2zM139.4 138.4h1.2v1.2h-1.2zM140.6 138.5h1.2v1.2h-1.2zM176.2 138.7h1.2v1.2h-1.2zM177.0 138.3h1.2v1.2h-1.2zM205.6 138.6h1.2v1.2h-1.2zM208.4 138.6h1.2v1.2h-1.2zM100.0 139.6h1.2v1.2h-1.2zM107.6 139.3h1.2v1.2h-1.2zM109.5 139.0h1.2v1.2h-1.2zM114.3 139.1h1.2v1.2h-1.2zM116.2 139.4h1.2v1.2h-1.2zM135.0 138.9h1.2v1.2h-1.2zM136.6 139.3h1.2v1.2h-1.2zM138.2 139.0h1.2v1.2h-1.2zM154.0 139.3h1.2v1.2h-1.2zM158.4 139.6h1.2v1.2h-1.2zM161.3 139.6h1.2v1.2h-1.2zM168.4 138.9h1.2v1.2h-1.2zM175.8 139.6h1.2v1.2h-1.2zM176.2 139.8h1.2v1.2h-1.2zM176.9 139.2h1.2v1.2h-1.2zM178.7 139.6h1.2v1.2h-1.2zM203.5 139.2h1.2v1.2h-1.2zM204.4 139.3h1.2v1.2h-1.2zM207.4 139.3h1.2v1.2h-1.2zM101.7 140.5h1.2v1.2h-1.2zM104.4 140.2h1.2v1.2h-1.2zM108.1 140.3h1.2v1.2h-1.2zM112.1 139.9h1.2v1.2h-1.2zM119.3 139.9h1.2v1.2h-1.2zM132.7 140.2h1.2v1.2h-1.2zM135.5 140.2h1.2v1.2h-1.2zM137.8 140.7h1.2v1.2h-1.2zM141.8 140.6h1.2v1.2h-1.2zM156.4 140.7h1.2v1.2h-1.2zM159.9 139.9h1.2v1.2h-1.2zM169.2 139.9h1.2v1.2h-1.2zM176.8 140.4h1.2v1.2h-1.2zM204.0 140.3h1.2v1.2h-1.2zM99.4 141.0h1.2v1.2h-1.2zM100.2 141.5h1.2v1.2h-1.2zM104.4 141.7h1.2v1.2h-1.2zM106.7 141.3h1.2v1.2h-1.2zM108.8 141.7h1.2v1.2h-1.2zM109.1 141.1h1.2v1.2h-1.2zM114.1 141.6h1.2v1.2h-1.2zM131.1 141.5h1.2v1.2h-1.2zM132.0 141.4h1.2v1.2h-1.2zM135.4 141.4h1.2v1.2h-1.2zM136.7 141.6h1.2v1.2h-1.2zM139.0 141.3h1.2v1.2h-1.2zM144.3 141.8h1.2v1.2h-1.2zM145.4 141.7h1.2v1.2h-1.2zM147.3 141.3h1.2v1.2h-1.2zM173.2 141.3h1.2v1.2h-1.2zM174.0 141.8h1.2v1.2h-1.2zM177.6 141.7h1.2v1.2h-1.2zM178.4 141.6h1.2v1.2h-1.2zM179.8 141.0h1.2v1.2h-1.2zM206.5 141.5h1.2v1.2h-1.2zM109.9 142.7h1.2v1.2h-1.2zM111.2 142.3h1.2v1.2h-1.2zM115.1 142.1h1.2v1.2h-1.2zM118.4 142.6h1.2v1.2h-1.2zM135.6 142.1h1.2v1.2h-1.2zM136.0 142.2h1.2v1.2h-1.2zM138.5 142.7h1.2v1.2h-1.2zM142.6 142.2h1.2v1.2h-1.2zM89.4 143.4h1.2v1.2h-1.2zM107.2 143.3h1.2v1.2h-1.2zM108.6 143.7h1.2v1.2h-1.2zM116.7 143.6h1.2v1.2h-1.2zM118.5 143.7h1.2v1.2h-1.2zM124.4 143.6h1.2v1.2h-1.2zM126.5 143.2h1.2v1.2h-1.2zM128.9 143.6h1.2v1.2h-1.2zM131.1 143.2h1.2v1.2h-1.2zM133.8 143.6h1.2v1.2h-1.2zM175.3 143.7h1.2v1.2h-1.2zM180.6 143.7h1.2v1.2h-1.2zM181.2 143.3h1.2v1.2h-1.2zM201.5 142.9h1.2v1.2h-1.2zM203.1 143.7h1.2v1.2h-1.2zM87.7 144.7h1.2v1.2h-1.2zM103.1 144.7h1.2v1.2h-1.2zM110.5 144.4h1.2v1.2h-1.2zM115.7 144.8h1.2v1.2h-1.2zM116.4 144.2h1.2v1.2h-1.2zM117.0 144.3h1.2v1.2h-1.2zM118.1 144.3h1.2v1.2h-1.2zM119.6 144.7h1.2v1.2h-1.2zM120.3 144.7h1.2v1.2h-1.2zM123.4 144.5h1.2v1.2h-1.2zM124.7 144.1h1.2v1.2h-1.2zM128.5 143.9h1.2v1.2h-1.2zM130.3 144.5h1.2v1.2h-1.2zM134.6 144.3h1.2v1.2h-1.2zM135.0 144.6h1.2v1.2h-1.2zM150.6 144.4h1.2v1.2h-1.2zM170.0 144.1h1.2v1.2h-1.2zM177.6 144.3h1.2v1.2h-1.2zM178.2 144.0h1.2v1.2h-1.2zM180.0 144.7h1.2v1.2h-1.2zM202.9 144.1h1.2v1.2h-1.2zM99.6 145.2h1.2v1.2h-1.2zM104.5 145.1h1.2v1.2h-1.2zM105.7 145.1h1.2v1.2h-1.2zM108.1 145.2h1.2v1.2h-1.2zM109.1 145.2h1.2v1.2h-1.2zM112.3 145.3h1.2v1.2h-1.2zM122.8 145.5h1.2v1.2h-1.2zM123.4 145.4h1.2v1.2h-1.2zM127.1 145.6h1.2v1.2h-1.2zM131.0 145.7h1.2v1.2h-1.2zM133.4 145.3h1.2v1.2h-1.2zM139.5 144.9h1.2v1.2h-1.2zM141.5 145.6h1.2v1.2h-1.2zM177.4 145.1h1.2v1.2h-1.2zM178.0 145.3h1.2v1.2h-1.2zM196.7 145.1h1.2v1.2h-1.2zM201.2 145.5h1.2v1.2h-1.2zM202.4 145.1h1.2v1.2h-1.2zM208.2 145.7h1.2v1.2h-1.2zM107.4 146.3h1.2v1.2h-1.2zM112.2 146.3h1.2v1.2h-1.2zM115.1 146.5h1.2v1.2h-1.2zM116.0 146.3h1.2v1.2h-1.2zM117.4 146.3h1.2v1.2h-1.2zM122.4 145.9h1.2v1.2h-1.2zM131.4 146.6h1.2v1.2h-1.2zM134.8 146.8h1.2v1.2h-1.2zM153.6 146.2h1.2v1.2h-1.2zM177.1 146.6h1.2v1.2h-1.2zM180.3 146.0h1.2v1.2h-1.2zM183.6 145.9h1.2v1.2h-1.2zM195.4 146.5h1.2v1.2h-1.2zM200.8 146.5h1.2v1.2h-1.2zM201.5 146.7h1.2v1.2h-1.2zM204.3 146.2h1.2v1.2h-1.2zM206.1 146.4h1.2v1.2h-1.2zM101.1 147.4h1.2v1.2h-1.2zM108.7 147.0h1.2v1.2h-1.2zM109.5 147.5h1.2v1.2h-1.2zM116.4 146.9h1.2v1.2h-1.2zM117.6 147.0h1.2v1.2h-1.2zM119.2 147.8h1.2v1.2h-1.2zM121.3 147.7h1.2v1.2h-1.2zM138.7 147.8h1.2v1.2h-1.2zM143.0 147.2h1.2v1.2h-1.2zM199.6 147.4h1.2v1.2h-1.2zM203.5 147.6h1.2v1.2h-1.2zM206.7 147.5h1.2v1.2h-1.2zM96.1 148.2h1.2v1.2h-1.2zM113.2 148.2h1.2v1.2h-1.2zM129.4 148.7h1.2v1.2h-1.2zM139.7 148.3h1.2v1.2h-1.2zM182.6 148.4h1.2v1.2h-1.2zM197.0 148.4h1.2v1.2h-1.2zM203.7 148.7h1.2v1.2h-1.2zM204.4 148.0h1.2v1.2h-1.2zM208.4 148.7h1.2v1.2h-1.2zM215.7 148.4h1.2v1.2h-1.2zM101.3 149.5h1.2v1.2h-1.2zM108.7 149.4h1.2v1.2h-1.2zM118.1 149.6h1.2v1.2h-1.2zM123.0 149.4h1.2v1.2h-1.2zM136.2 149.7h1.2v1.2h-1.2zM171.8 149.1h1.2v1.2h-1.2zM189.7 149.7h1.2v1.2h-1.2zM199.2 149.0h1.2v1.2h-1.2zM125.4 150.1h1.2v1.2h-1.2zM163.1 150.8h1.2v1.2h-1.2zM168.4 150.7h1.2v1.2h-1.2zM180.5 150.0h1.2v1.2h-1.2zM181.5 150.3h1.2v1.2h-1.2zM185.7 150.1h1.2v1.2h-1.2zM194.7 150.1h1.2v1.2h-1.2zM195.1 150.8h1.2v1.2h-1.2zM199.3 149.9h1.2v1.2h-1.2zM201.6 150.7h1.2v1.2h-1.2zM207.7 150.4h1.2v1.2h-1.2zM210.2 150.0h1.2v1.2h-1.2zM99.0 151.7h1.2v1.2h-1.2zM113.3 151.6h1.2v1.2h-1.2zM149.3 151.8h1.2v1.2h-1.2zM182.6 151.0h1.2v1.2h-1.2zM183.1 151.7h1.2v1.2h-1.2zM184.2 151.2h1.2v1.2h-1.2zM189.9 151.0h1.2v1.2h-1.2zM195.9 151.6h1.2v1.2h-1.2zM197.4 151.7h1.2v1.2h-1.2zM202.6 151.2h1.2v1.2h-1.2zM111.6 152.2h1.2v1.2h-1.2zM169.2 152.3h1.2v1.2h-1.2zM187.8 152.1h1.2v1.2h-1.2zM188.2 152.5h1.2v1.2h-1.2zM191.0 152.1h1.2v1.2h-1.2zM194.6 152.2h1.2v1.2h-1.2zM200.5 152.0h1.2v1.2h-1.2zM204.5 152.1h1.2v1.2h-1.2zM209.9 152.3h1.2v1.2h-1.2zM115.5 153.0h1.2v1.2h-1.2zM133.8 153.5h1.2v1.2h-1.2zM182.5 153.0h1.2v1.2h-1.2zM190.0 153.2h1.2v1.2h-1.2zM191.5 153.4h1.2v1.2h-1.2zM198.2 153.3h1.2v1.2h-1.2zM205.3 153.7h1.2v1.2h-1.2zM110.2 154.3h1.2v1.2h-1.2zM114.0 154.7h1.2v1.2h-1.2zM117.2 153.9h1.2v1.2h-1.2zM177.5 154.1h1.2v1.2h-1.2zM181.1 154.1h1.2v1.2h-1.2zM189.5 154.7h1.2v1.2h-1.2zM190.5 154.4h1.2v1.2h-1.2zM194.4 154.3h1.2v1.2h-1.2zM196.1 154.7h1.2v1.2h-1.2zM197.0 154.1h1.2v1.2h-1.2zM200.4 154.7h1.2v1.2h-1.2zM202.7 154.2h1.2v1.2h-1.2zM101.0 155.0h1.2v1.2h-1.2zM116.4 155.8h1.2v1.2h-1.2zM121.7 155.6h1.2v1.2h-1.2zM184.5 155.6h1.2v1.2h-1.2zM198.0 155.3h1.2v1.2h-1.2zM204.0 155.7h1.2v1.2h-1.2zM206.3 155.3h1.2v1.2h-1.2zM92.3 156.5h1.2v1.2h-1.2zM105.2 156.2h1.2v1.2h-1.2zM130.7 156.7h1.2v1.2h-1.2zM192.3 156.5h1.2v1.2h-1.2zM193.4 156.2h1.2v1.2h-1.2zM205.7 155.9h1.2v1.2h-1.2zM221.7 156.5h1.2v1.2h-1.2zM117.4 157.1h1.2v1.2h-1.2zM125.6 157.1h1.2v1.2h-1.2zM187.4 157.7h1.2v1.2h-1.2zM194.0 157.1h1.2v1.2h-1.2zM209.0 157.2h1.2v1.2h-1.2zM110.3 158.6h1.2v1.2h-1.2zM132.1 158.5h1.2v1.2h-1.2zM194.0 158.4h1.2v1.2h-1.2zM198.5 158.2h1.2v1.2h-1.2zM203.6 158.8h1.2v1.2h-1.2zM209.1 158.6h1.2v1.2h-1.2zM193.8 159.1h1.2v1.2h-1.2zM194.3 159.4h1.2v1.2h-1.2zM200.0 158.9h1.2v1.2h-1.2zM116.4 160.8h1.2v1.2h-1.2zM193.3 160.1h1.2v1.2h-1.2zM194.6 160.6h1.2v1.2h-1.2zM196.2 160.0h1.2v1.2h-1.2zM200.4 160.7h1.2v1.2h-1.2zM140.6 161.8h1.2v1.2h-1.2zM189.2 161.1h1.2v1.2h-1.2zM201.0 161.5h1.2v1.2h-1.2zM108.3 161.9h1.2v1.2h-1.2zM188.1 162.3h1.2v1.2h-1.2zM189.7 161.9h1.2v1.2h-1.2zM195.1 162.7h1.2v1.2h-1.2zM198.0 162.6h1.2v1.2h-1.2zM152.3 163.3h1.2v1.2h-1.2zM135.7 164.0h1.2v1.2h-1.2zM205.7 165.6h1.2v1.2h-1.2zM100.2 166.0h1.2v1.2h-1.2zM188.4 166.4h1.2v1.2h-1.2zM198.1 166.8h1.2v1.2h-1.2zM200.1 166.0h1.2v1.2h-1.2zM103.3 168.7h1.2v1.2h-1.2zM120.8 170.5h1.2v1.2h-1.2zM94.0 171.7h1.2v1.2h-1.2zM100.6 171.6h1.2v1.2h-1.2zM109.0 172.7h1.2v1.2h-1.2zM111.3 172.4h1.2v1.2h-1.2zM116.4 172.3h1.2v1.2h-1.2zM106.3 173.3h1.2v1.2h-1.2zM109.4 173.4h1.2v1.2h-1.2zM118.7 173.1h1.2v1.2h-1.2zM122.9 173.2h1.2v1.2h-1.2zM103.7 174.2h1.2v1.2h-1.2zM110.8 174.5h1.2v1.2h-1.2zM111.1 173.9h1.2v1.2h-1.2zM113.9 174.2h1.2v1.2h-1.2zM116.1 174.2h1.2v1.2h-1.2zM120.3 174.8h1.2v1.2h-1.2zM105.0 175.5h1.2v1.2h-1.2zM111.4 175.5h1.2v1.2h-1.2zM106.4 176.3h1.2v1.2h-1.2zM106.9 176.2h1.2v1.2h-1.2zM108.6 176.5h1.2v1.2h-1.2zM113.5 175.9h1.2v1.2h-1.2zM105.5 177.5h1.2v1.2h-1.2zM108.7 177.6h1.2v1.2h-1.2zM109.2 177.0h1.2v1.2h-1.2zM110.0 177.3h1.2v1.2h-1.2zM113.4 177.7h1.2v1.2h-1.2zM114.7 177.5h1.2v1.2h-1.2zM116.1 177.2h1.2v1.2h-1.2zM117.2 177.4h1.2v1.2h-1.2zM119.3 177.1h1.2v1.2h-1.2zM218.6 177.3h1.2v1.2h-1.2zM113.2 178.8h1.2v1.2h-1.2zM114.8 178.5h1.2v1.2h-1.2zM117.5 178.7h1.2v1.2h-1.2zM102.6 179.4h1.2v1.2h-1.2zM111.4 179.2h1.2v1.2h-1.2zM113.4 179.5h1.2v1.2h-1.2zM115.1 179.5h1.2v1.2h-1.2zM122.3 179.1h1.2v1.2h-1.2zM128.9 179.3h1.2v1.2h-1.2zM106.2 180.5h1.2v1.2h-1.2zM108.7 180.3h1.2v1.2h-1.2zM112.0 180.4h1.2v1.2h-1.2zM113.7 180.5h1.2v1.2h-1.2zM116.7 180.6h1.2v1.2h-1.2zM103.2 181.2h1.2v1.2h-1.2zM106.2 181.7h1.2v1.2h-1.2zM110.6 181.2h1.2v1.2h-1.2zM98.5 182.7h1.2v1.2h-1.2zM101.1 182.4h1.2v1.2h-1.2zM104.0 182.3h1.2v1.2h-1.2zM110.5 182.0h1.2v1.2h-1.2zM116.0 182.1h1.2v1.2h-1.2zM117.7 182.1h1.2v1.2h-1.2zM106.0 183.3h1.2v1.2h-1.2zM107.5 183.5h1.2v1.2h-1.2zM108.4 183.1h1.2v1.2h-1.2zM109.7 183.4h1.2v1.2h-1.2zM114.0 183.5h1.2v1.2h-1.2zM117.3 183.4h1.2v1.2h-1.2zM100.4 184.1h1.2v1.2h-1.2zM104.5 184.2h1.2v1.2h-1.2zM110.7 184.6h1.2v1.2h-1.2zM113.0 184.6h1.2v1.2h-1.2zM114.7 184.0h1.2v1.2h-1.2zM127.8 184.4h1.2v1.2h-1.2zM100.4 185.0h1.2v1.2h-1.2zM111.2 185.7h1.2v1.2h-1.2zM95.6 186.1h1.2v1.2h-1.2zM97.3 186.0h1.2v1.2h-1.2zM99.6 186.3h1.2v1.2h-1.2zM103.5 186.4h1.2v1.2h-1.2zM106.8 186.7h1.2v1.2h-1.2zM107.0 186.3h1.2v1.2h-1.2zM119.3 186.2h1.2v1.2h-1.2zM100.7 187.1h1.2v1.2h-1.2zM101.3 187.7h1.2v1.2h-1.2zM101.9 187.2h1.2v1.2h-1.2zM105.6 187.6h1.2v1.2h-1.2zM108.3 187.6h1.2v1.2h-1.2zM110.5 187.7h1.2v1.2h-1.2zM112.1 187.4h1.2v1.2h-1.2zM117.6 187.7h1.2v1.2h-1.2zM110.3 188.7h1.2v1.2h-1.2zM111.8 188.7h1.2v1.2h-1.2zM112.1 188.3h1.2v1.2h-1.2zM116.1 187.9h1.2v1.2h-1.2zM117.5 188.8h1.2v1.2h-1.2zM118.4 188.5h1.2v1.2h-1.2zM98.0 189.3h1.2v1.2h-1.2zM102.6 189.5h1.2v1.2h-1.2zM104.3 189.2h1.2v1.2h-1.2zM108.3 189.8h1.2v1.2h-1.2zM110.6 189.2h1.2v1.2h-1.2zM114.3 189.6h1.2v1.2h-1.2zM115.1 189.1h1.2v1.2h-1.2zM116.0 189.0h1.2v1.2h-1.2zM97.9 190.3h1.2v1.2h-1.2zM102.6 190.0h1.2v1.2h-1.2zM104.3 190.0h1.2v1.2h-1.2zM106.5 190.2h1.2v1.2h-1.2zM107.4 190.3h1.2v1.2h-1.2zM109.7 189.9h1.2v1.2h-1.2zM111.1 190.5h1.2v1.2h-1.2zM113.0 190.3h1.2v1.2h-1.2zM116.5 190.1h1.2v1.2h-1.2zM121.7 190.6h1.2v1.2h-1.2zM124.4 190.1h1.2v1.2h-1.2zM108.0 191.0h1.2v1.2h-1.2zM115.3 191.0h1.2v1.2h-1.2zM116.4 190.9h1.2v1.2h-1.2zM122.4 191.4h1.2v1.2h-1.2zM105.0 192.2h1.2v1.2h-1.2zM120.1 192.1h1.2v1.2h-1.2zM121.2 192.8h1.2v1.2h-1.2zM100.1 193.1h1.2v1.2h-1.2zM106.1 193.5h1.2v1.2h-1.2zM114.1 193.3h1.2v1.2h-1.2zM104.4 194.0h1.2v1.2h-1.2zM110.6 194.1h1.2v1.2h-1.2zM111.7 194.7h1.2v1.2h-1.2zM113.6 194.4h1.2v1.2h-1.2zM114.2 194.3h1.2v1.2h-1.2zM116.0 194.6h1.2v1.2h-1.2zM120.7 194.2h1.2v1.2h-1.2zM134.0 194.2h1.2v1.2h-1.2zM105.7 194.9h1.2v1.2h-1.2zM111.3 195.6h1.2v1.2h-1.2zM112.3 195.5h1.2v1.2h-1.2zM114.6 195.8h1.2v1.2h-1.2zM116.2 195.8h1.2v1.2h-1.2zM98.3 196.1h1.2v1.2h-1.2zM101.2 196.1h1.2v1.2h-1.2zM102.5 196.3h1.2v1.2h-1.2zM105.6 196.0h1.2v1.2h-1.2zM106.0 196.3h1.2v1.2h-1.2zM107.5 196.7h1.2v1.2h-1.2zM108.7 196.8h1.2v1.2h-1.2zM110.1 196.2h1.2v1.2h-1.2zM115.6 196.1h1.2v1.2h-1.2zM104.3 197.4h1.2v1.2h-1.2zM106.9 197.5h1.2v1.2h-1.2zM108.9 196.9h1.2v1.2h-1.2zM110.4 197.1h1.2v1.2h-1.2zM114.2 197.8h1.2v1.2h-1.2zM116.7 197.4h1.2v1.2h-1.2zM121.2 197.0h1.2v1.2h-1.2zM86.7 198.8h1.2v1.2h-1.2zM105.7 198.6h1.2v1.2h-1.2zM108.6 198.1h1.2v1.2h-1.2zM109.0 198.5h1.2v1.2h-1.2zM115.1 198.5h1.2v1.2h-1.2zM120.1 198.7h1.2v1.2h-1.2zM106.2 198.9h1.2v1.2h-1.2zM116.7 199.4h1.2v1.2h-1.2zM123.1 199.4h1.2v1.2h-1.2zM125.5 199.1h1.2v1.2h-1.2zM103.5 200.6h1.2v1.2h-1.2zM104.1 200.6h1.2v1.2h-1.2zM105.0 200.0h1.2v1.2h-1.2zM108.4 200.5h1.2v1.2h-1.2zM112.2 200.1h1.2v1.2h-1.2zM105.4 201.5h1.2v1.2h-1.2zM107.0 201.2h1.2v1.2h-1.2zM110.1 201.5h1.2v1.2h-1.2zM111.0 201.1h1.2v1.2h-1.2zM103.7 202.3h1.2v1.2h-1.2zM120.8 202.1h1.2v1.2h-1.2zM127.7 202.2h1.2v1.2h-1.2zM121.5 203.1h1.2v1.2h-1.2zM110.1 204.1h1.2v1.2h-1.2zM116.0 204.8h1.2v1.2h-1.2zM103.2 205.6h1.2v1.2h-1.2zM107.6 205.2h1.2v1.2h-1.2zM104.5 206.7h1.2v1.2h-1.2zM101.5 207.3h1.2v1.2h-1.2zM120.6 209.1h1.2v1.2h-1.2zM140.4 209.9h1.2v1.2h-1.2zM117.5 212.0h1.2v1.2h-1.2zM170.9 212.6h1.2v1.2h-1.2zM153.5 214.6h1.2v1.2h-1.2zM118.6 215.6h1.2v1.2h-1.2zM95.2 216.0h1.2v1.2h-1.2zM101.2 216.4h1.2v1.2h-1.2zM105.0 216.6h1.2v1.2h-1.2z"/><path fill="#5cb0ec" d="M100.2 113.0h1.2v1.2h-1.2zM128.2 117.8h1.2v1.2h-1.2zM191.0 120.2h1.2v1.2h-1.2zM118.2 121.8h1.2v1.2h-1.2zM116.5 122.7h1.2v1.2h-1.2zM103.9 126.3h1.2v1.2h-1.2zM114.5 126.5h1.2v1.2h-1.2zM126.2 126.0h1.2v1.2h-1.2zM116.8 127.1h1.2v1.2h-1.2zM119.6 127.1h1.2v1.2h-1.2zM120.6 126.9h1.2v1.2h-1.2zM125.0 127.5h1.2v1.2h-1.2zM185.5 127.6h1.2v1.2h-1.2zM187.7 127.4h1.2v1.2h-1.2zM189.2 127.0h1.2v1.2h-1.2zM114.1 128.0h1.2v1.2h-1.2zM119.2 128.7h1.2v1.2h-1.2zM122.7 128.3h1.2v1.2h-1.2zM183.5 128.4h1.2v1.2h-1.2zM198.5 128.1h1.2v1.2h-1.2zM199.7 128.7h1.2v1.2h-1.2zM101.6 129.6h1.2v1.2h-1.2zM107.9 128.9h1.2v1.2h-1.2zM114.4 129.1h1.2v1.2h-1.2zM120.4 129.6h1.2v1.2h-1.2zM122.6 129.2h1.2v1.2h-1.2zM124.5 129.4h1.2v1.2h-1.2zM128.4 129.8h1.2v1.2h-1.2zM133.5 128.9h1.2v1.2h-1.2zM182.2 129.6h1.2v1.2h-1.2zM187.0 129.2h1.2v1.2h-1.2zM102.7 130.5h1.2v1.2h-1.2zM119.5 130.3h1.2v1.2h-1.2zM122.1 129.9h1.2v1.2h-1.2zM127.1 130.4h1.2v1.2h-1.2zM196.6 130.0h1.2v1.2h-1.2zM198.4 130.0h1.2v1.2h-1.2zM107.7 131.4h1.2v1.2h-1.2zM112.2 131.6h1.2v1.2h-1.2zM112.9 131.8h1.2v1.2h-1.2zM118.5 131.5h1.2v1.2h-1.2zM119.9 131.6h1.2v1.2h-1.2zM121.1 131.5h1.2v1.2h-1.2zM122.0 131.0h1.2v1.2h-1.2zM123.6 131.8h1.2v1.2h-1.2zM124.7 131.7h1.2v1.2h-1.2zM126.3 131.4h1.2v1.2h-1.2zM127.6 131.3h1.2v1.2h-1.2zM128.5 131.2h1.2v1.2h-1.2zM133.4 131.8h1.2v1.2h-1.2zM182.0 131.2h1.2v1.2h-1.2zM184.4 131.0h1.2v1.2h-1.2zM199.0 130.9h1.2v1.2h-1.2zM200.0 131.4h1.2v1.2h-1.2zM101.9 132.1h1.2v1.2h-1.2zM103.3 132.4h1.2v1.2h-1.2zM104.3 132.0h1.2v1.2h-1.2zM108.1 132.1h1.2v1.2h-1.2zM110.5 132.1h1.2v1.2h-1.2zM112.3 132.7h1.2v1.2h-1.2zM113.6 132.5h1.2v1.2h-1.2zM115.0 132.3h1.2v1.2h-1.2zM116.4 132.4h1.2v1.2h-1.2zM122.6 132.5h1.2v1.2h-1.2zM129.0 132.5h1.2v1.2h-1.2zM133.4 132.8h1.2v1.2h-1.2zM134.5 132.0h1.2v1.2h-1.2zM135.0 132.0h1.2v1.2h-1.2zM186.0 132.3h1.2v1.2h-1.2zM197.0 132.4h1.2v1.2h-1.2zM108.6 133.2h1.2v1.2h-1.2zM109.9 133.2h1.2v1.2h-1.2zM120.5 133.6h1.2v1.2h-1.2zM121.3 133.4h1.2v1.2h-1.2zM124.9 133.5h1.2v1.2h-1.2zM134.3 133.7h1.2v1.2h-1.2zM179.4 133.7h1.2v1.2h-1.2zM181.7 133.7h1.2v1.2h-1.2zM200.1 133.1h1.2v1.2h-1.2zM104.4 134.0h1.2v1.2h-1.2zM111.7 134.7h1.2v1.2h-1.2zM114.0 133.9h1.2v1.2h-1.2zM134.1 134.2h1.2v1.2h-1.2zM140.8 134.0h1.2v1.2h-1.2zM181.4 134.6h1.2v1.2h-1.2zM203.2 134.2h1.2v1.2h-1.2zM204.5 134.6h1.2v1.2h-1.2zM104.8 135.0h1.2v1.2h-1.2zM107.6 135.6h1.2v1.2h-1.2zM108.7 135.6h1.2v1.2h-1.2zM110.8 135.2h1.2v1.2h-1.2zM130.5 135.5h1.2v1.2h-1.2zM131.7 135.4h1.2v1.2h-1.2zM132.4 135.6h1.2v1.2h-1.2zM133.0 135.4h1.2v1.2h-1.2zM133.9 135.5h1.2v1.2h-1.2zM139.3 135.2h1.2v1.2h-1.2zM173.4 135.7h1.2v1.2h-1.2zM179.7 135.5h1.2v1.2h-1.2zM180.9 135.6h1.2v1.2h-1.2zM202.6 135.0h1.2v1.2h-1.2zM104.0 136.3h1.2v1.2h-1.2zM117.5 136.0h1.2v1.2h-1.2zM119.6 136.5h1.2v1.2h-1.2zM124.3 136.2h1.2v1.2h-1.2zM128.4 136.1h1.2v1.2h-1.2zM129.5 136.6h1.2v1.2h-1.2zM135.7 136.1h1.2v1.2h-1.2zM142.4 136.7h1.2v1.2h-1.2zM181.3 136.3h1.2v1.2h-1.2zM103.1 137.7h1.2v1.2h-1.2zM105.2 137.5h1.2v1.2h-1.2zM109.3 137.2h1.2v1.2h-1.2zM115.5 137.5h1.2v1.2h-1.2zM122.0 137.5h1.2v1.2h-1.2zM130.1 137.5h1.2v1.2h-1.2zM136.8 137.8h1.2v1.2h-1.2zM140.5 137.1h1.2v1.2h-1.2zM180.6 137.7h1.2v1.2h-1.2zM200.9 137.4h1.2v1.2h-1.2zM103.4 138.5h1.2v1.2h-1.2zM120.2 138.1h1.2v1.2h-1.2zM124.1 138.3h1.2v1.2h-1.2zM129.3 138.5h1.2v1.2h-1.2zM131.2 138.6h1.2v1.2h-1.2zM134.4 138.6h1.2v1.2h-1.2zM135.2 138.0h1.2v1.2h-1.2zM144.0 138.5h1.2v1.2h-1.2zM178.2 138.6h1.2v1.2h-1.2zM200.4 138.7h1.2v1.2h-1.2zM203.8 138.5h1.2v1.2h-1.2zM103.3 139.7h1.2v1.2h-1.2zM104.5 139.8h1.2v1.2h-1.2zM106.2 139.3h1.2v1.2h-1.2zM108.0 139.6h1.2v1.2h-1.2zM110.3 139.3h1.2v1.2h-1.2zM113.5 139.2h1.2v1.2h-1.2zM120.4 139.7h1.2v1.2h-1.2zM124.4 139.8h1.2v1.2h-1.2zM131.4 139.2h1.2v1.2h-1.2zM140.2 139.2h1.2v1.2h-1.2zM102.9 140.5h1.2v1.2h-1.2zM106.3 140.0h1.2v1.2h-1.2zM110.4 140.2h1.2v1.2h-1.2zM113.1 140.3h1.2v1.2h-1.2zM115.4 140.2h1.2v1.2h-1.2zM128.5 140.5h1.2v1.2h-1.2zM134.3 140.0h1.2v1.2h-1.2zM136.7 140.1h1.2v1.2h-1.2zM203.0 140.7h1.2v1.2h-1.2zM97.9 141.4h1.2v1.2h-1.2zM113.1 140.9h1.2v1.2h-1.2zM117.3 141.8h1.2v1.2h-1.2zM118.2 141.5h1.2v1.2h-1.2zM121.7 141.1h1.2v1.2h-1.2zM128.6 141.4h1.2v1.2h-1.2zM129.5 141.1h1.2v1.2h-1.2zM130.5 141.0h1.2v1.2h-1.2zM133.2 141.0h1.2v1.2h-1.2zM138.0 140.9h1.2v1.2h-1.2zM148.4 141.4h1.2v1.2h-1.2zM181.6 141.3h1.2v1.2h-1.2zM182.4 141.3h1.2v1.2h-1.2zM202.4 141.6h1.2v1.2h-1.2zM109.1 141.9h1.2v1.2h-1.2zM113.2 142.3h1.2v1.2h-1.2zM114.1 142.6h1.2v1.2h-1.2zM117.1 142.0h1.2v1.2h-1.2zM119.7 142.1h1.2v1.2h-1.2zM120.6 142.0h1.2v1.2h-1.2zM123.0 142.4h1.2v1.2h-1.2zM125.6 142.0h1.2v1.2h-1.2zM126.4 142.7h1.2v1.2h-1.2zM133.0 142.4h1.2v1.2h-1.2zM121.9 142.9h1.2v1.2h-1.2zM123.8 143.7h1.2v1.2h-1.2zM132.7 143.1h1.2v1.2h-1.2zM136.3 143.8h1.2v1.2h-1.2zM127.8 143.9h1.2v1.2h-1.2zM132.9 144.1h1.2v1.2h-1.2zM137.1 144.4h1.2v1.2h-1.2zM184.4 144.6h1.2v1.2h-1.2zM196.4 144.3h1.2v1.2h-1.2zM199.3 144.8h1.2v1.2h-1.2zM116.8 145.1h1.2v1.2h-1.2zM117.7 144.9h1.2v1.2h-1.2zM125.4 145.8h1.2v1.2h-1.2zM137.4 145.3h1.2v1.2h-1.2zM180.2 145.4h1.2v1.2h-1.2zM181.4 145.5h1.2v1.2h-1.2zM198.3 145.7h1.2v1.2h-1.2zM118.7 146.4h1.2v1.2h-1.2zM140.1 146.8h1.2v1.2h-1.2zM182.1 146.0h1.2v1.2h-1.2zM185.5 146.6h1.2v1.2h-1.2zM197.4 146.5h1.2v1.2h-1.2zM198.5 146.7h1.2v1.2h-1.2zM122.5 147.6h1.2v1.2h-1.2zM123.3 147.4h1.2v1.2h-1.2zM149.4 147.1h1.2v1.2h-1.2zM178.1 147.0h1.2v1.2h-1.2zM183.1 147.1h1.2v1.2h-1.2zM184.0 147.1h1.2v1.2h-1.2zM187.3 147.0h1.2v1.2h-1.2zM188.2 147.1h1.2v1.2h-1.2zM197.3 147.6h1.2v1.2h-1.2zM198.0 147.4h1.2v1.2h-1.2zM200.6 147.1h1.2v1.2h-1.2zM183.3 148.3h1.2v1.2h-1.2zM185.7 148.4h1.2v1.2h-1.2zM186.3 148.0h1.2v1.2h-1.2zM193.3 148.1h1.2v1.2h-1.2zM202.0 148.7h1.2v1.2h-1.2zM121.5 149.5h1.2v1.2h-1.2zM185.7 149.8h1.2v1.2h-1.2zM193.1 149.3h1.2v1.2h-1.2zM200.2 149.2h1.2v1.2h-1.2zM204.3 149.0h1.2v1.2h-1.2zM187.2 150.0h1.2v1.2h-1.2zM206.7 150.1h1.2v1.2h-1.2zM186.4 151.3h1.2v1.2h-1.2zM193.8 150.9h1.2v1.2h-1.2zM195.4 151.6h1.2v1.2h-1.2zM200.5 151.2h1.2v1.2h-1.2zM126.8 152.2h1.2v1.2h-1.2zM190.7 152.0h1.2v1.2h-1.2zM192.2 152.4h1.2v1.2h-1.2zM197.8 152.3h1.2v1.2h-1.2zM203.4 152.6h1.2v1.2h-1.2zM110.0 153.6h1.2v1.2h-1.2zM193.7 153.3h1.2v1.2h-1.2zM194.6 153.2h1.2v1.2h-1.2zM199.4 153.0h1.2v1.2h-1.2zM188.6 155.0h1.2v1.2h-1.2zM204.9 155.3h1.2v1.2h-1.2zM190.3 156.8h1.2v1.2h-1.2zM203.2 156.5h1.2v1.2h-1.2zM183.1 157.8h1.2v1.2h-1.2zM195.0 157.2h1.2v1.2h-1.2zM193.3 158.5h1.2v1.2h-1.2zM195.4 158.4h1.2v1.2h-1.2zM189.5 159.2h1.2v1.2h-1.2zM201.9 159.4h1.2v1.2h-1.2zM190.7 160.5h1.2v1.2h-1.2zM203.3 160.1h1.2v1.2h-1.2zM185.1 161.0h1.2v1.2h-1.2zM190.5 161.4h1.2v1.2h-1.2zM94.0 162.3h1.2v1.2h-1.2zM192.3 162.6h1.2v1.2h-1.2zM206.1 162.4h1.2v1.2h-1.2zM188.6 163.0h1.2v1.2h-1.2zM194.3 163.2h1.2v1.2h-1.2zM206.0 164.4h1.2v1.2h-1.2zM111.1 173.0h1.2v1.2h-1.2zM109.3 174.3h1.2v1.2h-1.2zM110.4 175.7h1.2v1.2h-1.2zM101.4 176.2h1.2v1.2h-1.2zM109.7 176.3h1.2v1.2h-1.2zM106.3 177.3h1.2v1.2h-1.2zM109.6 178.7h1.2v1.2h-1.2zM110.4 178.2h1.2v1.2h-1.2zM112.1 178.5h1.2v1.2h-1.2zM153.8 178.0h1.2v1.2h-1.2zM105.5 179.1h1.2v1.2h-1.2zM109.9 179.7h1.2v1.2h-1.2zM111.6 180.0h1.2v1.2h-1.2zM102.7 181.6h1.2v1.2h-1.2zM107.3 181.2h1.2v1.2h-1.2zM111.7 181.2h1.2v1.2h-1.2zM116.0 181.1h1.2v1.2h-1.2zM119.4 181.5h1.2v1.2h-1.2zM113.0 182.4h1.2v1.2h-1.2zM111.6 183.4h1.2v1.2h-1.2zM105.8 184.4h1.2v1.2h-1.2zM105.9 183.9h1.2v1.2h-1.2zM107.5 184.3h1.2v1.2h-1.2zM112.2 184.7h1.2v1.2h-1.2zM116.0 184.6h1.2v1.2h-1.2zM117.7 183.9h1.2v1.2h-1.2zM143.0 184.5h1.2v1.2h-1.2zM102.6 185.7h1.2v1.2h-1.2zM105.3 185.6h1.2v1.2h-1.2zM107.3 185.1h1.2v1.2h-1.2zM113.4 185.7h1.2v1.2h-1.2zM116.6 185.6h1.2v1.2h-1.2zM109.0 186.6h1.2v1.2h-1.2zM112.7 186.8h1.2v1.2h-1.2zM115.3 186.2h1.2v1.2h-1.2zM104.6 187.3h1.2v1.2h-1.2zM109.0 187.2h1.2v1.2h-1.2zM115.8 187.6h1.2v1.2h-1.2zM118.2 187.5h1.2v1.2h-1.2zM106.2 188.0h1.2v1.2h-1.2zM107.2 188.7h1.2v1.2h-1.2zM113.2 188.4h1.2v1.2h-1.2zM115.2 188.8h1.2v1.2h-1.2zM105.5 189.2h1.2v1.2h-1.2zM109.3 189.4h1.2v1.2h-1.2zM112.5 189.7h1.2v1.2h-1.2zM105.2 190.3h1.2v1.2h-1.2zM108.5 189.9h1.2v1.2h-1.2zM105.4 191.6h1.2v1.2h-1.2zM109.9 191.1h1.2v1.2h-1.2zM118.4 191.1h1.2v1.2h-1.2zM108.7 192.3h1.2v1.2h-1.2zM109.6 192.2h1.2v1.2h-1.2zM110.2 192.4h1.2v1.2h-1.2zM111.1 192.0h1.2v1.2h-1.2zM108.1 193.2h1.2v1.2h-1.2zM109.1 193.4h1.2v1.2h-1.2zM115.7 193.0h1.2v1.2h-1.2zM116.0 193.2h1.2v1.2h-1.2zM119.0 193.5h1.2v1.2h-1.2zM101.2 194.5h1.2v1.2h-1.2zM107.4 194.3h1.2v1.2h-1.2zM112.4 194.3h1.2v1.2h-1.2zM115.7 194.1h1.2v1.2h-1.2zM102.1 195.0h1.2v1.2h-1.2zM106.4 195.3h1.2v1.2h-1.2zM107.1 195.7h1.2v1.2h-1.2zM108.1 195.1h1.2v1.2h-1.2zM103.6 196.5h1.2v1.2h-1.2zM109.7 196.8h1.2v1.2h-1.2zM112.4 196.3h1.2v1.2h-1.2zM117.8 196.1h1.2v1.2h-1.2zM106.5 197.0h1.2v1.2h-1.2zM111.8 197.0h1.2v1.2h-1.2zM115.1 197.3h1.2v1.2h-1.2zM113.2 198.2h1.2v1.2h-1.2zM114.2 198.3h1.2v1.2h-1.2zM107.1 199.8h1.2v1.2h-1.2zM121.5 199.5h1.2v1.2h-1.2zM109.6 201.6h1.2v1.2h-1.2zM111.6 202.3h1.2v1.2h-1.2zM113.5 202.6h1.2v1.2h-1.2zM115.2 203.2h1.2v1.2h-1.2zM105.3 204.3h1.2v1.2h-1.2zM118.2 206.7h1.2v1.2h-1.2zM116.0 220.2h1.2v1.2h-1.2z"/><path fill="#52c4bc" d="M118.7 126.3h1.2v1.2h-1.2zM113.1 127.7h1.2v1.2h-1.2zM186.7 127.3h1.2v1.2h-1.2zM188.7 127.2h1.2v1.2h-1.2zM116.6 128.2h1.2v1.2h-1.2zM125.7 128.2h1.2v1.2h-1.2zM192.3 129.2h1.2v1.2h-1.2zM194.9 129.4h1.2v1.2h-1.2zM115.5 130.7h1.2v1.2h-1.2zM118.3 130.2h1.2v1.2h-1.2zM130.4 130.7h1.2v1.2h-1.2zM131.3 130.1h1.2v1.2h-1.2zM188.6 130.3h1.2v1.2h-1.2zM190.6 129.9h1.2v1.2h-1.2zM194.0 130.5h1.2v1.2h-1.2zM195.4 130.4h1.2v1.2h-1.2zM197.3 130.1h1.2v1.2h-1.2zM114.5 131.4h1.2v1.2h-1.2zM116.4 131.5h1.2v1.2h-1.2zM129.5 131.0h1.2v1.2h-1.2zM130.8 131.2h1.2v1.2h-1.2zM183.3 131.1h1.2v1.2h-1.2zM187.5 131.7h1.2v1.2h-1.2zM192.5 131.8h1.2v1.2h-1.2zM198.0 131.0h1.2v1.2h-1.2zM117.6 132.3h1.2v1.2h-1.2zM119.3 132.7h1.2v1.2h-1.2zM120.6 131.9h1.2v1.2h-1.2zM123.3 132.6h1.2v1.2h-1.2zM177.4 132.2h1.2v1.2h-1.2zM198.1 132.1h1.2v1.2h-1.2zM112.0 133.1h1.2v1.2h-1.2zM116.8 133.4h1.2v1.2h-1.2zM118.2 133.6h1.2v1.2h-1.2zM126.1 133.2h1.2v1.2h-1.2zM128.6 133.7h1.2v1.2h-1.2zM132.4 133.1h1.2v1.2h-1.2zM198.2 133.0h1.2v1.2h-1.2zM108.5 134.1h1.2v1.2h-1.2zM115.6 134.7h1.2v1.2h-1.2zM116.6 134.0h1.2v1.2h-1.2zM123.6 134.0h1.2v1.2h-1.2zM128.2 134.0h1.2v1.2h-1.2zM132.4 134.3h1.2v1.2h-1.2zM133.8 134.7h1.2v1.2h-1.2zM179.2 134.6h1.2v1.2h-1.2zM198.3 134.7h1.2v1.2h-1.2zM116.6 135.2h1.2v1.2h-1.2zM117.1 135.3h1.2v1.2h-1.2zM122.3 135.7h1.2v1.2h-1.2zM129.1 135.2h1.2v1.2h-1.2zM137.8 135.5h1.2v1.2h-1.2zM197.2 135.0h1.2v1.2h-1.2zM199.5 135.1h1.2v1.2h-1.2zM201.2 135.3h1.2v1.2h-1.2zM110.3 136.0h1.2v1.2h-1.2zM112.6 136.3h1.2v1.2h-1.2zM114.6 136.1h1.2v1.2h-1.2zM116.0 136.1h1.2v1.2h-1.2zM123.8 136.3h1.2v1.2h-1.2zM126.4 136.2h1.2v1.2h-1.2zM127.7 136.6h1.2v1.2h-1.2zM132.7 136.6h1.2v1.2h-1.2zM134.6 136.0h1.2v1.2h-1.2zM136.7 136.7h1.2v1.2h-1.2zM182.4 136.0h1.2v1.2h-1.2zM198.2 136.0h1.2v1.2h-1.2zM112.5 137.0h1.2v1.2h-1.2zM113.2 137.8h1.2v1.2h-1.2zM114.2 137.1h1.2v1.2h-1.2zM118.2 137.1h1.2v1.2h-1.2zM131.0 137.4h1.2v1.2h-1.2zM134.2 137.5h1.2v1.2h-1.2zM108.1 138.2h1.2v1.2h-1.2zM109.2 138.6h1.2v1.2h-1.2zM117.7 138.8h1.2v1.2h-1.2zM122.7 138.6h1.2v1.2h-1.2zM125.2 138.2h1.2v1.2h-1.2zM136.1 138.5h1.2v1.2h-1.2zM179.6 138.1h1.2v1.2h-1.2zM180.4 138.4h1.2v1.2h-1.2zM197.2 138.8h1.2v1.2h-1.2zM199.4 138.7h1.2v1.2h-1.2zM111.2 139.1h1.2v1.2h-1.2zM112.4 139.1h1.2v1.2h-1.2zM115.4 139.5h1.2v1.2h-1.2zM117.1 139.4h1.2v1.2h-1.2zM119.7 139.2h1.2v1.2h-1.2zM121.7 139.2h1.2v1.2h-1.2zM122.7 139.1h1.2v1.2h-1.2zM125.0 139.4h1.2v1.2h-1.2zM126.5 139.5h1.2v1.2h-1.2zM130.7 139.4h1.2v1.2h-1.2zM132.4 139.8h1.2v1.2h-1.2zM133.3 139.0h1.2v1.2h-1.2zM134.7 139.2h1.2v1.2h-1.2zM197.1 139.6h1.2v1.2h-1.2zM200.7 139.0h1.2v1.2h-1.2zM202.7 139.4h1.2v1.2h-1.2zM114.6 140.3h1.2v1.2h-1.2zM117.3 140.3h1.2v1.2h-1.2zM118.8 140.2h1.2v1.2h-1.2zM121.0 140.0h1.2v1.2h-1.2zM122.1 140.0h1.2v1.2h-1.2zM123.3 140.0h1.2v1.2h-1.2zM125.1 140.7h1.2v1.2h-1.2zM129.3 140.3h1.2v1.2h-1.2zM131.0 140.4h1.2v1.2h-1.2zM133.2 140.3h1.2v1.2h-1.2zM180.0 140.3h1.2v1.2h-1.2zM183.3 140.5h1.2v1.2h-1.2zM197.9 140.6h1.2v1.2h-1.2zM200.3 140.3h1.2v1.2h-1.2zM110.7 141.0h1.2v1.2h-1.2zM116.6 141.1h1.2v1.2h-1.2zM119.5 141.2h1.2v1.2h-1.2zM120.5 141.2h1.2v1.2h-1.2zM121.9 141.4h1.2v1.2h-1.2zM123.2 140.9h1.2v1.2h-1.2zM125.9 141.7h1.2v1.2h-1.2zM127.1 141.5h1.2v1.2h-1.2zM112.0 141.9h1.2v1.2h-1.2zM121.8 142.3h1.2v1.2h-1.2zM124.2 142.2h1.2v1.2h-1.2zM179.3 142.6h1.2v1.2h-1.2zM181.6 142.4h1.2v1.2h-1.2zM183.5 142.7h1.2v1.2h-1.2zM200.1 142.3h1.2v1.2h-1.2zM200.9 142.0h1.2v1.2h-1.2zM105.4 142.9h1.2v1.2h-1.2zM112.6 143.6h1.2v1.2h-1.2zM119.6 142.9h1.2v1.2h-1.2zM120.5 143.1h1.2v1.2h-1.2zM121.5 143.8h1.2v1.2h-1.2zM181.9 143.4h1.2v1.2h-1.2zM198.2 143.3h1.2v1.2h-1.2zM199.4 143.2h1.2v1.2h-1.2zM179.2 144.4h1.2v1.2h-1.2zM181.3 144.0h1.2v1.2h-1.2zM183.0 144.7h1.2v1.2h-1.2zM185.7 144.0h1.2v1.2h-1.2zM200.7 144.7h1.2v1.2h-1.2zM201.8 144.3h1.2v1.2h-1.2zM124.7 145.4h1.2v1.2h-1.2zM179.4 145.2h1.2v1.2h-1.2zM186.2 145.2h1.2v1.2h-1.2zM200.7 145.5h1.2v1.2h-1.2zM184.2 146.5h1.2v1.2h-1.2zM182.5 147.1h1.2v1.2h-1.2zM185.7 147.5h1.2v1.2h-1.2zM189.4 147.2h1.2v1.2h-1.2zM193.5 146.9h1.2v1.2h-1.2zM196.7 147.7h1.2v1.2h-1.2zM189.3 148.1h1.2v1.2h-1.2zM192.4 148.5h1.2v1.2h-1.2zM194.2 148.4h1.2v1.2h-1.2zM198.4 148.4h1.2v1.2h-1.2zM183.8 149.4h1.2v1.2h-1.2zM184.2 149.2h1.2v1.2h-1.2zM190.0 149.0h1.2v1.2h-1.2zM190.9 149.3h1.2v1.2h-1.2zM192.0 149.5h1.2v1.2h-1.2zM196.7 149.5h1.2v1.2h-1.2zM186.0 150.0h1.2v1.2h-1.2zM188.8 150.6h1.2v1.2h-1.2zM198.2 150.8h1.2v1.2h-1.2zM192.6 151.3h1.2v1.2h-1.2zM186.1 153.2h1.2v1.2h-1.2zM196.9 153.0h1.2v1.2h-1.2zM195.4 156.1h1.2v1.2h-1.2zM201.4 156.2h1.2v1.2h-1.2zM183.0 158.4h1.2v1.2h-1.2zM197.8 164.6h1.2v1.2h-1.2zM111.5 177.7h1.2v1.2h-1.2zM101.1 178.6h1.2v1.2h-1.2zM108.3 179.7h1.2v1.2h-1.2zM112.4 179.5h1.2v1.2h-1.2zM109.9 180.4h1.2v1.2h-1.2zM109.3 181.4h1.2v1.2h-1.2zM107.3 182.0h1.2v1.2h-1.2zM109.7 182.5h1.2v1.2h-1.2zM111.8 182.1h1.2v1.2h-1.2zM112.1 181.9h1.2v1.2h-1.2zM114.4 182.4h1.2v1.2h-1.2zM101.9 182.9h1.2v1.2h-1.2zM113.4 183.7h1.2v1.2h-1.2zM116.5 183.4h1.2v1.2h-1.2zM111.1 184.4h1.2v1.2h-1.2zM112.4 184.9h1.2v1.2h-1.2zM117.6 184.9h1.2v1.2h-1.2zM117.7 186.4h1.2v1.2h-1.2zM106.9 187.0h1.2v1.2h-1.2zM109.4 188.6h1.2v1.2h-1.2zM106.3 189.3h1.2v1.2h-1.2zM107.8 189.1h1.2v1.2h-1.2zM111.5 189.3h1.2v1.2h-1.2zM113.6 189.2h1.2v1.2h-1.2zM110.2 190.2h1.2v1.2h-1.2zM103.2 191.5h1.2v1.2h-1.2zM107.0 191.3h1.2v1.2h-1.2zM109.6 191.2h1.2v1.2h-1.2zM112.4 191.5h1.2v1.2h-1.2zM102.7 192.5h1.2v1.2h-1.2zM104.1 192.0h1.2v1.2h-1.2zM107.1 192.1h1.2v1.2h-1.2zM116.7 192.7h1.2v1.2h-1.2zM107.5 193.6h1.2v1.2h-1.2zM110.6 193.4h1.2v1.2h-1.2zM113.3 193.4h1.2v1.2h-1.2zM117.5 193.5h1.2v1.2h-1.2zM109.7 194.2h1.2v1.2h-1.2zM104.7 195.6h1.2v1.2h-1.2zM107.7 198.1h1.2v1.2h-1.2zM110.3 198.8h1.2v1.2h-1.2zM112.7 197.9h1.2v1.2h-1.2z"/><path fill="#7ccc50" d="M184.5 127.5h1.2v1.2h-1.2zM194.1 128.3h1.2v1.2h-1.2zM131.4 129.4h1.2v1.2h-1.2zM188.0 129.5h1.2v1.2h-1.2zM189.2 129.0h1.2v1.2h-1.2zM114.2 130.5h1.2v1.2h-1.2zM187.2 130.5h1.2v1.2h-1.2zM191.0 129.9h1.2v1.2h-1.2zM125.3 131.3h1.2v1.2h-1.2zM185.0 131.4h1.2v1.2h-1.2zM186.7 131.4h1.2v1.2h-1.2zM191.8 131.1h1.2v1.2h-1.2zM114.7 132.1h1.2v1.2h-1.2zM118.5 132.5h1.2v1.2h-1.2zM125.4 132.0h1.2v1.2h-1.2zM127.7 132.4h1.2v1.2h-1.2zM128.5 132.6h1.2v1.2h-1.2zM182.2 132.1h1.2v1.2h-1.2zM183.7 132.0h1.2v1.2h-1.2zM184.3 132.3h1.2v1.2h-1.2zM185.2 132.0h1.2v1.2h-1.2zM187.1 131.9h1.2v1.2h-1.2zM189.3 132.4h1.2v1.2h-1.2zM193.3 131.9h1.2v1.2h-1.2zM195.9 132.3h1.2v1.2h-1.2zM106.0 133.2h1.2v1.2h-1.2zM117.7 133.3h1.2v1.2h-1.2zM122.4 133.2h1.2v1.2h-1.2zM123.1 132.9h1.2v1.2h-1.2zM127.7 133.3h1.2v1.2h-1.2zM131.4 133.6h1.2v1.2h-1.2zM181.9 133.8h1.2v1.2h-1.2zM186.7 133.8h1.2v1.2h-1.2zM197.4 133.3h1.2v1.2h-1.2zM118.2 134.7h1.2v1.2h-1.2zM119.6 134.3h1.2v1.2h-1.2zM121.0 134.5h1.2v1.2h-1.2zM125.1 134.8h1.2v1.2h-1.2zM126.8 134.2h1.2v1.2h-1.2zM129.4 134.5h1.2v1.2h-1.2zM130.7 134.2h1.2v1.2h-1.2zM131.0 134.4h1.2v1.2h-1.2zM182.3 134.1h1.2v1.2h-1.2zM183.1 133.9h1.2v1.2h-1.2zM185.0 134.1h1.2v1.2h-1.2zM194.3 133.9h1.2v1.2h-1.2zM195.3 134.3h1.2v1.2h-1.2zM196.4 134.6h1.2v1.2h-1.2zM199.2 134.4h1.2v1.2h-1.2zM113.2 135.4h1.2v1.2h-1.2zM114.1 135.4h1.2v1.2h-1.2zM115.2 135.7h1.2v1.2h-1.2zM118.2 135.6h1.2v1.2h-1.2zM119.9 135.4h1.2v1.2h-1.2zM125.2 135.2h1.2v1.2h-1.2zM126.2 135.3h1.2v1.2h-1.2zM127.0 135.5h1.2v1.2h-1.2zM198.4 135.2h1.2v1.2h-1.2zM108.3 136.2h1.2v1.2h-1.2zM111.3 136.4h1.2v1.2h-1.2zM113.5 136.3h1.2v1.2h-1.2zM115.2 136.7h1.2v1.2h-1.2zM118.8 136.7h1.2v1.2h-1.2zM120.1 135.9h1.2v1.2h-1.2zM120.9 136.1h1.2v1.2h-1.2zM125.4 136.5h1.2v1.2h-1.2zM130.3 136.3h1.2v1.2h-1.2zM133.4 136.6h1.2v1.2h-1.2zM199.9 136.2h1.2v1.2h-1.2zM117.1 136.9h1.2v1.2h-1.2zM119.5 137.4h1.2v1.2h-1.2zM120.2 137.1h1.2v1.2h-1.2zM121.4 137.1h1.2v1.2h-1.2zM124.3 136.9h1.2v1.2h-1.2zM125.6 137.8h1.2v1.2h-1.2zM127.0 137.5h1.2v1.2h-1.2zM132.4 137.5h1.2v1.2h-1.2zM181.6 137.7h1.2v1.2h-1.2zM182.7 137.2h1.2v1.2h-1.2zM184.1 136.9h1.2v1.2h-1.2zM199.0 137.3h1.2v1.2h-1.2zM200.0 137.0h1.2v1.2h-1.2zM112.7 138.5h1.2v1.2h-1.2zM113.6 138.5h1.2v1.2h-1.2zM114.0 138.2h1.2v1.2h-1.2zM115.6 138.3h1.2v1.2h-1.2zM116.4 138.2h1.2v1.2h-1.2zM119.6 138.7h1.2v1.2h-1.2zM123.6 138.4h1.2v1.2h-1.2zM126.3 138.3h1.2v1.2h-1.2zM130.7 138.3h1.2v1.2h-1.2zM133.1 138.3h1.2v1.2h-1.2zM181.4 138.7h1.2v1.2h-1.2zM182.2 138.4h1.2v1.2h-1.2zM198.0 137.9h1.2v1.2h-1.2zM123.1 139.1h1.2v1.2h-1.2zM127.4 139.1h1.2v1.2h-1.2zM180.6 139.7h1.2v1.2h-1.2zM180.9 139.6h1.2v1.2h-1.2zM183.2 139.6h1.2v1.2h-1.2zM199.8 139.6h1.2v1.2h-1.2zM116.3 140.1h1.2v1.2h-1.2zM120.4 140.6h1.2v1.2h-1.2zM124.3 140.5h1.2v1.2h-1.2zM130.1 140.8h1.2v1.2h-1.2zM179.0 140.6h1.2v1.2h-1.2zM181.1 140.4h1.2v1.2h-1.2zM197.5 140.3h1.2v1.2h-1.2zM115.3 141.7h1.2v1.2h-1.2zM180.6 141.6h1.2v1.2h-1.2zM183.7 141.5h1.2v1.2h-1.2zM184.7 141.2h1.2v1.2h-1.2zM196.6 141.3h1.2v1.2h-1.2zM197.9 141.6h1.2v1.2h-1.2zM116.3 142.1h1.2v1.2h-1.2zM122.0 142.7h1.2v1.2h-1.2zM182.8 142.5h1.2v1.2h-1.2zM184.7 142.6h1.2v1.2h-1.2zM198.0 142.3h1.2v1.2h-1.2zM183.4 143.7h1.2v1.2h-1.2zM185.6 143.7h1.2v1.2h-1.2zM195.1 143.3h1.2v1.2h-1.2zM197.5 143.4h1.2v1.2h-1.2zM200.6 143.2h1.2v1.2h-1.2zM182.0 143.9h1.2v1.2h-1.2zM186.2 144.2h1.2v1.2h-1.2zM188.7 144.5h1.2v1.2h-1.2zM190.3 144.3h1.2v1.2h-1.2zM193.3 144.7h1.2v1.2h-1.2zM195.7 144.1h1.2v1.2h-1.2zM197.5 144.0h1.2v1.2h-1.2zM198.4 144.3h1.2v1.2h-1.2zM187.1 145.0h1.2v1.2h-1.2zM188.0 145.0h1.2v1.2h-1.2zM192.4 145.5h1.2v1.2h-1.2zM195.0 145.7h1.2v1.2h-1.2zM186.0 146.0h1.2v1.2h-1.2zM187.9 146.0h1.2v1.2h-1.2zM191.8 146.5h1.2v1.2h-1.2zM192.5 146.2h1.2v1.2h-1.2zM194.0 146.0h1.2v1.2h-1.2zM196.7 146.5h1.2v1.2h-1.2zM199.5 146.6h1.2v1.2h-1.2zM189.9 147.4h1.2v1.2h-1.2zM191.7 147.2h1.2v1.2h-1.2zM192.6 146.9h1.2v1.2h-1.2zM194.6 147.0h1.2v1.2h-1.2zM190.4 148.3h1.2v1.2h-1.2zM196.2 148.3h1.2v1.2h-1.2zM195.5 152.6h1.2v1.2h-1.2zM197.2 155.4h1.2v1.2h-1.2zM106.2 185.5h1.2v1.2h-1.2zM109.4 185.1h1.2v1.2h-1.2zM110.3 184.9h1.2v1.2h-1.2zM108.3 186.3h1.2v1.2h-1.2zM110.2 186.0h1.2v1.2h-1.2zM113.3 192.8h1.2v1.2h-1.2zM111.7 193.4h1.2v1.2h-1.2zM112.4 193.6h1.2v1.2h-1.2z"/><path fill="#ccd838" d="M189.1 130.5h1.2v1.2h-1.2zM188.2 130.9h1.2v1.2h-1.2zM193.9 131.3h1.2v1.2h-1.2zM192.3 131.9h1.2v1.2h-1.2zM194.1 132.1h1.2v1.2h-1.2zM115.1 133.8h1.2v1.2h-1.2zM184.4 133.7h1.2v1.2h-1.2zM188.6 133.7h1.2v1.2h-1.2zM189.2 133.3h1.2v1.2h-1.2zM190.7 133.1h1.2v1.2h-1.2zM193.2 133.3h1.2v1.2h-1.2zM195.7 132.9h1.2v1.2h-1.2zM196.2 133.1h1.2v1.2h-1.2zM120.2 133.9h1.2v1.2h-1.2zM122.6 134.3h1.2v1.2h-1.2zM123.9 134.7h1.2v1.2h-1.2zM184.7 134.4h1.2v1.2h-1.2zM186.1 134.7h1.2v1.2h-1.2zM183.0 135.3h1.2v1.2h-1.2zM184.3 134.9h1.2v1.2h-1.2zM191.0 135.6h1.2v1.2h-1.2zM192.4 135.7h1.2v1.2h-1.2zM196.0 135.4h1.2v1.2h-1.2zM121.9 136.0h1.2v1.2h-1.2zM184.7 136.6h1.2v1.2h-1.2zM195.2 136.2h1.2v1.2h-1.2zM196.4 136.7h1.2v1.2h-1.2zM129.8 137.1h1.2v1.2h-1.2zM183.0 137.6h1.2v1.2h-1.2zM195.0 137.3h1.2v1.2h-1.2zM196.9 137.7h1.2v1.2h-1.2zM198.6 137.5h1.2v1.2h-1.2zM118.5 138.5h1.2v1.2h-1.2zM183.3 138.0h1.2v1.2h-1.2zM185.0 138.6h1.2v1.2h-1.2zM196.3 138.5h1.2v1.2h-1.2zM118.0 139.8h1.2v1.2h-1.2zM181.9 139.6h1.2v1.2h-1.2zM196.3 139.1h1.2v1.2h-1.2zM198.6 139.6h1.2v1.2h-1.2zM182.0 140.1h1.2v1.2h-1.2zM184.3 140.0h1.2v1.2h-1.2zM194.4 140.6h1.2v1.2h-1.2zM185.1 141.1h1.2v1.2h-1.2zM186.2 141.5h1.2v1.2h-1.2zM188.6 141.1h1.2v1.2h-1.2zM193.6 141.2h1.2v1.2h-1.2zM195.3 141.0h1.2v1.2h-1.2zM197.2 141.1h1.2v1.2h-1.2zM199.1 141.0h1.2v1.2h-1.2zM185.1 142.2h1.2v1.2h-1.2zM190.7 142.7h1.2v1.2h-1.2zM192.3 142.2h1.2v1.2h-1.2zM193.1 142.3h1.2v1.2h-1.2zM194.8 142.1h1.2v1.2h-1.2zM195.6 141.9h1.2v1.2h-1.2zM184.3 143.8h1.2v1.2h-1.2zM186.1 143.1h1.2v1.2h-1.2zM187.1 143.3h1.2v1.2h-1.2zM188.4 143.7h1.2v1.2h-1.2zM191.5 143.0h1.2v1.2h-1.2zM192.0 143.1h1.2v1.2h-1.2zM193.0 143.1h1.2v1.2h-1.2zM194.2 143.6h1.2v1.2h-1.2zM196.6 143.2h1.2v1.2h-1.2zM187.0 144.7h1.2v1.2h-1.2zM190.1 145.2h1.2v1.2h-1.2zM193.2 145.3h1.2v1.2h-1.2zM194.4 145.2h1.2v1.2h-1.2zM190.0 145.9h1.2v1.2h-1.2zM193.7 146.7h1.2v1.2h-1.2zM108.0 184.0h1.2v1.2h-1.2zM106.1 192.7h1.2v1.2h-1.2z"/><path fill="#f09e28" d="M190.6 132.2h1.2v1.2h-1.2zM191.0 132.4h1.2v1.2h-1.2zM187.8 133.3h1.2v1.2h-1.2zM191.4 133.7h1.2v1.2h-1.2zM192.1 133.6h1.2v1.2h-1.2zM127.8 134.8h1.2v1.2h-1.2zM187.6 134.2h1.2v1.2h-1.2zM188.4 134.2h1.2v1.2h-1.2zM190.9 134.5h1.2v1.2h-1.2zM193.8 134.3h1.2v1.2h-1.2zM189.2 135.4h1.2v1.2h-1.2zM193.4 135.3h1.2v1.2h-1.2zM194.3 135.8h1.2v1.2h-1.2zM183.6 136.5h1.2v1.2h-1.2zM192.4 136.0h1.2v1.2h-1.2zM193.4 135.9h1.2v1.2h-1.2zM194.8 136.0h1.2v1.2h-1.2zM116.1 137.2h1.2v1.2h-1.2zM186.8 137.7h1.2v1.2h-1.2zM196.1 137.1h1.2v1.2h-1.2zM184.7 138.0h1.2v1.2h-1.2zM186.2 138.5h1.2v1.2h-1.2zM187.1 138.1h1.2v1.2h-1.2zM184.1 139.3h1.2v1.2h-1.2zM185.0 139.0h1.2v1.2h-1.2zM190.0 139.4h1.2v1.2h-1.2zM192.2 139.3h1.2v1.2h-1.2zM193.7 139.7h1.2v1.2h-1.2zM185.8 140.2h1.2v1.2h-1.2zM192.8 140.8h1.2v1.2h-1.2zM196.0 140.5h1.2v1.2h-1.2zM187.0 141.6h1.2v1.2h-1.2zM191.4 140.9h1.2v1.2h-1.2zM192.7 141.7h1.2v1.2h-1.2zM194.1 141.0h1.2v1.2h-1.2zM186.5 142.0h1.2v1.2h-1.2zM187.7 142.7h1.2v1.2h-1.2zM191.2 142.6h1.2v1.2h-1.2zM190.7 143.7h1.2v1.2h-1.2zM189.1 144.1h1.2v1.2h-1.2zM191.5 144.0h1.2v1.2h-1.2zM192.1 144.2h1.2v1.2h-1.2zM194.5 144.7h1.2v1.2h-1.2zM189.1 145.3h1.2v1.2h-1.2z"/><path fill="#e25020" d="M188.9 134.0h1.2v1.2h-1.2zM192.2 134.4h1.2v1.2h-1.2zM188.6 135.3h1.2v1.2h-1.2zM190.3 135.0h1.2v1.2h-1.2zM186.5 136.5h1.2v1.2h-1.2zM187.9 136.3h1.2v1.2h-1.2zM191.3 136.7h1.2v1.2h-1.2zM185.4 137.6h1.2v1.2h-1.2zM188.6 137.7h1.2v1.2h-1.2zM191.6 137.5h1.2v1.2h-1.2zM192.7 137.2h1.2v1.2h-1.2zM193.2 136.9h1.2v1.2h-1.2zM188.5 138.4h1.2v1.2h-1.2zM191.4 138.4h1.2v1.2h-1.2zM194.3 138.0h1.2v1.2h-1.2zM186.4 139.6h1.2v1.2h-1.2zM191.5 139.0h1.2v1.2h-1.2zM195.8 139.2h1.2v1.2h-1.2zM186.2 140.0h1.2v1.2h-1.2zM186.9 140.7h1.2v1.2h-1.2zM188.0 140.5h1.2v1.2h-1.2zM189.7 140.2h1.2v1.2h-1.2zM190.4 140.3h1.2v1.2h-1.2zM190.0 141.3h1.2v1.2h-1.2zM188.1 141.9h1.2v1.2h-1.2zM196.6 142.7h1.2v1.2h-1.2zM189.5 143.6h1.2v1.2h-1.2z"/><path fill="#c81e10" d="M190.1 134.4h1.2v1.2h-1.2zM187.4 135.0h1.2v1.2h-1.2zM189.8 136.1h1.2v1.2h-1.2zM190.3 136.2h1.2v1.2h-1.2zM187.2 137.2h1.2v1.2h-1.2zM189.7 137.4h1.2v1.2h-1.2zM190.3 137.3h1.2v1.2h-1.2zM194.1 137.0h1.2v1.2h-1.2zM189.3 138.3h1.2v1.2h-1.2zM190.3 138.1h1.2v1.2h-1.2zM192.2 138.2h1.2v1.2h-1.2zM193.7 138.3h1.2v1.2h-1.2zM195.4 138.4h1.2v1.2h-1.2zM187.3 139.2h1.2v1.2h-1.2zM188.7 139.3h1.2v1.2h-1.2zM189.3 139.6h1.2v1.2h-1.2zM191.4 140.0h1.2v1.2h-1.2zM193.8 140.0h1.2v1.2h-1.2zM189.8 142.2h1.2v1.2h-1.2z"/></g><rect x="181.3" y="100.8" width="47" height="50.5" fill="none" stroke="#000" stroke-width="1.9" /><rect x="181.3" y="176.6" width="47" height="51.9" fill="none" stroke="#000" stroke-width="1.9" /><rect x="83" y="63.1" width="192.3" height="165.4" fill="none" stroke="#000" stroke-width="2" /><g transform="translate(54.29,82.27) scale(0.06083,0.06413)" fill="#231f20" font-weight="normal" stroke="#231f20" stroke-width="3.20" ><text x="0.00" y="0.00" font-size="200">10</text><text x="222.47" y="-86.00" font-size="140">5</text></g><g transform="translate(54.29,119.88) scale(0.06040,0.06114)" fill="#231f20" font-weight="normal" stroke="#231f20" stroke-width="3.29" ><text x="0.00" y="0.00" font-size="200">10</text><text x="222.47" y="-86.00" font-size="140">4</text></g><g transform="translate(54.17,158.08) scale(0.06226,0.06237)" fill="#231f20" font-weight="normal" stroke="#231f20" stroke-width="3.21" ><text x="0.00" y="0.00" font-size="200">10</text><text x="222.47" y="-86.00" font-size="140">3</text></g><g transform="translate(54.15,197.78) scale(0.06356,0.06237)" fill="#231f20" font-weight="normal" stroke="#231f20" stroke-width="3.18" ><text x="0.00" y="0.00" font-size="200">10</text><text x="222.47" y="-86.00" font-size="140">2</text></g><g transform="translate(61.62,216.18) scale(0.05937,0.06197)" fill="#231f20" font-weight="normal" stroke="#231f20" stroke-width="3.30" ><text x="0.00" y="0.00" font-size="200">0</text></g><g transform="translate(45.04,160.98) rotate(-90) scale(0.05801,0.08134)" fill="#231f20" font-weight="normal" stroke="#231f20" stroke-width="2.91" ><text x="0.00" y="0.00" font-size="200">CD38</text></g><g transform="translate(97.43,250.78) scale(0.05833,0.06197)" fill="#231f20" font-weight="normal" stroke="#231f20" stroke-width="3.33" ><text x="0.00" y="0.00" font-size="200">0</text></g><g transform="translate(113.21,250.78) scale(0.06572,0.06183)" fill="#231f20" font-weight="normal" stroke="#231f20" stroke-width="3.14" ><text x="0.00" y="0.00" font-size="200">10</text><text x="222.47" y="-86.00" font-size="140">2</text></g><g transform="translate(158.34,250.78) scale(0.06405,0.06129)" fill="#231f20" font-weight="normal" stroke="#231f20" stroke-width="3.19" ><text x="0.00" y="0.00" font-size="200">10</text><text x="222.47" y="-86.00" font-size="140">3</text></g><g transform="translate(203.24,250.78) scale(0.06395,0.06141)" fill="#231f20" font-weight="normal" stroke="#231f20" stroke-width="3.19" ><text x="0.00" y="0.00" font-size="200">10</text><text x="222.47" y="-86.00" font-size="140">4</text></g><g transform="translate(248.23,250.78) scale(0.06441,0.06141)" fill="#231f20" font-weight="normal" stroke="#231f20" stroke-width="3.18" ><text x="0.00" y="0.00" font-size="200">10</text><text x="222.47" y="-86.00" font-size="140">5</text></g><g transform="translate(159.93,272.34) scale(0.05717,0.08099)" fill="#231f20" font-weight="normal" stroke="#231f20" stroke-width="2.94" ><text x="0.00" y="0.00" font-size="200">CD34</text></g><g transform="translate(235.61,126.47) scale(0.05867,0.06327)" fill="#231f20" font-weight="normal" stroke="#231f20" stroke-width="3.28" ><text x="0.00" y="0.00" font-size="200">CD34</text><text x="511.34" y="-54.00" font-size="156" font-weight="bold">+</text><text x="602.45" y="0.00" font-size="200">38</text><text x="824.92" y="-54.00" font-size="156" font-weight="bold">+</text></g><g transform="translate(237.51,209.38) scale(0.05933,0.05986)" fill="#231f20" font-weight="normal" stroke="#231f20" stroke-width="3.36" ><text x="0.00" y="0.00" font-size="200">CD34</text><text x="511.34" y="-54.00" font-size="156" font-weight="bold">+</text><text x="602.45" y="0.00" font-size="200">38</text><text x="824.92" y="-72.00" font-size="150">-</text></g><defs><filter id="b1" x="-20%" y="-50%" width="140%" height="200%"><feGaussianBlur stdDeviation="1.0"/></filter><filter id="b2" x="-20%" y="-50%" width="140%" height="200%"><feGaussianBlur stdDeviation="2"/></filter><filter id="b05" x="-20%" y="-50%" width="140%" height="200%"><feGaussianBlur stdDeviation="0.7"/></filter><filter id="grain" x="0" y="0" width="100%" height="100%"><feTurbulence type="fractalNoise" baseFrequency="0.45" numOctaves="2" seed="3"/><feColorMatrix type="matrix" values="0 0 0 0 0  0 0 0 0 0  0 0 0 0 0  0.9 0 0 0 -0.38"/><feComposite in2="SourceGraphic" operator="in"/></filter></defs><rect x="327.5" y="78" width="97.5" height="92.5" fill="#e4e4e4" /><rect x="328" y="177" width="97" height="50" fill="#efefef" /><g filter="url(#b2)"><rect x="342" y="80" width="34" height="90" fill="#d8d8d8" /><rect x="387" y="80" width="35" height="90" fill="#dedede" /><rect x="343" y="112" width="33" height="40" fill="#bababa" /><rect x="388" y="106" width="30" height="40" fill="#d4d4d4" /><rect x="377" y="80" width="8" height="90" fill="#ebebeb" /><rect x="342" y="179" width="35" height="46" fill="#e4e4e4" /><rect x="386" y="179" width="37" height="46" fill="#e6e6e6" /></g><rect x="327.5" y="78" width="97.5" height="92.5" fill="#000" opacity="0.35" filter="url(#grain)"/><rect x="328" y="177" width="97" height="50" fill="#000" opacity="0.18" filter="url(#grain)"/><g filter="url(#b1)"><path d="M342 104.5 Q352 102 364 102.5 Q369 102 372.8 97.5 L373 115 Q358 115.5 342 118 Z" stroke="none" stroke-width="1.5" fill="#080808" /><path d="M389 99.5 Q402 98 415 97.5 L416.3 106.5 Q402 107 389 108.5 Z" stroke="none" stroke-width="1.5" fill="#555555" /><path d="M345 151 Q361 149.5 377.4 148.5 L377.4 152.5 Q361 153 345 154.5 Z" stroke="none" stroke-width="1.5" fill="#5a5a5a" /><path d="M392 145 Q404 144 417.3 144 L417.3 148 Q404 148.5 392 149 Z" stroke="none" stroke-width="1.5" fill="#8a8a8a" /><path d="M393 165.5 L423.5 165 L423.5 169 L393 169.3 Z" stroke="none" stroke-width="1.5" fill="#b8b8b8" /><path d="M386.8 102 L391 101.5 L391 109.4 L386.8 109.4 Z" stroke="none" stroke-width="1.5" fill="#101010" /><path d="M413.2 96.5 L416.6 96.2 L416.6 105.5 L413.2 105.7 Z" stroke="none" stroke-width="1.5" fill="#383838" /><path d="M345.8 85.6 L343.2 105.7" stroke="#777" stroke-width="2" fill="none" /><path d="M372 88 L372.6 100" stroke="#888" stroke-width="1.6" fill="none" /></g><g filter="url(#b05)"><circle cx="349.5" cy="83.7" r="1.1" fill="#333"/></g><g filter="url(#b1)"><path d="M342.3 202 Q350 199 359 199 Q368 198.5 376.4 200 L376.5 208 Q359 207.5 342.3 209.2 Z" stroke="none" stroke-width="1.5" fill="#0a0a0a" /><path d="M385.8 200 Q395 197.8 404 198.2 Q414 198 422.6 200 L422.6 206.5 Q404 206 385.8 207 Z" stroke="none" stroke-width="1.5" fill="#0a0a0a" /></g><rect x="325" y="75" width="103.2" height="154.6" fill="none" stroke="#000" stroke-width="1.9" /><line x1="325" y1="174.7" x2="428.2" y2="174.7" stroke="#000" stroke-width="2" /><path d="M428.2 92.5H433.8M428.2 136.6H433.8M428.2 197.2H433.8" stroke="#000" stroke-width="1.3" fill="none" /><g transform="translate(314.45,64.18) scale(0.06469,0.05918)" fill="#231f20" font-weight="normal" stroke="#231f20" stroke-width="3.23" ><text x="0.00" y="0.00" font-size="200">CD34</text><text x="511.34" y="-54.00" font-size="156" font-weight="bold">+</text><text x="602.45" y="0.00" font-size="200">38</text><text x="824.92" y="-72.00" font-size="150">-</text></g><g transform="translate(385.67,64.28) scale(0.06334,0.05850)" fill="#231f20" font-weight="normal" stroke="#231f20" stroke-width="3.29" ><text x="0.00" y="0.00" font-size="200">CD34</text><text x="511.34" y="-54.00" font-size="156" font-weight="bold">+</text><text x="602.45" y="0.00" font-size="200">38</text><text x="824.92" y="-54.00" font-size="156" font-weight="bold">+</text></g><g transform="translate(437.73,97.48) scale(0.06044,0.06127)" fill="#231f20" font-weight="normal" stroke="#231f20" stroke-width="3.29" ><text x="0.00" y="0.00" font-size="200">BCR-ABL 1</text></g><g transform="translate(438.10,141.40) scale(0.06210,0.06232)" fill="#231f20" font-weight="normal" stroke="#231f20" stroke-width="3.22" ><text x="0.00" y="0.00" font-size="200">ABL</text></g><g transform="translate(438.45,201.88) scale(0.06260,0.06122)" fill="#231f20" font-weight="normal" stroke="#231f20" stroke-width="3.23" ><text x="0.00" y="0.00" font-size="200">Tubulin</text></g><g transform="translate(83.03,341.76) scale(0.07716,0.06803)" fill="#231f20" font-weight="normal" stroke="#231f20" stroke-width="2.76" ><text x="0.00" y="0.00" font-size="200">CD34</text><text x="511.34" y="-54.00" font-size="156" font-weight="bold">+</text><text x="602.45" y="0.00" font-size="200">38</text><text x="824.92" y="-72.00" font-size="150">-</text></g><line x1="84" y1="436.5" x2="276" y2="436.5" stroke="#7593c2" stroke-width="1.3" /><line x1="84" y1="496.2" x2="276" y2="496.2" stroke="#7593c2" stroke-width="1.3" /><line x1="84" y1="578.4" x2="276" y2="578.4" stroke="#7593c2" stroke-width="1.3" /><line x1="166.8" y1="356.7" x2="166.8" y2="633.4" stroke="#7088ae" stroke-width="1.3" stroke-dasharray="5.9 3.94" stroke-dashoffset="3.9"/><g><path fill="#3c3c3c" d="M159.8 453.6h1.1v1.1h-1.1zM152.4 459.5h1.1v1.1h-1.1zM150.5 459.8h1.1v1.1h-1.1zM139.8 466.4h1.1v1.1h-1.1zM148.5 454.7h1.1v1.1h-1.1zM148.0 463.4h1.1v1.1h-1.1zM149.5 461.6h1.1v1.1h-1.1zM146.6 458.1h1.1v1.1h-1.1zM149.8 464.0h1.1v1.1h-1.1zM147.4 462.0h1.1v1.1h-1.1zM142.8 453.8h1.1v1.1h-1.1zM154.9 465.4h1.1v1.1h-1.1zM154.8 451.7h1.1v1.1h-1.1zM159.4 459.4h1.1v1.1h-1.1zM150.3 459.0h1.1v1.1h-1.1zM147.8 461.5h1.1v1.1h-1.1zM147.0 454.6h1.1v1.1h-1.1zM141.5 458.8h1.1v1.1h-1.1zM155.4 458.2h1.1v1.1h-1.1zM143.9 465.0h1.1v1.1h-1.1zM143.5 454.2h1.1v1.1h-1.1zM148.9 459.4h1.1v1.1h-1.1zM158.2 457.4h1.1v1.1h-1.1zM151.3 451.2h1.1v1.1h-1.1zM144.4 475.1h1.1v1.1h-1.1zM146.1 458.6h1.1v1.1h-1.1zM153.4 450.1h1.1v1.1h-1.1zM149.1 467.5h1.1v1.1h-1.1zM145.8 452.6h1.1v1.1h-1.1zM148.7 461.2h1.1v1.1h-1.1zM154.1 464.2h1.1v1.1h-1.1zM160.9 455.1h1.1v1.1h-1.1zM143.2 456.4h1.1v1.1h-1.1zM146.6 455.8h1.1v1.1h-1.1zM145.6 458.2h1.1v1.1h-1.1zM136.7 449.3h1.1v1.1h-1.1zM144.9 451.6h1.1v1.1h-1.1zM144.4 458.2h1.1v1.1h-1.1zM156.2 465.2h1.1v1.1h-1.1zM149.3 462.8h1.1v1.1h-1.1zM141.1 469.4h1.1v1.1h-1.1zM153.6 463.2h1.1v1.1h-1.1zM148.0 455.9h1.1v1.1h-1.1zM140.4 458.3h1.1v1.1h-1.1zM146.7 446.8h1.1v1.1h-1.1zM146.8 453.2h1.1v1.1h-1.1zM145.2 452.9h1.1v1.1h-1.1zM150.2 460.6h1.1v1.1h-1.1zM137.6 462.9h1.1v1.1h-1.1zM148.5 455.6h1.1v1.1h-1.1zM155.6 455.5h1.1v1.1h-1.1zM154.7 449.7h1.1v1.1h-1.1zM156.1 458.2h1.1v1.1h-1.1zM156.2 460.5h1.1v1.1h-1.1zM158.2 461.7h1.1v1.1h-1.1zM143.8 454.3h1.1v1.1h-1.1zM154.7 470.9h1.1v1.1h-1.1zM139.8 466.2h1.1v1.1h-1.1zM146.7 458.4h1.1v1.1h-1.1zM139.5 455.8h1.1v1.1h-1.1zM155.8 457.1h1.1v1.1h-1.1zM157.3 459.9h1.1v1.1h-1.1zM148.9 458.9h1.1v1.1h-1.1zM159.8 461.9h1.1v1.1h-1.1zM146.3 463.6h1.1v1.1h-1.1zM150.8 467.2h1.1v1.1h-1.1zM150.8 465.9h1.1v1.1h-1.1zM144.1 458.3h1.1v1.1h-1.1zM152.4 461.3h1.1v1.1h-1.1zM160.7 456.7h1.1v1.1h-1.1zM144.4 455.5h1.1v1.1h-1.1zM154.9 470.5h1.1v1.1h-1.1zM149.2 456.2h1.1v1.1h-1.1zM159.7 470.9h1.1v1.1h-1.1zM152.7 456.9h1.1v1.1h-1.1zM153.7 460.5h1.1v1.1h-1.1zM153.5 465.5h1.1v1.1h-1.1zM151.4 459.1h1.1v1.1h-1.1zM142.3 461.4h1.1v1.1h-1.1zM157.7 457.6h1.1v1.1h-1.1zM142.5 456.1h1.1v1.1h-1.1zM151.3 458.0h1.1v1.1h-1.1zM153.4 455.1h1.1v1.1h-1.1zM145.4 468.8h1.1v1.1h-1.1zM150.8 458.0h1.1v1.1h-1.1zM156.4 469.3h1.1v1.1h-1.1zM149.9 442.9h1.1v1.1h-1.1zM145.1 459.1h1.1v1.1h-1.1zM134.0 462.4h1.1v1.1h-1.1zM144.7 457.2h1.1v1.1h-1.1zM146.7 465.6h1.1v1.1h-1.1zM147.2 462.8h1.1v1.1h-1.1zM144.7 457.4h1.1v1.1h-1.1zM152.1 461.6h1.1v1.1h-1.1zM146.8 475.9h1.1v1.1h-1.1zM149.4 460.5h1.1v1.1h-1.1zM153.7 460.8h1.1v1.1h-1.1zM145.3 456.4h1.1v1.1h-1.1zM148.3 459.8h1.1v1.1h-1.1zM161.9 451.3h1.1v1.1h-1.1zM154.8 457.8h1.1v1.1h-1.1zM142.9 473.7h1.1v1.1h-1.1zM149.6 465.4h1.1v1.1h-1.1zM153.1 462.8h1.1v1.1h-1.1zM156.8 465.6h1.1v1.1h-1.1zM150.8 470.3h1.1v1.1h-1.1zM147.1 462.6h1.1v1.1h-1.1zM146.0 471.4h1.1v1.1h-1.1zM153.5 465.4h1.1v1.1h-1.1zM151.7 460.0h1.1v1.1h-1.1zM147.2 469.3h1.1v1.1h-1.1zM149.0 444.8h1.1v1.1h-1.1zM147.7 455.6h1.1v1.1h-1.1zM154.0 460.6h1.1v1.1h-1.1zM146.2 453.5h1.1v1.1h-1.1zM152.7 458.1h1.1v1.1h-1.1zM154.7 455.2h1.1v1.1h-1.1zM152.7 455.1h1.1v1.1h-1.1zM145.4 475.3h1.1v1.1h-1.1zM157.4 462.8h1.1v1.1h-1.1zM146.3 458.7h1.1v1.1h-1.1zM152.3 466.9h1.1v1.1h-1.1zM145.9 457.6h1.1v1.1h-1.1zM140.4 464.3h1.1v1.1h-1.1zM151.2 461.1h1.1v1.1h-1.1zM151.6 468.8h1.1v1.1h-1.1zM149.6 450.5h1.1v1.1h-1.1zM151.5 463.6h1.1v1.1h-1.1zM146.4 459.7h1.1v1.1h-1.1zM145.9 452.1h1.1v1.1h-1.1zM149.1 465.4h1.1v1.1h-1.1zM160.5 453.8h1.1v1.1h-1.1zM154.5 468.7h1.1v1.1h-1.1zM147.1 462.1h1.1v1.1h-1.1zM153.1 463.2h1.1v1.1h-1.1zM147.4 459.5h1.1v1.1h-1.1zM147.5 464.4h1.1v1.1h-1.1zM154.7 447.8h1.1v1.1h-1.1zM147.1 459.4h1.1v1.1h-1.1zM140.8 455.2h1.1v1.1h-1.1zM149.8 461.9h1.1v1.1h-1.1zM146.5 438.8h1.1v1.1h-1.1zM153.2 469.5h1.1v1.1h-1.1zM138.6 476.9h1.1v1.1h-1.1zM165.4 474.0h1.1v1.1h-1.1zM144.9 464.2h1.1v1.1h-1.1zM149.9 463.8h1.1v1.1h-1.1zM159.6 460.4h1.1v1.1h-1.1zM166.0 451.0h1.1v1.1h-1.1zM134.9 464.4h1.1v1.1h-1.1zM140.8 462.4h1.1v1.1h-1.1zM136.4 470.4h1.1v1.1h-1.1zM135.9 462.3h1.1v1.1h-1.1zM130.6 463.4h1.1v1.1h-1.1zM150.6 441.5h1.1v1.1h-1.1zM135.4 449.4h1.1v1.1h-1.1zM162.0 456.2h1.1v1.1h-1.1zM156.1 464.0h1.1v1.1h-1.1zM136.7 460.9h1.1v1.1h-1.1zM136.7 476.0h1.1v1.1h-1.1zM140.9 452.3h1.1v1.1h-1.1zM161.0 458.6h1.1v1.1h-1.1zM138.5 463.6h1.1v1.1h-1.1zM132.1 458.7h1.1v1.1h-1.1zM146.5 466.0h1.1v1.1h-1.1zM150.7 455.3h1.1v1.1h-1.1zM140.4 475.2h1.1v1.1h-1.1zM163.2 457.8h1.1v1.1h-1.1zM149.4 472.2h1.1v1.1h-1.1zM151.5 460.7h1.1v1.1h-1.1zM138.4 475.9h1.1v1.1h-1.1zM146.6 447.0h1.1v1.1h-1.1zM145.4 466.2h1.1v1.1h-1.1zM124.3 456.7h1.1v1.1h-1.1zM149.9 463.3h1.1v1.1h-1.1zM129.1 472.9h1.1v1.1h-1.1zM146.7 449.6h1.1v1.1h-1.1zM132.3 447.8h1.1v1.1h-1.1zM150.3 463.5h1.1v1.1h-1.1zM155.6 442.1h1.1v1.1h-1.1zM156.2 462.0h1.1v1.1h-1.1zM133.8 448.1h1.1v1.1h-1.1zM124.2 449.6h1.1v1.1h-1.1zM143.7 457.3h1.1v1.1h-1.1zM156.0 464.8h1.1v1.1h-1.1zM147.9 454.7h1.1v1.1h-1.1zM154.9 456.1h1.1v1.1h-1.1zM156.4 460.6h1.1v1.1h-1.1zM132.1 458.3h1.1v1.1h-1.1zM141.3 461.8h1.1v1.1h-1.1zM126.7 472.0h1.1v1.1h-1.1zM144.7 481.5h1.1v1.1h-1.1zM142.4 467.7h1.1v1.1h-1.1zM151.2 461.8h1.1v1.1h-1.1zM138.1 451.4h1.1v1.1h-1.1zM151.4 605.3h1.1v1.1h-1.1zM154.5 607.5h1.1v1.1h-1.1zM156.7 612.1h1.1v1.1h-1.1zM147.0 590.7h1.1v1.1h-1.1zM152.1 609.9h1.1v1.1h-1.1zM154.7 591.8h1.1v1.1h-1.1zM159.4 617.7h1.1v1.1h-1.1zM152.2 616.0h1.1v1.1h-1.1zM148.6 607.5h1.1v1.1h-1.1zM147.9 595.7h1.1v1.1h-1.1zM149.4 618.0h1.1v1.1h-1.1zM148.1 605.3h1.1v1.1h-1.1zM154.7 604.0h1.1v1.1h-1.1zM155.8 608.2h1.1v1.1h-1.1zM154.3 587.6h1.1v1.1h-1.1zM156.4 606.9h1.1v1.1h-1.1zM149.0 612.0h1.1v1.1h-1.1zM152.7 606.1h1.1v1.1h-1.1zM149.3 604.3h1.1v1.1h-1.1zM151.2 594.4h1.1v1.1h-1.1zM156.5 608.8h1.1v1.1h-1.1zM150.9 604.8h1.1v1.1h-1.1zM142.6 603.1h1.1v1.1h-1.1zM149.9 597.9h1.1v1.1h-1.1zM147.8 610.7h1.1v1.1h-1.1zM144.2 614.2h1.1v1.1h-1.1zM147.4 606.5h1.1v1.1h-1.1zM155.3 611.1h1.1v1.1h-1.1zM158.6 614.9h1.1v1.1h-1.1zM148.8 617.3h1.1v1.1h-1.1zM155.5 605.0h1.1v1.1h-1.1zM156.3 601.1h1.1v1.1h-1.1zM145.8 599.3h1.1v1.1h-1.1zM150.8 603.1h1.1v1.1h-1.1zM150.8 608.0h1.1v1.1h-1.1zM151.8 611.4h1.1v1.1h-1.1zM143.8 599.2h1.1v1.1h-1.1zM149.4 604.3h1.1v1.1h-1.1zM155.8 594.0h1.1v1.1h-1.1zM156.7 614.4h1.1v1.1h-1.1zM159.2 599.5h1.1v1.1h-1.1zM149.5 606.2h1.1v1.1h-1.1zM159.4 596.5h1.1v1.1h-1.1zM154.0 600.3h1.1v1.1h-1.1zM144.9 596.8h1.1v1.1h-1.1zM154.4 618.3h1.1v1.1h-1.1zM149.4 606.2h1.1v1.1h-1.1zM153.3 601.5h1.1v1.1h-1.1zM150.5 594.5h1.1v1.1h-1.1zM156.4 597.5h1.1v1.1h-1.1zM152.2 608.1h1.1v1.1h-1.1zM149.7 618.0h1.1v1.1h-1.1zM155.3 590.1h1.1v1.1h-1.1zM152.2 594.7h1.1v1.1h-1.1zM149.1 601.4h1.1v1.1h-1.1zM156.7 597.3h1.1v1.1h-1.1zM149.2 588.1h1.1v1.1h-1.1zM148.1 603.2h1.1v1.1h-1.1zM148.6 609.8h1.1v1.1h-1.1zM144.4 588.8h1.1v1.1h-1.1zM148.5 604.9h1.1v1.1h-1.1zM159.4 611.7h1.1v1.1h-1.1zM146.9 611.8h1.1v1.1h-1.1zM151.0 599.2h1.1v1.1h-1.1zM146.0 623.7h1.1v1.1h-1.1zM148.2 608.0h1.1v1.1h-1.1zM157.8 595.7h1.1v1.1h-1.1zM155.0 611.9h1.1v1.1h-1.1zM148.3 592.9h1.1v1.1h-1.1zM151.0 611.1h1.1v1.1h-1.1zM147.3 591.6h1.1v1.1h-1.1zM147.5 610.1h1.1v1.1h-1.1zM146.9 597.7h1.1v1.1h-1.1zM147.0 613.2h1.1v1.1h-1.1zM152.5 609.7h1.1v1.1h-1.1zM153.7 607.0h1.1v1.1h-1.1zM153.2 603.5h1.1v1.1h-1.1zM150.2 612.8h1.1v1.1h-1.1zM144.9 586.8h1.1v1.1h-1.1zM150.7 606.9h1.1v1.1h-1.1zM146.8 606.7h1.1v1.1h-1.1zM155.0 608.1h1.1v1.1h-1.1zM153.5 610.4h1.1v1.1h-1.1zM149.4 604.1h1.1v1.1h-1.1zM142.9 610.2h1.1v1.1h-1.1zM155.3 604.4h1.1v1.1h-1.1zM156.5 617.2h1.1v1.1h-1.1zM144.3 584.8h1.1v1.1h-1.1zM151.6 618.3h1.1v1.1h-1.1zM156.4 596.8h1.1v1.1h-1.1zM146.2 582.6h1.1v1.1h-1.1zM159.0 593.3h1.1v1.1h-1.1zM149.4 601.4h1.1v1.1h-1.1zM146.2 604.7h1.1v1.1h-1.1zM157.2 602.6h1.1v1.1h-1.1zM152.3 610.4h1.1v1.1h-1.1zM148.1 602.7h1.1v1.1h-1.1zM155.0 602.4h1.1v1.1h-1.1zM142.2 583.7h1.1v1.1h-1.1zM159.2 607.4h1.1v1.1h-1.1zM147.3 612.1h1.1v1.1h-1.1zM152.3 599.2h1.1v1.1h-1.1zM149.2 586.1h1.1v1.1h-1.1zM153.0 591.0h1.1v1.1h-1.1zM155.0 618.1h1.1v1.1h-1.1zM147.3 597.5h1.1v1.1h-1.1zM154.5 597.0h1.1v1.1h-1.1zM149.7 595.6h1.1v1.1h-1.1zM147.9 609.1h1.1v1.1h-1.1zM150.0 597.7h1.1v1.1h-1.1zM146.5 595.2h1.1v1.1h-1.1zM147.4 589.4h1.1v1.1h-1.1zM155.3 602.0h1.1v1.1h-1.1zM150.3 612.0h1.1v1.1h-1.1zM156.1 601.7h1.1v1.1h-1.1zM152.9 610.9h1.1v1.1h-1.1zM146.4 604.6h1.1v1.1h-1.1zM142.5 604.3h1.1v1.1h-1.1zM147.9 604.6h1.1v1.1h-1.1zM152.2 603.3h1.1v1.1h-1.1zM151.0 612.2h1.1v1.1h-1.1zM147.3 607.4h1.1v1.1h-1.1zM155.6 597.8h1.1v1.1h-1.1zM143.1 604.2h1.1v1.1h-1.1zM145.3 602.3h1.1v1.1h-1.1zM151.6 607.4h1.1v1.1h-1.1zM160.9 604.6h1.1v1.1h-1.1zM152.9 606.7h1.1v1.1h-1.1zM146.5 589.7h1.1v1.1h-1.1zM153.7 606.4h1.1v1.1h-1.1zM154.1 614.8h1.1v1.1h-1.1zM155.2 590.8h1.1v1.1h-1.1zM149.2 617.4h1.1v1.1h-1.1zM147.4 605.7h1.1v1.1h-1.1zM151.5 601.1h1.1v1.1h-1.1zM152.9 586.8h1.1v1.1h-1.1zM158.2 612.8h1.1v1.1h-1.1zM160.4 594.3h1.1v1.1h-1.1zM147.7 598.4h1.1v1.1h-1.1zM148.6 607.9h1.1v1.1h-1.1zM150.7 593.8h1.1v1.1h-1.1zM149.9 594.1h1.1v1.1h-1.1zM153.2 592.6h1.1v1.1h-1.1zM153.2 602.0h1.1v1.1h-1.1zM152.2 608.3h1.1v1.1h-1.1zM157.0 606.6h1.1v1.1h-1.1zM150.3 606.7h1.1v1.1h-1.1zM146.3 599.9h1.1v1.1h-1.1zM144.0 604.3h1.1v1.1h-1.1zM146.4 596.8h1.1v1.1h-1.1zM146.3 621.0h1.1v1.1h-1.1zM142.5 604.8h1.1v1.1h-1.1zM154.0 585.4h1.1v1.1h-1.1zM151.8 593.4h1.1v1.1h-1.1zM149.1 617.4h1.1v1.1h-1.1zM147.0 590.7h1.1v1.1h-1.1zM143.9 599.1h1.1v1.1h-1.1zM146.9 606.6h1.1v1.1h-1.1zM159.3 593.1h1.1v1.1h-1.1zM141.1 612.6h1.1v1.1h-1.1zM151.6 618.1h1.1v1.1h-1.1zM154.3 595.6h1.1v1.1h-1.1zM151.6 613.2h1.1v1.1h-1.1zM149.6 595.0h1.1v1.1h-1.1zM154.5 594.0h1.1v1.1h-1.1zM146.0 605.2h1.1v1.1h-1.1zM153.5 605.1h1.1v1.1h-1.1zM157.4 597.6h1.1v1.1h-1.1zM146.3 610.6h1.1v1.1h-1.1zM147.3 589.8h1.1v1.1h-1.1zM151.6 595.3h1.1v1.1h-1.1zM155.5 593.3h1.1v1.1h-1.1zM157.0 609.8h1.1v1.1h-1.1zM154.1 610.2h1.1v1.1h-1.1zM148.0 609.0h1.1v1.1h-1.1zM146.0 591.3h1.1v1.1h-1.1zM152.1 604.2h1.1v1.1h-1.1zM152.8 607.1h1.1v1.1h-1.1zM146.0 588.4h1.1v1.1h-1.1zM151.3 595.6h1.1v1.1h-1.1zM152.5 608.8h1.1v1.1h-1.1zM155.7 609.3h1.1v1.1h-1.1zM146.5 605.3h1.1v1.1h-1.1zM153.5 607.9h1.1v1.1h-1.1zM145.7 605.9h1.1v1.1h-1.1zM149.1 604.3h1.1v1.1h-1.1zM150.6 602.0h1.1v1.1h-1.1zM157.8 595.2h1.1v1.1h-1.1zM165.9 600.8h1.1v1.1h-1.1zM144.4 618.3h1.1v1.1h-1.1zM150.3 605.9h1.1v1.1h-1.1zM147.9 608.9h1.1v1.1h-1.1zM145.9 600.8h1.1v1.1h-1.1zM147.0 594.3h1.1v1.1h-1.1zM145.5 605.7h1.1v1.1h-1.1zM152.9 606.9h1.1v1.1h-1.1zM147.7 597.7h1.1v1.1h-1.1zM155.3 625.1h1.1v1.1h-1.1zM141.7 587.2h1.1v1.1h-1.1zM151.2 596.0h1.1v1.1h-1.1zM155.9 597.6h1.1v1.1h-1.1zM137.6 619.2h1.1v1.1h-1.1zM149.5 602.2h1.1v1.1h-1.1zM150.2 601.4h1.1v1.1h-1.1zM145.0 595.3h1.1v1.1h-1.1zM143.6 596.6h1.1v1.1h-1.1zM131.3 590.6h1.1v1.1h-1.1zM158.3 616.2h1.1v1.1h-1.1zM139.6 611.7h1.1v1.1h-1.1zM136.8 615.9h1.1v1.1h-1.1zM153.9 597.7h1.1v1.1h-1.1zM156.7 594.2h1.1v1.1h-1.1zM151.9 582.4h1.1v1.1h-1.1zM153.4 601.8h1.1v1.1h-1.1zM146.5 606.5h1.1v1.1h-1.1zM137.0 613.3h1.1v1.1h-1.1zM131.0 593.8h1.1v1.1h-1.1zM161.1 611.5h1.1v1.1h-1.1zM143.8 623.8h1.1v1.1h-1.1zM143.3 595.6h1.1v1.1h-1.1zM162.2 596.9h1.1v1.1h-1.1zM142.3 586.3h1.1v1.1h-1.1zM145.9 607.7h1.1v1.1h-1.1zM145.9 614.4h1.1v1.1h-1.1zM146.8 613.4h1.1v1.1h-1.1zM138.6 614.2h1.1v1.1h-1.1zM143.0 620.6h1.1v1.1h-1.1zM159.6 606.4h1.1v1.1h-1.1zM154.8 615.5h1.1v1.1h-1.1zM121.2 594.5h1.1v1.1h-1.1zM130.4 596.3h1.1v1.1h-1.1zM151.0 607.6h1.1v1.1h-1.1zM147.0 596.0h1.1v1.1h-1.1zM144.6 611.3h1.1v1.1h-1.1zM157.4 620.1h1.1v1.1h-1.1zM131.9 609.4h1.1v1.1h-1.1zM158.8 596.9h1.1v1.1h-1.1zM149.2 596.8h1.1v1.1h-1.1zM152.9 620.0h1.1v1.1h-1.1zM150.3 596.2h1.1v1.1h-1.1zM155.6 606.0h1.1v1.1h-1.1zM145.7 602.2h1.1v1.1h-1.1zM143.1 605.6h1.1v1.1h-1.1zM155.0 617.1h1.1v1.1h-1.1zM149.6 599.1h1.1v1.1h-1.1zM136.7 589.5h1.1v1.1h-1.1zM160.1 621.0h1.1v1.1h-1.1zM151.6 414h1.2v1.2h-1.2z"/></g><path d="M160 460.4L170 455.59999999999997L170 465.2Z" stroke="none" stroke-width="1.5" fill="#000" /><line x1="169" y1="460.4" x2="198.8" y2="460.4" stroke="#000" stroke-width="2.1" /><path d="M160 603.2L170 598.4000000000001L170 608.0Z" stroke="none" stroke-width="1.5" fill="#000" /><line x1="169" y1="603.2" x2="198.8" y2="603.2" stroke="#000" stroke-width="2.1" /><rect x="83" y="355.75" width="196.25" height="278.55" fill="none" stroke="#000" stroke-width="1.9" /><path d="M121.6 634.3V639.6M135.4 634.3V637.6M143.5 634.3V637.6M149.2 634.3V637.6M153.6 634.3V637.6M157.2 634.3V637.6M160.3 634.3V637.6M163.0 634.3V637.6M165.3 634.3V637.6M167.4 634.3V639.6M181.5 634.3V637.6M189.7 634.3V637.6M195.6 634.3V637.6M200.1 634.3V637.6M203.8 634.3V637.6M207.0 634.3V637.6M209.7 634.3V637.6M212.1 634.3V637.6M214.2 634.3V639.6M228.2 634.3V637.6M236.3 634.3V637.6M242.1 634.3V637.6M246.6 634.3V637.6M250.3 634.3V637.6M253.4 634.3V637.6M256.1 634.3V637.6M258.5 634.3V637.6M260.6 634.3V639.6M274.4 634.3V637.6M89.4 634.3V637.6M97.5 634.3V637.6M103.3 634.3V637.6M107.8 634.3V637.6M111.4 634.3V637.6M114.5 634.3V637.6M117.1 634.3V637.6M119.5 634.3V637.6" stroke="#000" stroke-width="1.3" fill="none" /><g transform="translate(88.25,371.97) scale(0.05524,0.06408)" fill="#231f20" font-weight="normal" stroke="#231f20" stroke-width="3.36" ><text x="0.00" y="0.00" font-size="200">G1</text></g><g transform="translate(201.75,371.38) scale(0.06068,0.05986)" fill="#231f20" font-weight="normal" stroke="#231f20" stroke-width="3.32" ><text x="0.00" y="0.00" font-size="200">S-G2-M</text></g><g transform="translate(201.97,465.28) scale(0.05935,0.06127)" fill="#231f20" font-weight="normal" stroke="#231f20" stroke-width="3.32" ><text x="0.00" y="0.00" font-size="200">96.4%</text></g><g transform="translate(88.21,486.38) scale(0.05920,0.06127)" fill="#231f20" font-weight="normal" stroke="#231f20" stroke-width="3.32" ><text x="0.00" y="0.00" font-size="200">G0</text></g><g transform="translate(88.26,516.48) scale(0.05444,0.06197)" fill="#231f20" font-weight="normal" stroke="#231f20" stroke-width="3.44" ><text x="0.00" y="0.00" font-size="200">G1</text></g><g transform="translate(201.75,512.88) scale(0.06068,0.05915)" fill="#231f20" font-weight="normal" stroke="#231f20" stroke-width="3.34" ><text x="0.00" y="0.00" font-size="200">S-G2-M</text></g><g transform="translate(201.97,609.07) scale(0.05935,0.06479)" fill="#231f20" font-weight="normal" stroke="#231f20" stroke-width="3.23" ><text x="0.00" y="0.00" font-size="200">98.6%</text></g><g transform="translate(88.42,623.68) scale(0.05840,0.06127)" fill="#231f20" font-weight="normal" stroke="#231f20" stroke-width="3.34" ><text x="0.00" y="0.00" font-size="200">G0</text></g><g transform="translate(288.06,398.12) rotate(90) scale(0.07833,0.07817)" fill="#231f20" font-weight="normal" stroke="#231f20" stroke-width="2.56" ><text x="0.00" y="0.00" font-size="200">CML</text></g><g transform="translate(287.86,516.42) rotate(90) scale(0.07984,0.07755)" fill="#231f20" font-weight="normal" stroke="#231f20" stroke-width="2.54" ><text x="0.00" y="0.00" font-size="200">Normal</text></g><g transform="translate(74.64,510.22) rotate(-90) scale(0.06395,0.08231)" fill="#231f20" font-weight="normal" stroke="#231f20" stroke-width="2.76" ><text x="0.00" y="0.00" font-size="200">Ki-67</text></g><g transform="translate(111.76,659.48) scale(0.06284,0.06129)" fill="#231f20" font-weight="normal" stroke="#231f20" stroke-width="3.22" ><text x="0.00" y="0.00" font-size="200">10</text><text x="222.47" y="-86.00" font-size="140">2</text></g><g transform="translate(157.84,659.48) scale(0.06369,0.06129)" fill="#231f20" font-weight="normal" stroke="#231f20" stroke-width="3.20" ><text x="0.00" y="0.00" font-size="200">10</text><text x="222.47" y="-86.00" font-size="140">3</text></g><g transform="translate(204.03,659.48) scale(0.06466,0.06196)" fill="#231f20" font-weight="normal" stroke="#231f20" stroke-width="3.16" ><text x="0.00" y="0.00" font-size="200">10</text><text x="222.47" y="-86.00" font-size="140">4</text></g><g transform="translate(250.64,659.48) scale(0.06405,0.06196)" fill="#231f20" font-weight="normal" stroke="#231f20" stroke-width="3.17" ><text x="0.00" y="0.00" font-size="200">10</text><text x="222.47" y="-86.00" font-size="140">5</text></g><g transform="translate(164.44,680.30) scale(0.05579,0.08043)" fill="#231f20" font-weight="normal" stroke="#231f20" stroke-width="2.99" ><text x="0.00" y="0.00" font-size="200">7-AAD</text></g><rect x="376.8" y="428.8" width="57.6" height="172.6" fill="#a8062d" /><rect x="441.2" y="443.3" width="57.6" height="158.1" fill="#2f4b7d" /><path d="M367.2 391.8V611.5H509" stroke="#000" stroke-width="1.8" fill="none" /><path d="M361.9 437.6H367.2M361.9 492.4H367.2M361.9 546.9H367.2M361.9 601.4H367.2" stroke="#000" stroke-width="1.5" fill="none" /><path d="M405.8 611.5V615.8M469.9 611.5V615.8" stroke="#000" stroke-width="1.5" fill="none" /><path d="M399.3 425.7H411.8M405.6 425.7V432.4M399.6 432.4H412" stroke="#000" stroke-width="1.5" fill="none" /><path d="M463.9 431.8H476.9M470.2 431.8V454.8M463.9 454.8H476.9" stroke="#000" stroke-width="1.5" fill="none" /><path d="M405.6 412.6V410.4H470.2V412.6" stroke="#000" stroke-width="1.5" fill="none" /><g transform="translate(428.22,407.10) scale(0.06014,0.04818)" fill="#231f20" font-weight="normal" stroke="#231f20" stroke-width="3.72" ><text x="0.00" y="0.00" font-size="200">n.s.</text></g><g transform="translate(403.92,382.27) scale(0.07798,0.06667)" fill="#231f20" font-weight="normal" stroke="#231f20" stroke-width="2.77" ><text x="0.00" y="0.00" font-size="200">CD34</text><text x="511.34" y="-54.00" font-size="156" font-weight="bold">+</text><text x="602.45" y="0.00" font-size="200">38</text><text x="824.92" y="-72.00" font-size="150">-</text></g><g transform="translate(343.02,441.77) scale(0.06408,0.06408)" fill="#231f20" font-weight="normal" stroke="#231f20" stroke-width="3.12" ><text x="0.00" y="0.00" font-size="200">90</text></g><g transform="translate(342.96,496.37) scale(0.06439,0.06268)" fill="#231f20" font-weight="normal" stroke="#231f20" stroke-width="3.15" ><text x="0.00" y="0.00" font-size="200">60</text></g><g transform="translate(343.28,550.77) scale(0.06473,0.06408)" fill="#231f20" font-weight="normal" stroke="#231f20" stroke-width="3.11" ><text x="0.00" y="0.00" font-size="200">30</text></g><g transform="translate(349.62,605.88) scale(0.07292,0.06197)" fill="#231f20" font-weight="normal" stroke="#231f20" stroke-width="2.98" ><text x="0.00" y="0.00" font-size="200">0</text></g><g transform="translate(337.63,518.42) rotate(-90) scale(0.07488,0.08310)" fill="#231f20" font-weight="normal" stroke="#231f20" stroke-width="2.54" ><text x="0.00" y="0.00" font-size="200">%G0</text></g><g transform="translate(384.84,632.18) scale(0.06602,0.05918)" fill="#231f20" font-weight="normal" stroke="#231f20" stroke-width="3.20" ><text x="0.00" y="0.00" font-size="200">Normal</text></g><g transform="translate(455.83,632.18) scale(0.06650,0.06127)" fill="#231f20" font-weight="normal" stroke="#231f20" stroke-width="3.13" ><text x="0.00" y="0.00" font-size="200">CML</text></g><rect x="88.9" y="714.9" width="26.2" height="22.5" fill="#a8062d" /><rect x="88.9" y="745.8" width="26.2" height="22.200000000000045" fill="#2f4b7d" /><rect x="88.9" y="776.7" width="26.2" height="22.199999999999932" fill="#6eae46" /><rect x="88.9" y="807.3" width="26.2" height="22.5" fill="#512767" /><g transform="translate(120.04,732.28) scale(0.06031,0.06190)" fill="#231f20" font-weight="normal" stroke="#231f20" stroke-width="3.27" ><text x="0.00" y="0.00" font-size="200">Normal CD34</text><text x="1211.47" y="-54.00" font-size="156" font-weight="bold">+</text><text x="1302.58" y="0.00" font-size="200">38</text><text x="1525.05" y="-72.00" font-size="150">-</text></g><g transform="translate(119.90,762.57) scale(0.06000,0.06667)" fill="#231f20" font-weight="normal" stroke="#231f20" stroke-width="3.16" ><text x="0.00" y="0.00" font-size="200">CML CD34</text><text x="981.77" y="-54.00" font-size="156" font-weight="bold">+</text><text x="1072.88" y="0.00" font-size="200">38</text><text x="1295.34" y="-72.00" font-size="150">-</text></g><g transform="translate(120.05,793.68) scale(0.05953,0.05986)" fill="#231f20" font-weight="normal" stroke="#231f20" stroke-width="3.35" ><text x="0.00" y="0.00" font-size="200">Normal CD34</text><text x="1211.47" y="-54.00" font-size="156" font-weight="bold">+</text><text x="1302.58" y="0.00" font-size="200">38</text><text x="1525.05" y="-54.00" font-size="156" font-weight="bold">+</text></g><g transform="translate(119.90,824.67) scale(0.05977,0.06395)" fill="#231f20" font-weight="normal" stroke="#231f20" stroke-width="3.24" ><text x="0.00" y="0.00" font-size="200">CML CD34</text><text x="981.77" y="-54.00" font-size="156" font-weight="bold">+</text><text x="1072.88" y="0.00" font-size="200">38</text><text x="1295.34" y="-54.00" font-size="156" font-weight="bold">+</text></g><path d="M107.50 943.3V941.3M102.5 941.3H112.5" stroke="#000" stroke-width="1.5" fill="none" /><rect x="97" y="943.3" width="20" height="35.5" fill="#a8062d" /><path d="M136.65 906.3V894.5M132 894.5H141.3" stroke="#000" stroke-width="1.5" fill="none" /><rect x="126.3" y="906.3" width="19.500000000000014" height="72.5" fill="#2f4b7d" /><path d="M165.00 910.8V888.3M160 888.3H170" stroke="#000" stroke-width="1.5" fill="none" /><rect x="155.5" y="910.8" width="20.19999999999999" height="68.0" fill="#6eae46" /><path d="M194.70 868.5V866.9M190 866.9H199.4" stroke="#000" stroke-width="1.5" fill="none" /><rect x="184.7" y="868.5" width="19.700000000000017" height="110.29999999999995" fill="#512767" /><path d="M243.00 947.3V942.7M238.4 942.7H247.6" stroke="#000" stroke-width="1.5" fill="none" /><rect x="233.1" y="947.3" width="19.80000000000001" height="31.5" fill="#a8062d" /><path d="M272.40 902.3V897M267.2 897H277.6" stroke="#000" stroke-width="1.5" fill="none" /><rect x="262.6" y="902.3" width="19.599999999999966" height="76.5" fill="#2f4b7d" /><path d="M301.25 912.2V887.8M296 887.8H306.5" stroke="#000" stroke-width="1.5" fill="none" /><rect x="291.5" y="912.2" width="20.0" height="66.59999999999991" fill="#6eae46" /><path d="M330.40 865.8V856.6M325.3 856.6H335.5" stroke="#000" stroke-width="1.5" fill="none" /><rect x="320.3" y="865.8" width="20.30000000000001" height="113.0" fill="#512767" /><path d="M379.30 931.5V928.5M374.7 928.5H383.9" stroke="#000" stroke-width="1.5" fill="none" /><rect x="369.4" y="931.5" width="19.80000000000001" height="47.299999999999955" fill="#a8062d" /><path d="M408.35 879.5V865.7M403.5 865.7H413.2" stroke="#000" stroke-width="1.5" fill="none" /><rect x="398.5" y="879.5" width="20.0" height="99.29999999999995" fill="#2f4b7d" /><path d="M437.85 884.6V868.5M432.9 868.5H442.8" stroke="#000" stroke-width="1.5" fill="none" /><rect x="428.2" y="884.6" width="19.69999999999999" height="94.19999999999993" fill="#6eae46" /><path d="M466.50 788.5V780.1M461.5 780.1H471.5" stroke="#000" stroke-width="1.5" fill="none" /><rect x="457.1" y="788.5" width="19.799999999999955" height="190.29999999999995" fill="#512767" /><path d="M82.8 721.2V978.8H490" stroke="#000" stroke-width="1.8" fill="none" /><path d="M77.7 725.7H82.8M77.7 789H82.8M77.7 852.2H82.8M77.7 915.1H82.8M77.7 978.8H82.8" stroke="#000" stroke-width="1.5" fill="none" /><path d="M150.6 978.8V983.2M286.6 978.8V983.2M422.7 978.8V983.2" stroke="#000" stroke-width="1.5" fill="none" /><path d="M104.3 893.8V878H139.3V894.5M141.9 869.2V852.4H198.8V866.9M167.3 852.4V869.3M244.2 895.4V879.7H275.3V897M276 855V839.3H333.7V856.6M302.5 839.3V855M378.2 866.2V849.3H411.6V865.7M419 779.4V762.2H470.8V780.1M444 762.2V779.4" stroke="#000" stroke-width="1.5" fill="none" /><g transform="translate(120.76,876.50) scale(0.03816,0.05000)" fill="#231f20" font-weight="bold" ><text x="0.00" y="0.00" font-size="200">*</text></g><g transform="translate(168.05,851.16) scale(0.04605,0.05405)" fill="#231f20" font-weight="bold" ><text x="0.00" y="0.00" font-size="200">*</text></g><g transform="translate(254.43,878.85) scale(0.06753,0.05541)" fill="#231f20" font-weight="bold" ><text x="0.00" y="0.00" font-size="200">**</text></g><g transform="translate(302.45,839.38) scale(0.05263,0.06216)" fill="#231f20" font-weight="bold" ><text x="0.00" y="0.00" font-size="200">*</text></g><g transform="translate(392.65,849.73) scale(0.05132,0.05676)" fill="#231f20" font-weight="bold" ><text x="0.00" y="0.00" font-size="200">*</text></g><g transform="translate(439.94,762.19) scale(0.06234,0.06081)" fill="#231f20" font-weight="bold" ><text x="0.00" y="0.00" font-size="200">**</text></g><g transform="translate(44.54,729.38) scale(0.06382,0.06056)" fill="#231f20" font-weight="normal" stroke="#231f20" stroke-width="3.22" ><text x="0.00" y="0.00" font-size="200">4000</text></g><g transform="translate(44.28,793.08) scale(0.06442,0.06056)" fill="#231f20" font-weight="normal" stroke="#231f20" stroke-width="3.20" ><text x="0.00" y="0.00" font-size="200">3000</text></g><g transform="translate(44.15,856.38) scale(0.06472,0.06056)" fill="#231f20" font-weight="normal" stroke="#231f20" stroke-width="3.19" ><text x="0.00" y="0.00" font-size="200">2000</text></g><g transform="translate(44.86,919.28) scale(0.06265,0.06056)" fill="#231f20" font-weight="normal" stroke="#231f20" stroke-width="3.25" ><text x="0.00" y="0.00" font-size="200">1000</text></g><g transform="translate(65.92,982.48) scale(0.06042,0.05915)" fill="#231f20" font-weight="normal" stroke="#231f20" stroke-width="3.35" ><text x="0.00" y="0.00" font-size="200">0</text></g><g transform="translate(36.15,894.31) rotate(-90) scale(0.06055,0.07687)" fill="#231f20" font-weight="normal" stroke="#231f20" stroke-width="2.93" ><text x="0.00" y="0.00" font-size="200">Geometric mean</text></g><g transform="translate(132.09,998.11) scale(0.06255,0.06167)" fill="#231f20" font-weight="normal" stroke="#231f20" stroke-width="3.22" ><text x="0.00" y="0.00" font-size="200">p-AKT</text></g><g transform="translate(262.89,998.34) scale(0.06208,0.06099)" fill="#231f20" font-weight="normal" stroke="#231f20" stroke-width="3.25" ><text x="0.00" y="0.00" font-size="200">p-STAT5</text></g><g transform="translate(406.90,998.47) scale(0.06224,0.06479)" fill="#231f20" font-weight="normal" stroke="#231f20" stroke-width="3.15" ><text x="0.00" y="0.00" font-size="200">BCL2</text></g>
</svg></body></html>
